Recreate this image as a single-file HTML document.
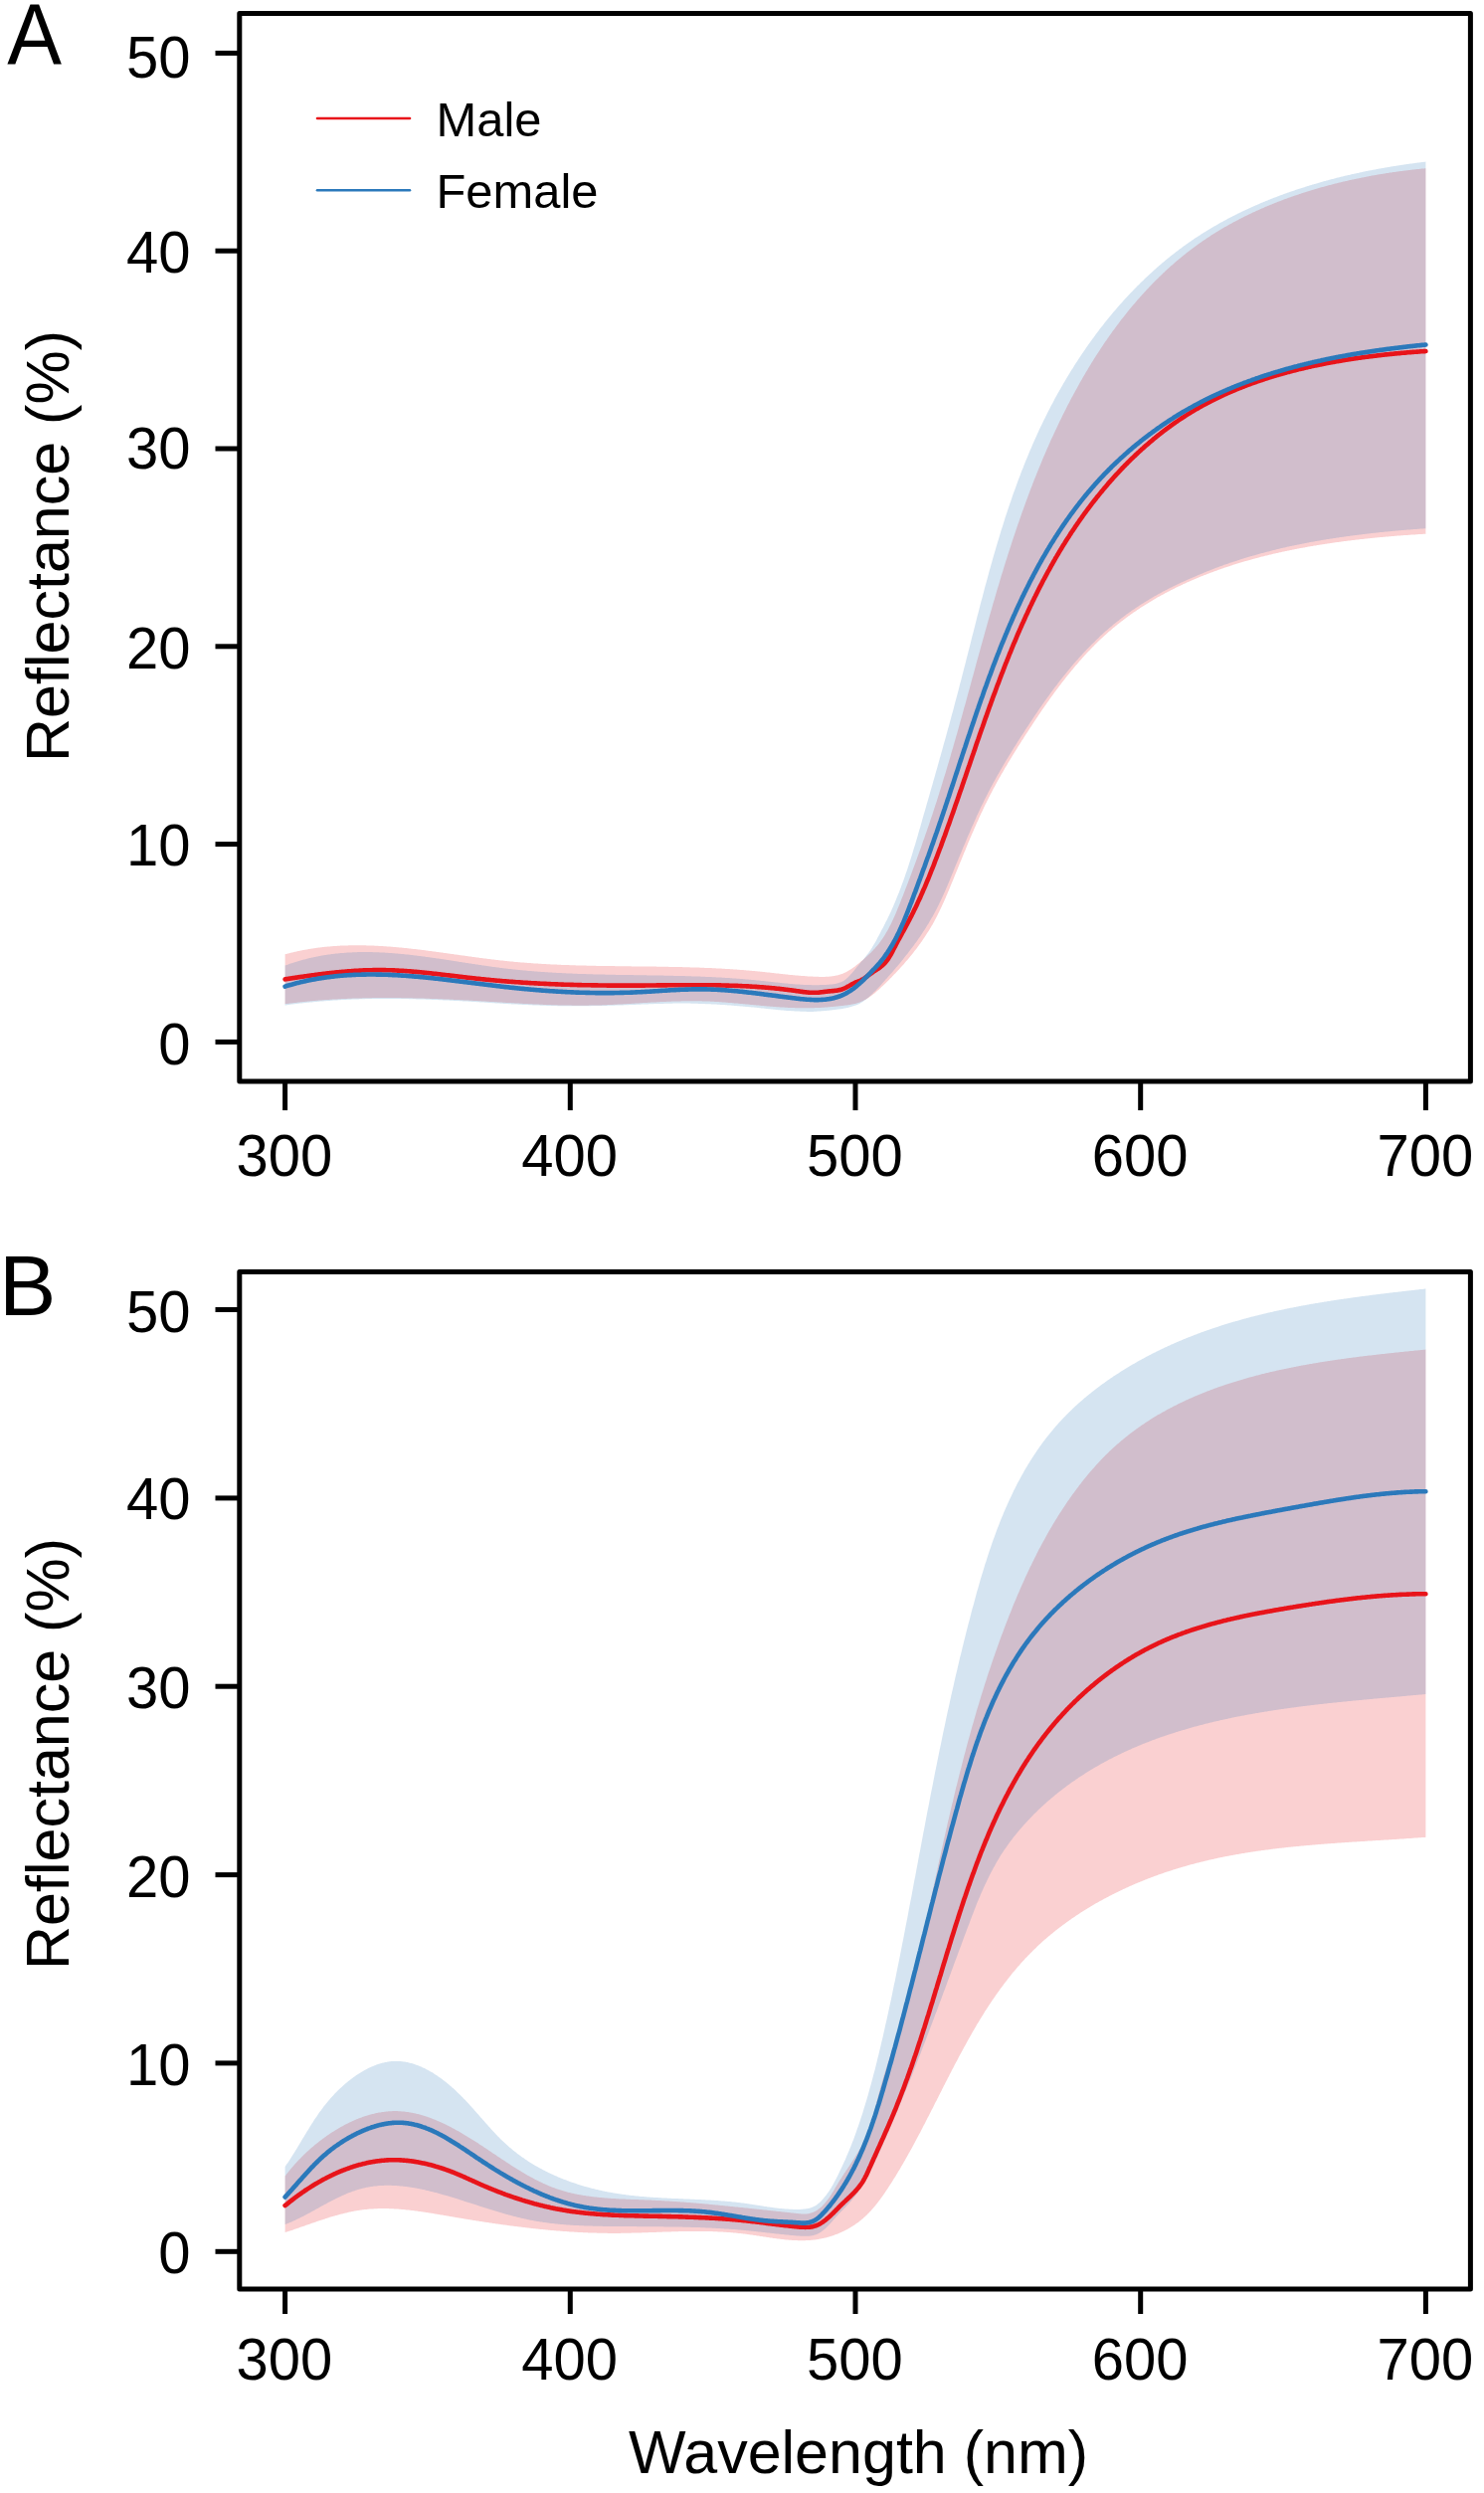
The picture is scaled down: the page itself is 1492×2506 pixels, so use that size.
<!DOCTYPE html>
<html><head><meta charset="utf-8"><title>Reflectance spectra</title>
<style>
html,body{margin:0;padding:0;background:#fff;}
body{width:1492px;height:2506px;overflow:hidden;font-family:"Liberation Sans",sans-serif;}
svg{display:block;}
text{font-family:"Liberation Sans",sans-serif;fill:#000;}
.tk{font-size:58px;}
.pl{font-size:86px;}
.lg{font-size:48.9px;}
.al{font-size:61px;}
</style></head><body>
<svg width="1492" height="2506" viewBox="0 0 1492 2506">
<rect width="1492" height="2506" fill="#fff"/>
<path d="M286.6 959.3L287.4 959.1L288.2 958.9L289.1 958.6L289.9 958.4L290.7 958.2L291.5 958.0L292.3 957.8L293.2 957.6L294.0 957.4L294.8 957.2L295.6 957.0L296.4 956.8L297.3 956.7L298.1 956.5L298.9 956.3L299.7 956.1L300.5 955.9L301.4 955.8L302.2 955.6L303.0 955.4L303.8 955.3L304.6 955.1L305.5 955.0L306.3 954.8L307.1 954.7L307.9 954.5L308.7 954.4L309.6 954.2L310.4 954.1L311.2 953.9L312.0 953.8L312.8 953.7L313.7 953.5L314.5 953.4L315.3 953.3L316.1 953.2L316.9 953.1L317.7 952.9L318.6 952.8L319.4 952.7L320.2 952.6L321.0 952.5L321.8 952.4L322.7 952.3L323.5 952.2L324.3 952.1L325.1 952.0L325.9 951.9L326.8 951.8L327.6 951.8L328.4 951.7L329.2 951.6L330.0 951.5L330.9 951.4L331.7 951.4L332.5 951.3L333.3 951.2L334.1 951.2L335.0 951.1L335.8 951.0L336.6 951.0L337.4 950.9L338.2 950.9L339.1 950.8L339.9 950.8L340.7 950.7L341.5 950.7L342.3 950.6L343.2 950.6L344.0 950.6L344.8 950.5L345.6 950.5L346.4 950.5L347.3 950.4L348.1 950.4L348.9 950.4L349.7 950.4L350.5 950.3L351.4 950.3L352.2 950.3L353.0 950.3L353.8 950.3L354.6 950.3L355.5 950.3L356.3 950.2L357.1 950.2L357.9 950.2L358.7 950.2L359.6 950.2L360.4 950.2L361.2 950.2L362.0 950.2L362.8 950.3L363.7 950.3L364.5 950.3L365.3 950.3L366.1 950.3L366.9 950.3L367.8 950.3L368.6 950.4L369.4 950.4L370.2 950.4L371.0 950.4L371.9 950.5L372.7 950.5L373.5 950.5L374.3 950.5L375.1 950.6L376.0 950.6L376.8 950.7L377.6 950.7L378.4 950.7L379.2 950.8L380.0 950.8L380.9 950.9L381.7 950.9L382.5 951.0L383.3 951.0L384.1 951.0L385.0 951.1L385.8 951.2L386.6 951.2L387.4 951.3L388.2 951.3L389.1 951.4L389.9 951.4L390.7 951.5L391.5 951.6L392.3 951.6L393.2 951.7L394.0 951.8L394.8 951.8L395.6 951.9L396.4 952.0L397.3 952.0L398.1 952.1L398.9 952.2L399.7 952.3L400.5 952.3L401.4 952.4L402.2 952.5L403.0 952.6L403.8 952.6L404.6 952.7L405.5 952.8L406.3 952.9L407.1 953.0L407.9 953.1L408.7 953.1L409.6 953.2L410.4 953.3L411.2 953.4L412.0 953.5L412.8 953.6L413.7 953.7L414.5 953.8L415.3 953.9L416.1 954.0L416.9 954.1L417.8 954.1L418.6 954.2L419.4 954.3L420.2 954.4L421.0 954.5L421.9 954.6L422.7 954.7L423.5 954.8L424.3 954.9L425.1 955.0L426.0 955.1L426.8 955.2L427.6 955.3L428.4 955.5L429.2 955.6L430.1 955.7L430.9 955.8L431.7 955.9L432.5 956.0L433.3 956.1L434.2 956.2L435.0 956.3L435.8 956.4L436.6 956.5L437.4 956.6L438.2 956.7L439.1 956.9L439.9 957.0L440.7 957.1L441.5 957.2L442.3 957.3L443.2 957.4L444.0 957.5L444.8 957.6L445.6 957.8L446.4 957.9L447.3 958.0L448.1 958.1L448.9 958.2L449.7 958.3L450.5 958.4L451.4 958.5L452.2 958.7L453.0 958.8L453.8 958.9L454.6 959.0L455.5 959.1L456.3 959.2L457.1 959.4L457.9 959.5L458.7 959.6L459.6 959.7L460.4 959.8L461.2 959.9L462.0 960.0L462.8 960.2L463.7 960.3L464.5 960.4L465.3 960.5L466.1 960.6L466.9 960.7L467.8 960.8L468.6 961.0L469.4 961.1L470.2 961.2L471.0 961.3L471.9 961.4L472.7 961.5L473.5 961.6L474.3 961.8L475.1 961.9L476.0 962.0L476.8 962.1L477.6 962.2L478.4 962.3L479.2 962.4L480.1 962.5L480.9 962.6L481.7 962.7L482.5 962.9L483.3 963.0L484.2 963.1L485.0 963.2L485.8 963.3L486.6 963.4L487.4 963.5L488.3 963.6L489.1 963.7L489.9 963.8L490.7 963.9L491.5 964.0L492.4 964.1L493.2 964.2L494.0 964.3L494.8 964.4L495.6 964.5L496.5 964.6L497.3 964.7L498.1 964.8L498.9 964.9L499.7 965.0L500.5 965.1L501.4 965.2L502.2 965.3L503.0 965.4L503.8 965.5L504.6 965.6L505.5 965.6L506.3 965.7L507.1 965.8L507.9 965.9L508.7 966.0L509.6 966.1L510.4 966.2L511.2 966.2L512.0 966.3L512.8 966.4L513.7 966.5L514.5 966.6L515.3 966.6L516.1 966.7L516.9 966.8L517.8 966.9L518.6 966.9L519.4 967.0L520.2 967.1L521.0 967.2L521.9 967.2L522.7 967.3L523.5 967.4L524.3 967.4L525.1 967.5L526.0 967.6L526.8 967.6L527.6 967.7L528.4 967.8L529.2 967.8L530.1 967.9L530.9 968.0L531.7 968.0L532.5 968.1L533.3 968.1L534.2 968.2L535.0 968.3L535.8 968.3L536.6 968.4L537.4 968.4L538.3 968.5L539.1 968.5L539.9 968.6L540.7 968.6L541.5 968.7L542.4 968.7L543.2 968.8L544.0 968.8L544.8 968.9L545.6 968.9L546.5 969.0L547.3 969.0L548.1 969.1L548.9 969.1L549.7 969.2L550.6 969.2L551.4 969.2L552.2 969.3L553.0 969.3L553.8 969.4L554.7 969.4L555.5 969.5L556.3 969.5L557.1 969.5L557.9 969.6L558.7 969.6L559.6 969.6L560.4 969.7L561.2 969.7L562.0 969.8L562.8 969.8L563.7 969.8L564.5 969.9L565.3 969.9L566.1 969.9L566.9 970.0L567.8 970.0L568.6 970.0L569.4 970.0L570.2 970.1L571.0 970.1L571.9 970.1L572.7 970.2L573.5 970.2L574.3 970.2L575.1 970.2L576.0 970.3L576.8 970.3L577.6 970.3L578.4 970.3L579.2 970.4L580.1 970.4L580.9 970.4L581.7 970.4L582.5 970.5L583.3 970.5L584.2 970.5L585.0 970.5L585.8 970.6L586.6 970.6L587.4 970.6L588.3 970.6L589.1 970.6L589.9 970.7L590.7 970.7L591.5 970.7L592.4 970.7L593.2 970.7L594.0 970.7L594.8 970.8L595.6 970.8L596.5 970.8L597.3 970.8L598.1 970.8L598.9 970.8L599.7 970.9L600.6 970.9L601.4 970.9L602.2 970.9L603.0 970.9L603.8 970.9L604.7 971.0L605.5 971.0L606.3 971.0L607.1 971.0L607.9 971.0L608.8 971.0L609.6 971.0L610.4 971.0L611.2 971.1L612.0 971.1L612.9 971.1L613.7 971.1L614.5 971.1L615.3 971.1L616.1 971.1L617.0 971.1L617.8 971.1L618.6 971.2L619.4 971.2L620.2 971.2L621.0 971.2L621.9 971.2L622.7 971.2L623.5 971.2L624.3 971.2L625.1 971.2L626.0 971.3L626.8 971.3L627.6 971.3L628.4 971.3L629.2 971.3L630.1 971.3L630.9 971.3L631.7 971.3L632.5 971.3L633.3 971.3L634.2 971.3L635.0 971.4L635.8 971.4L636.6 971.4L637.4 971.4L638.3 971.4L639.1 971.4L639.9 971.4L640.7 971.4L641.5 971.4L642.4 971.4L643.2 971.4L644.0 971.5L644.8 971.5L645.6 971.5L646.5 971.5L647.3 971.5L648.1 971.5L648.9 971.5L649.7 971.5L650.6 971.5L651.4 971.5L652.2 971.6L653.0 971.6L653.8 971.6L654.7 971.6L655.5 971.6L656.3 971.6L657.1 971.6L657.9 971.6L658.8 971.6L659.6 971.6L660.4 971.7L661.2 971.7L662.0 971.7L662.9 971.7L663.7 971.7L664.5 971.7L665.3 971.7L666.1 971.7L667.0 971.8L667.8 971.8L668.6 971.8L669.4 971.8L670.2 971.8L671.1 971.8L671.9 971.8L672.7 971.9L673.5 971.9L674.3 971.9L675.2 971.9L676.0 971.9L676.8 971.9L677.6 972.0L678.4 972.0L679.2 972.0L680.1 972.0L680.9 972.0L681.7 972.0L682.5 972.1L683.3 972.1L684.2 972.1L685.0 972.1L685.8 972.1L686.6 972.2L687.4 972.2L688.3 972.2L689.1 972.2L689.9 972.2L690.7 972.3L691.5 972.3L692.4 972.3L693.2 972.3L694.0 972.4L694.8 972.4L695.6 972.4L696.5 972.4L697.3 972.5L698.1 972.5L698.9 972.5L699.7 972.5L700.6 972.6L701.4 972.6L702.2 972.6L703.0 972.6L703.8 972.7L704.7 972.7L705.5 972.7L706.3 972.8L707.1 972.8L707.9 972.8L708.8 972.9L709.6 972.9L710.4 972.9L711.2 973.0L712.0 973.0L712.9 973.0L713.7 973.1L714.5 973.1L715.3 973.1L716.1 973.2L717.0 973.2L717.8 973.3L718.6 973.3L719.4 973.3L720.2 973.4L721.1 973.4L721.9 973.5L722.7 973.5L723.5 973.5L724.3 973.6L725.2 973.6L726.0 973.7L726.8 973.7L727.6 973.8L728.4 973.8L729.3 973.9L730.1 973.9L730.9 974.0L731.7 974.0L732.5 974.1L733.4 974.1L734.2 974.2L735.0 974.2L735.8 974.3L736.6 974.3L737.5 974.4L738.3 974.4L739.1 974.5L739.9 974.6L740.7 974.6L741.5 974.7L742.4 974.7L743.2 974.8L744.0 974.9L744.8 974.9L745.6 975.0L746.5 975.0L747.3 975.1L748.1 975.2L748.9 975.2L749.7 975.3L750.6 975.4L751.4 975.4L752.2 975.5L753.0 975.6L753.8 975.7L754.7 975.7L755.5 975.8L756.3 975.9L757.1 976.0L757.9 976.0L758.8 976.1L759.6 976.2L760.4 976.3L761.2 976.3L762.0 976.4L762.9 976.5L763.7 976.6L764.5 976.7L765.3 976.8L766.1 976.8L767.0 976.9L767.8 977.0L768.6 977.1L769.4 977.2L770.2 977.3L771.1 977.4L771.9 977.5L772.7 977.5L773.5 977.6L774.3 977.7L775.2 977.8L776.0 977.9L776.8 978.0L777.6 978.1L778.4 978.2L779.3 978.3L780.1 978.4L780.9 978.5L781.7 978.5L782.5 978.6L783.4 978.7L784.2 978.8L785.0 978.9L785.8 979.0L786.6 979.1L787.5 979.2L788.3 979.3L789.1 979.3L789.9 979.4L790.7 979.5L791.6 979.6L792.4 979.7L793.2 979.8L794.0 979.9L794.8 979.9L795.7 980.0L796.5 980.1L797.3 980.2L798.1 980.2L798.9 980.3L799.7 980.4L800.6 980.5L801.4 980.5L802.2 980.6L803.0 980.7L803.8 980.8L804.7 980.8L805.5 980.9L806.3 981.0L807.1 981.0L807.9 981.1L808.8 981.1L809.6 981.2L810.4 981.2L811.2 981.3L812.0 981.4L812.9 981.4L813.7 981.5L814.5 981.5L815.3 981.5L816.1 981.6L817.0 981.6L817.8 981.7L818.6 981.7L819.4 981.7L820.2 981.8L821.1 981.8L821.9 981.8L822.7 981.8L823.5 981.9L824.3 981.9L825.2 981.9L826.0 981.9L826.8 981.9L827.6 981.9L828.4 981.9L829.3 981.9L830.1 981.8L830.9 981.8L831.7 981.8L832.5 981.7L833.4 981.7L834.2 981.6L835.0 981.5L835.8 981.4L836.6 981.3L837.5 981.2L838.3 981.1L839.1 981.0L839.9 980.8L840.7 980.6L841.6 980.4L842.4 980.2L843.2 980.0L844.0 979.8L844.8 979.5L845.7 979.3L846.5 979.0L847.3 978.7L848.1 978.3L848.9 977.9L849.8 977.6L850.6 977.2L851.4 976.7L852.2 976.3L853.0 975.8L853.9 975.3L854.7 974.8L855.5 974.3L856.3 973.7L857.1 973.2L858.0 972.6L858.8 972.0L859.6 971.4L860.4 970.8L861.2 970.1L862.0 969.5L862.9 968.8L863.7 968.2L864.5 967.5L865.3 966.8L866.1 966.1L867.0 965.4L867.8 964.7L868.6 964.0L869.4 963.3L870.2 962.6L871.1 961.8L871.9 961.1L872.7 960.3L873.5 959.6L874.3 958.8L875.2 958.0L876.0 957.2L876.8 956.3L877.6 955.5L878.4 954.6L879.3 953.7L880.1 952.8L880.9 951.8L881.7 950.9L882.5 949.9L883.4 948.9L884.2 947.8L885.0 946.7L885.8 945.6L886.6 944.4L887.5 943.2L888.3 942.0L889.1 940.7L889.9 939.4L890.7 938.0L891.6 936.6L892.4 935.2L893.2 933.7L894.0 932.1L894.8 930.6L895.7 928.9L896.5 927.3L897.3 925.5L898.1 923.8L898.9 922.0L899.8 920.1L900.6 918.2L901.4 916.3L902.2 914.3L903.0 912.3L903.9 910.3L904.7 908.2L905.5 906.2L906.3 904.1L907.1 902.0L908.0 899.9L908.8 897.8L909.6 895.7L910.4 893.6L911.2 891.4L912.1 889.3L912.9 887.2L913.7 885.0L914.5 882.9L915.3 880.7L916.2 878.5L917.0 876.3L917.8 874.1L918.6 871.9L919.4 869.7L920.3 867.5L921.1 865.3L921.9 863.0L922.7 860.8L923.5 858.5L924.3 856.3L925.2 854.0L926.0 851.7L926.8 849.4L927.6 847.1L928.4 844.8L929.3 842.4L930.1 840.1L930.9 837.7L931.7 835.4L932.5 833.0L933.4 830.6L934.2 828.2L935.0 825.7L935.8 823.3L936.6 820.9L937.5 818.4L938.3 815.9L939.1 813.4L939.9 810.9L940.7 808.4L941.6 805.9L942.4 803.3L943.2 800.7L944.0 798.2L944.8 795.6L945.7 792.9L946.5 790.3L947.3 787.7L948.1 785.0L948.9 782.3L949.8 779.6L950.6 776.9L951.4 774.2L952.2 771.5L953.0 768.7L953.9 766.0L954.7 763.2L955.5 760.4L956.3 757.6L957.1 754.8L958.0 752.0L958.8 749.1L959.6 746.3L960.4 743.4L961.2 740.5L962.1 737.7L962.9 734.8L963.7 731.9L964.5 729.0L965.3 726.0L966.2 723.1L967.0 720.2L967.8 717.2L968.6 714.3L969.4 711.3L970.3 708.4L971.1 705.4L971.9 702.4L972.7 699.4L973.5 696.5L974.4 693.5L975.2 690.5L976.0 687.5L976.8 684.5L977.6 681.5L978.5 678.5L979.3 675.5L980.1 672.6L980.9 669.6L981.7 666.6L982.5 663.6L983.4 660.6L984.2 657.6L985.0 654.7L985.8 651.7L986.6 648.7L987.5 645.8L988.3 642.8L989.1 639.9L989.9 636.9L990.7 634.0L991.6 631.1L992.4 628.1L993.2 625.2L994.0 622.3L994.8 619.5L995.7 616.6L996.5 613.7L997.3 610.9L998.1 608.0L998.9 605.2L999.8 602.4L1000.6 599.6L1001.4 596.8L1002.2 594.0L1003.0 591.2L1003.9 588.5L1004.7 585.7L1005.5 583.0L1006.3 580.3L1007.1 577.6L1008.0 574.9L1008.8 572.2L1009.6 569.6L1010.4 566.9L1011.2 564.3L1012.1 561.7L1012.9 559.1L1013.7 556.5L1014.5 553.9L1015.3 551.4L1016.2 548.9L1017.0 546.3L1017.8 543.8L1018.6 541.4L1019.4 538.9L1020.3 536.4L1021.1 534.0L1021.9 531.6L1022.7 529.2L1023.5 526.8L1024.4 524.4L1025.2 522.0L1026.0 519.7L1026.8 517.4L1027.6 515.0L1028.5 512.7L1029.3 510.5L1030.1 508.2L1030.9 505.9L1031.7 503.7L1032.6 501.5L1033.4 499.3L1034.2 497.1L1035.0 494.9L1035.8 492.7L1036.7 490.6L1037.5 488.5L1038.3 486.3L1039.1 484.2L1039.9 482.1L1040.8 480.1L1041.6 478.0L1042.4 475.9L1043.2 473.9L1044.0 471.9L1044.8 469.9L1045.7 467.9L1046.5 465.9L1047.3 463.9L1048.1 462.0L1048.9 460.0L1049.8 458.1L1050.6 456.2L1051.4 454.3L1052.2 452.4L1053.0 450.5L1053.9 448.7L1054.7 446.8L1055.5 445.0L1056.3 443.1L1057.1 441.3L1058.0 439.5L1058.8 437.7L1059.6 435.9L1060.4 434.2L1061.2 432.4L1062.1 430.7L1062.9 428.9L1063.7 427.2L1064.5 425.5L1065.3 423.8L1066.2 422.1L1067.0 420.4L1067.8 418.7L1068.6 417.1L1069.4 415.4L1070.3 413.8L1071.1 412.2L1071.9 410.6L1072.7 408.9L1073.5 407.3L1074.4 405.8L1075.2 404.2L1076.0 402.6L1076.8 401.1L1077.6 399.5L1078.5 398.0L1079.3 396.4L1080.1 394.9L1080.9 393.4L1081.7 391.9L1082.6 390.4L1083.4 388.9L1084.2 387.5L1085.0 386.0L1085.8 384.5L1086.7 383.1L1087.5 381.7L1088.3 380.2L1089.1 378.8L1089.9 377.4L1090.8 376.0L1091.6 374.6L1092.4 373.2L1093.2 371.9L1094.0 370.5L1094.9 369.1L1095.7 367.8L1096.5 366.4L1097.3 365.1L1098.1 363.8L1099.0 362.5L1099.8 361.1L1100.6 359.8L1101.4 358.6L1102.2 357.3L1103.0 356.0L1103.9 354.7L1104.7 353.5L1105.5 352.2L1106.3 351.0L1107.1 349.7L1108.0 348.5L1108.8 347.3L1109.6 346.0L1110.4 344.8L1111.2 343.6L1112.1 342.4L1112.9 341.3L1113.7 340.1L1114.5 338.9L1115.3 337.7L1116.2 336.6L1117.0 335.4L1117.8 334.3L1118.6 333.1L1119.4 332.0L1120.3 330.9L1121.1 329.8L1121.9 328.7L1122.7 327.6L1123.5 326.5L1124.4 325.4L1125.2 324.3L1126.0 323.2L1126.8 322.1L1127.6 321.1L1128.5 320.0L1129.3 319.0L1130.1 317.9L1130.9 316.9L1131.7 315.9L1132.6 314.8L1133.4 313.8L1134.2 312.8L1135.0 311.8L1135.8 310.8L1136.7 309.8L1137.5 308.8L1138.3 307.8L1139.1 306.8L1139.9 305.9L1140.8 304.9L1141.6 304.0L1142.4 303.0L1143.2 302.1L1144.0 301.1L1144.9 300.2L1145.7 299.2L1146.5 298.3L1147.3 297.4L1148.1 296.5L1149.0 295.6L1149.8 294.7L1150.6 293.8L1151.4 292.9L1152.2 292.0L1153.1 291.1L1153.9 290.3L1154.7 289.4L1155.5 288.5L1156.3 287.7L1157.2 286.8L1158.0 286.0L1158.8 285.1L1159.6 284.3L1160.4 283.4L1161.3 282.6L1162.1 281.8L1162.9 281.0L1163.7 280.2L1164.5 279.4L1165.3 278.6L1166.2 277.8L1167.0 277.0L1167.8 276.2L1168.6 275.4L1169.4 274.6L1170.3 273.9L1171.1 273.1L1171.9 272.3L1172.7 271.6L1173.5 270.8L1174.4 270.1L1175.2 269.3L1176.0 268.6L1176.8 267.8L1177.6 267.1L1178.5 266.4L1179.3 265.7L1180.1 265.0L1180.9 264.2L1181.7 263.5L1182.6 262.8L1183.4 262.1L1184.2 261.4L1185.0 260.8L1185.8 260.1L1186.7 259.4L1187.5 258.7L1188.3 258.0L1189.1 257.4L1189.9 256.7L1190.8 256.1L1191.6 255.4L1192.4 254.7L1193.2 254.1L1194.0 253.5L1194.9 252.8L1195.7 252.2L1196.5 251.6L1197.3 250.9L1198.1 250.3L1199.0 249.7L1199.8 249.1L1200.6 248.5L1201.4 247.9L1202.2 247.3L1203.1 246.7L1203.9 246.1L1204.7 245.5L1205.5 244.9L1206.3 244.3L1207.2 243.8L1208.0 243.2L1208.8 242.6L1209.6 242.1L1210.4 241.5L1211.3 240.9L1212.1 240.4L1212.9 239.8L1213.7 239.3L1214.5 238.7L1215.4 238.2L1216.2 237.7L1217.0 237.1L1217.8 236.6L1218.6 236.1L1219.5 235.6L1220.3 235.0L1221.1 234.5L1221.9 234.0L1222.7 233.5L1223.5 233.0L1224.4 232.5L1225.2 232.0L1226.0 231.5L1226.8 231.0L1227.6 230.5L1228.5 230.0L1229.3 229.6L1230.1 229.1L1230.9 228.6L1231.7 228.1L1232.6 227.7L1233.4 227.2L1234.2 226.7L1235.0 226.3L1235.8 225.8L1236.7 225.3L1237.5 224.9L1238.3 224.4L1239.1 224.0L1239.9 223.6L1240.8 223.1L1241.6 222.7L1242.4 222.2L1243.2 221.8L1244.0 221.4L1244.9 220.9L1245.7 220.5L1246.5 220.1L1247.3 219.7L1248.1 219.3L1249.0 218.8L1249.8 218.4L1250.6 218.0L1251.4 217.6L1252.2 217.2L1253.1 216.8L1253.9 216.4L1254.7 216.0L1255.5 215.6L1256.3 215.2L1257.2 214.8L1258.0 214.4L1258.8 214.0L1259.6 213.6L1260.4 213.3L1261.3 212.9L1262.1 212.5L1262.9 212.1L1263.7 211.8L1264.5 211.4L1265.4 211.0L1266.2 210.7L1267.0 210.3L1267.8 209.9L1268.6 209.6L1269.5 209.2L1270.3 208.9L1271.1 208.5L1271.9 208.1L1272.7 207.8L1273.6 207.5L1274.4 207.1L1275.2 206.8L1276.0 206.4L1276.8 206.1L1277.7 205.7L1278.5 205.4L1279.3 205.1L1280.1 204.7L1280.9 204.4L1281.8 204.1L1282.6 203.8L1283.4 203.4L1284.2 203.1L1285.0 202.8L1285.8 202.5L1286.7 202.2L1287.5 201.9L1288.3 201.5L1289.1 201.2L1289.9 200.9L1290.8 200.6L1291.6 200.3L1292.4 200.0L1293.2 199.7L1294.0 199.4L1294.9 199.1L1295.7 198.8L1296.5 198.5L1297.3 198.2L1298.1 197.9L1299.0 197.6L1299.8 197.4L1300.6 197.1L1301.4 196.8L1302.2 196.5L1303.1 196.2L1303.9 196.0L1304.7 195.7L1305.5 195.4L1306.3 195.1L1307.2 194.9L1308.0 194.6L1308.8 194.3L1309.6 194.0L1310.4 193.8L1311.3 193.5L1312.1 193.3L1312.9 193.0L1313.7 192.7L1314.5 192.5L1315.4 192.2L1316.2 192.0L1317.0 191.7L1317.8 191.5L1318.6 191.2L1319.5 191.0L1320.3 190.7L1321.1 190.5L1321.9 190.2L1322.7 190.0L1323.6 189.8L1324.4 189.5L1325.2 189.3L1326.0 189.0L1326.8 188.8L1327.7 188.6L1328.5 188.3L1329.3 188.1L1330.1 187.9L1330.9 187.7L1331.8 187.4L1332.6 187.2L1333.4 187.0L1334.2 186.8L1335.0 186.5L1335.9 186.3L1336.7 186.1L1337.5 185.9L1338.3 185.7L1339.1 185.5L1340.0 185.3L1340.8 185.0L1341.6 184.8L1342.4 184.6L1343.2 184.4L1344.0 184.2L1344.9 184.0L1345.7 183.8L1346.5 183.6L1347.3 183.4L1348.1 183.2L1349.0 183.0L1349.8 182.8L1350.6 182.6L1351.4 182.4L1352.2 182.2L1353.1 182.1L1353.9 181.9L1354.7 181.7L1355.5 181.5L1356.3 181.3L1357.2 181.1L1358.0 180.9L1358.8 180.8L1359.6 180.6L1360.4 180.4L1361.3 180.2L1362.1 180.1L1362.9 179.9L1363.7 179.7L1364.5 179.5L1365.4 179.4L1366.2 179.2L1367.0 179.0L1367.8 178.9L1368.6 178.7L1369.5 178.5L1370.3 178.4L1371.1 178.2L1371.9 178.0L1372.7 177.9L1373.6 177.7L1374.4 177.6L1375.2 177.4L1376.0 177.3L1376.8 177.1L1377.7 176.9L1378.5 176.8L1379.3 176.6L1380.1 176.5L1380.9 176.3L1381.8 176.2L1382.6 176.1L1383.4 175.9L1384.2 175.8L1385.0 175.6L1385.9 175.5L1386.7 175.3L1387.5 175.2L1388.3 175.1L1389.1 174.9L1390.0 174.8L1390.8 174.7L1391.6 174.5L1392.4 174.4L1393.2 174.3L1394.1 174.1L1394.9 174.0L1395.7 173.9L1396.5 173.8L1397.3 173.6L1398.2 173.5L1399.0 173.4L1399.8 173.3L1400.6 173.1L1401.4 173.0L1402.3 172.9L1403.1 172.8L1403.9 172.7L1404.7 172.6L1405.5 172.4L1406.3 172.3L1407.2 172.2L1408.0 172.1L1408.8 172.0L1409.6 171.9L1410.4 171.8L1411.3 171.7L1412.1 171.6L1412.9 171.5L1413.7 171.4L1414.5 171.3L1415.4 171.2L1416.2 171.1L1417.0 171.0L1417.8 170.9L1418.6 170.8L1419.5 170.7L1420.3 170.6L1421.1 170.5L1421.9 170.4L1422.7 170.3L1423.6 170.2L1424.4 170.1L1425.2 170.0L1426.0 169.9L1426.8 169.9L1427.7 169.8L1428.5 169.7L1429.3 169.6L1430.1 169.5L1430.9 169.4L1431.8 169.4L1432.6 169.3L1433.4 169.2L1433.4 536.7L1432.6 536.7L1431.8 536.8L1430.9 536.8L1430.1 536.9L1429.3 536.9L1428.5 537.0L1427.7 537.0L1426.8 537.1L1426.0 537.1L1425.2 537.2L1424.4 537.3L1423.6 537.3L1422.7 537.4L1421.9 537.4L1421.1 537.5L1420.3 537.5L1419.5 537.6L1418.6 537.6L1417.8 537.7L1417.0 537.7L1416.2 537.8L1415.4 537.9L1414.5 537.9L1413.7 538.0L1412.9 538.0L1412.1 538.1L1411.3 538.1L1410.4 538.2L1409.6 538.3L1408.8 538.3L1408.0 538.4L1407.2 538.5L1406.3 538.5L1405.5 538.6L1404.7 538.6L1403.9 538.7L1403.1 538.8L1402.3 538.8L1401.4 538.9L1400.6 539.0L1399.8 539.0L1399.0 539.1L1398.2 539.2L1397.3 539.2L1396.5 539.3L1395.7 539.4L1394.9 539.5L1394.1 539.5L1393.2 539.6L1392.4 539.7L1391.6 539.7L1390.8 539.8L1390.0 539.9L1389.1 540.0L1388.3 540.0L1387.5 540.1L1386.7 540.2L1385.9 540.3L1385.0 540.3L1384.2 540.4L1383.4 540.5L1382.6 540.6L1381.8 540.7L1380.9 540.7L1380.1 540.8L1379.3 540.9L1378.5 541.0L1377.7 541.1L1376.8 541.2L1376.0 541.2L1375.2 541.3L1374.4 541.4L1373.6 541.5L1372.7 541.6L1371.9 541.7L1371.1 541.8L1370.3 541.9L1369.5 541.9L1368.6 542.0L1367.8 542.1L1367.0 542.2L1366.2 542.3L1365.4 542.4L1364.5 542.5L1363.7 542.6L1362.9 542.7L1362.1 542.8L1361.3 542.9L1360.4 543.0L1359.6 543.1L1358.8 543.2L1358.0 543.3L1357.2 543.4L1356.3 543.5L1355.5 543.6L1354.7 543.7L1353.9 543.8L1353.1 543.9L1352.2 544.0L1351.4 544.1L1350.6 544.2L1349.8 544.3L1349.0 544.4L1348.1 544.5L1347.3 544.7L1346.5 544.8L1345.7 544.9L1344.9 545.0L1344.0 545.1L1343.2 545.2L1342.4 545.3L1341.6 545.5L1340.8 545.6L1340.0 545.7L1339.1 545.8L1338.3 545.9L1337.5 546.0L1336.7 546.2L1335.9 546.3L1335.0 546.4L1334.2 546.5L1333.4 546.7L1332.6 546.8L1331.8 546.9L1330.9 547.0L1330.1 547.2L1329.3 547.3L1328.5 547.4L1327.7 547.6L1326.8 547.7L1326.0 547.8L1325.2 547.9L1324.4 548.1L1323.6 548.2L1322.7 548.4L1321.9 548.5L1321.1 548.6L1320.3 548.8L1319.5 548.9L1318.6 549.0L1317.8 549.2L1317.0 549.3L1316.2 549.5L1315.4 549.6L1314.5 549.8L1313.7 549.9L1312.9 550.1L1312.1 550.2L1311.3 550.4L1310.4 550.5L1309.6 550.7L1308.8 550.8L1308.0 551.0L1307.2 551.1L1306.3 551.3L1305.5 551.4L1304.7 551.6L1303.9 551.8L1303.1 551.9L1302.2 552.1L1301.4 552.2L1300.6 552.4L1299.8 552.6L1299.0 552.7L1298.1 552.9L1297.3 553.1L1296.5 553.2L1295.7 553.4L1294.9 553.6L1294.0 553.7L1293.2 553.9L1292.4 554.1L1291.6 554.3L1290.8 554.4L1289.9 554.6L1289.1 554.8L1288.3 555.0L1287.5 555.2L1286.7 555.3L1285.8 555.5L1285.0 555.7L1284.2 555.9L1283.4 556.1L1282.6 556.3L1281.8 556.4L1280.9 556.6L1280.1 556.8L1279.3 557.0L1278.5 557.2L1277.7 557.4L1276.8 557.6L1276.0 557.8L1275.2 558.0L1274.4 558.2L1273.6 558.4L1272.7 558.6L1271.9 558.8L1271.1 559.0L1270.3 559.2L1269.5 559.4L1268.6 559.6L1267.8 559.8L1267.0 560.1L1266.2 560.3L1265.4 560.5L1264.5 560.7L1263.7 560.9L1262.9 561.1L1262.1 561.4L1261.3 561.6L1260.4 561.8L1259.6 562.0L1258.8 562.3L1258.0 562.5L1257.2 562.7L1256.3 562.9L1255.5 563.2L1254.7 563.4L1253.9 563.6L1253.1 563.9L1252.2 564.1L1251.4 564.3L1250.6 564.6L1249.8 564.8L1249.0 565.1L1248.1 565.3L1247.3 565.6L1246.5 565.8L1245.7 566.1L1244.9 566.3L1244.0 566.6L1243.2 566.8L1242.4 567.1L1241.6 567.3L1240.8 567.6L1239.9 567.8L1239.1 568.1L1238.3 568.4L1237.5 568.6L1236.7 568.9L1235.8 569.2L1235.0 569.4L1234.2 569.7L1233.4 570.0L1232.6 570.2L1231.7 570.5L1230.9 570.8L1230.1 571.1L1229.3 571.4L1228.5 571.6L1227.6 571.9L1226.8 572.2L1226.0 572.5L1225.2 572.8L1224.4 573.1L1223.5 573.4L1222.7 573.7L1221.9 574.0L1221.1 574.3L1220.3 574.6L1219.5 574.9L1218.6 575.2L1217.8 575.5L1217.0 575.8L1216.2 576.1L1215.4 576.4L1214.5 576.7L1213.7 577.0L1212.9 577.4L1212.1 577.7L1211.3 578.0L1210.4 578.3L1209.6 578.7L1208.8 579.0L1208.0 579.3L1207.2 579.6L1206.3 580.0L1205.5 580.3L1204.7 580.7L1203.9 581.0L1203.1 581.3L1202.2 581.7L1201.4 582.0L1200.6 582.4L1199.8 582.7L1199.0 583.1L1198.1 583.4L1197.3 583.8L1196.5 584.2L1195.7 584.5L1194.9 584.9L1194.0 585.3L1193.2 585.6L1192.4 586.0L1191.6 586.4L1190.8 586.7L1189.9 587.1L1189.1 587.5L1188.3 587.9L1187.5 588.3L1186.7 588.7L1185.8 589.1L1185.0 589.4L1184.2 589.8L1183.4 590.2L1182.6 590.6L1181.7 591.0L1180.9 591.4L1180.1 591.9L1179.3 592.3L1178.5 592.7L1177.6 593.1L1176.8 593.5L1176.0 593.9L1175.2 594.4L1174.4 594.8L1173.5 595.2L1172.7 595.7L1171.9 596.1L1171.1 596.5L1170.3 597.0L1169.4 597.4L1168.6 597.9L1167.8 598.3L1167.0 598.8L1166.2 599.2L1165.3 599.7L1164.5 600.1L1163.7 600.6L1162.9 601.1L1162.1 601.5L1161.3 602.0L1160.4 602.5L1159.6 603.0L1158.8 603.5L1158.0 603.9L1157.2 604.4L1156.3 604.9L1155.5 605.4L1154.7 605.9L1153.9 606.4L1153.1 606.9L1152.2 607.4L1151.4 608.0L1150.6 608.5L1149.8 609.0L1149.0 609.5L1148.1 610.1L1147.3 610.6L1146.5 611.1L1145.7 611.7L1144.9 612.2L1144.0 612.7L1143.2 613.3L1142.4 613.9L1141.6 614.4L1140.8 615.0L1139.9 615.5L1139.1 616.1L1138.3 616.7L1137.5 617.3L1136.7 617.8L1135.8 618.4L1135.0 619.0L1134.2 619.6L1133.4 620.2L1132.6 620.8L1131.7 621.4L1130.9 622.0L1130.1 622.7L1129.3 623.3L1128.5 623.9L1127.6 624.5L1126.8 625.2L1126.0 625.8L1125.2 626.5L1124.4 627.1L1123.5 627.8L1122.7 628.4L1121.9 629.1L1121.1 629.8L1120.3 630.4L1119.4 631.1L1118.6 631.8L1117.8 632.5L1117.0 633.2L1116.2 633.9L1115.3 634.6L1114.5 635.3L1113.7 636.0L1112.9 636.8L1112.1 637.5L1111.2 638.2L1110.4 639.0L1109.6 639.7L1108.8 640.5L1108.0 641.2L1107.1 642.0L1106.3 642.8L1105.5 643.5L1104.7 644.3L1103.9 645.1L1103.0 645.9L1102.2 646.7L1101.4 647.5L1100.6 648.3L1099.8 649.2L1099.0 650.0L1098.1 650.8L1097.3 651.7L1096.5 652.5L1095.7 653.4L1094.9 654.2L1094.0 655.1L1093.2 656.0L1092.4 656.8L1091.6 657.7L1090.8 658.6L1089.9 659.5L1089.1 660.4L1088.3 661.3L1087.5 662.2L1086.7 663.2L1085.8 664.1L1085.0 665.0L1084.2 666.0L1083.4 666.9L1082.6 667.9L1081.7 668.8L1080.9 669.8L1080.1 670.7L1079.3 671.7L1078.5 672.7L1077.6 673.7L1076.8 674.7L1076.0 675.7L1075.2 676.7L1074.4 677.7L1073.5 678.7L1072.7 679.8L1071.9 680.8L1071.1 681.8L1070.3 682.9L1069.4 683.9L1068.6 685.0L1067.8 686.0L1067.0 687.1L1066.2 688.2L1065.3 689.2L1064.5 690.3L1063.7 691.4L1062.9 692.5L1062.1 693.6L1061.2 694.7L1060.4 695.8L1059.6 696.9L1058.8 698.1L1058.0 699.2L1057.1 700.3L1056.3 701.5L1055.5 702.6L1054.7 703.8L1053.9 704.9L1053.0 706.1L1052.2 707.2L1051.4 708.4L1050.6 709.6L1049.8 710.8L1048.9 711.9L1048.1 713.1L1047.3 714.3L1046.5 715.5L1045.7 716.7L1044.8 717.9L1044.0 719.1L1043.2 720.4L1042.4 721.6L1041.6 722.8L1040.8 724.0L1039.9 725.3L1039.1 726.5L1038.3 727.7L1037.5 729.0L1036.7 730.2L1035.8 731.5L1035.0 732.7L1034.2 734.0L1033.4 735.2L1032.6 736.5L1031.7 737.8L1030.9 739.0L1030.1 740.3L1029.3 741.6L1028.5 742.9L1027.6 744.1L1026.8 745.4L1026.0 746.7L1025.2 748.0L1024.4 749.3L1023.5 750.6L1022.7 751.9L1021.9 753.2L1021.1 754.5L1020.3 755.8L1019.4 757.2L1018.6 758.5L1017.8 759.8L1017.0 761.2L1016.2 762.5L1015.3 763.9L1014.5 765.2L1013.7 766.6L1012.9 768.0L1012.1 769.4L1011.2 770.7L1010.4 772.1L1009.6 773.5L1008.8 775.0L1008.0 776.4L1007.1 777.8L1006.3 779.2L1005.5 780.7L1004.7 782.1L1003.9 783.6L1003.0 785.1L1002.2 786.6L1001.4 788.1L1000.6 789.6L999.8 791.1L998.9 792.6L998.1 794.1L997.3 795.7L996.5 797.3L995.7 798.8L994.8 800.4L994.0 802.0L993.2 803.7L992.4 805.3L991.6 807.0L990.7 808.6L989.9 810.3L989.1 812.0L988.3 813.7L987.5 815.5L986.6 817.2L985.8 819.0L985.0 820.8L984.2 822.6L983.4 824.4L982.5 826.2L981.7 828.0L980.9 829.9L980.1 831.7L979.3 833.6L978.5 835.5L977.6 837.4L976.8 839.3L976.0 841.2L975.2 843.1L974.4 845.1L973.5 847.0L972.7 849.0L971.9 851.0L971.1 852.9L970.3 854.9L969.4 856.9L968.6 858.9L967.8 860.9L967.0 862.9L966.2 864.9L965.3 866.9L964.5 868.9L963.7 871.0L962.9 873.0L962.1 875.0L961.2 877.0L960.4 879.0L959.6 881.0L958.8 883.1L958.0 885.1L957.1 887.1L956.3 889.1L955.5 891.0L954.7 893.0L953.9 895.0L953.0 896.9L952.2 898.9L951.4 900.8L950.6 902.7L949.8 904.5L948.9 906.4L948.1 908.2L947.3 910.0L946.5 911.8L945.7 913.5L944.8 915.2L944.0 916.9L943.2 918.6L942.4 920.2L941.6 921.8L940.7 923.4L939.9 924.9L939.1 926.4L938.3 927.9L937.5 929.4L936.6 930.8L935.8 932.2L935.0 933.6L934.2 934.9L933.4 936.2L932.5 937.5L931.7 938.8L930.9 940.1L930.1 941.3L929.3 942.6L928.4 943.8L927.6 945.0L926.8 946.2L926.0 947.3L925.2 948.5L924.3 949.6L923.5 950.7L922.7 951.8L921.9 952.9L921.1 954.0L920.3 955.1L919.4 956.1L918.6 957.2L917.8 958.2L917.0 959.2L916.2 960.3L915.3 961.3L914.5 962.3L913.7 963.2L912.9 964.2L912.1 965.2L911.2 966.1L910.4 967.1L909.6 968.0L908.8 969.0L908.0 969.9L907.1 970.8L906.3 971.7L905.5 972.6L904.7 973.5L903.9 974.4L903.0 975.3L902.2 976.2L901.4 977.1L900.6 977.9L899.8 978.8L898.9 979.6L898.1 980.5L897.3 981.3L896.5 982.2L895.7 983.0L894.8 983.8L894.0 984.7L893.2 985.5L892.4 986.3L891.6 987.1L890.7 987.9L889.9 988.7L889.1 989.5L888.3 990.3L887.5 991.1L886.6 991.8L885.8 992.6L885.0 993.4L884.2 994.1L883.4 994.9L882.5 995.6L881.7 996.3L880.9 997.0L880.1 997.7L879.3 998.4L878.4 999.1L877.6 999.7L876.8 1000.3L876.0 1001.0L875.2 1001.5L874.3 1002.1L873.5 1002.7L872.7 1003.2L871.9 1003.7L871.1 1004.2L870.2 1004.7L869.4 1005.1L868.6 1005.6L867.8 1006.0L867.0 1006.3L866.1 1006.7L865.3 1007.1L864.5 1007.4L863.7 1007.7L862.9 1008.0L862.0 1008.2L861.2 1008.5L860.4 1008.7L859.6 1008.9L858.8 1009.1L858.0 1009.3L857.1 1009.4L856.3 1009.6L855.5 1009.8L854.7 1009.9L853.9 1010.0L853.0 1010.2L852.2 1010.3L851.4 1010.4L850.6 1010.5L849.8 1010.6L848.9 1010.7L848.1 1010.8L847.3 1010.9L846.5 1011.0L845.7 1011.1L844.8 1011.2L844.0 1011.3L843.2 1011.3L842.4 1011.4L841.6 1011.5L840.7 1011.6L839.9 1011.7L839.1 1011.8L838.3 1011.8L837.5 1011.9L836.6 1012.0L835.8 1012.1L835.0 1012.1L834.2 1012.2L833.4 1012.3L832.5 1012.3L831.7 1012.4L830.9 1012.5L830.1 1012.5L829.3 1012.6L828.4 1012.7L827.6 1012.7L826.8 1012.8L826.0 1012.8L825.2 1012.9L824.3 1012.9L823.5 1012.9L822.7 1013.0L821.9 1013.0L821.1 1013.1L820.2 1013.1L819.4 1013.1L818.6 1013.2L817.8 1013.2L817.0 1013.2L816.1 1013.2L815.3 1013.2L814.5 1013.3L813.7 1013.3L812.9 1013.3L812.0 1013.3L811.2 1013.3L810.4 1013.3L809.6 1013.3L808.8 1013.3L807.9 1013.3L807.1 1013.3L806.3 1013.3L805.5 1013.3L804.7 1013.3L803.8 1013.3L803.0 1013.2L802.2 1013.2L801.4 1013.2L800.6 1013.2L799.7 1013.2L798.9 1013.1L798.1 1013.1L797.3 1013.1L796.5 1013.0L795.7 1013.0L794.8 1013.0L794.0 1012.9L793.2 1012.9L792.4 1012.9L791.6 1012.8L790.7 1012.8L789.9 1012.7L789.1 1012.7L788.3 1012.6L787.5 1012.6L786.6 1012.5L785.8 1012.5L785.0 1012.4L784.2 1012.4L783.4 1012.3L782.5 1012.3L781.7 1012.2L780.9 1012.2L780.1 1012.1L779.3 1012.0L778.4 1012.0L777.6 1011.9L776.8 1011.8L776.0 1011.8L775.2 1011.7L774.3 1011.7L773.5 1011.6L772.7 1011.5L771.9 1011.4L771.1 1011.4L770.2 1011.3L769.4 1011.2L768.6 1011.2L767.8 1011.1L767.0 1011.0L766.1 1010.9L765.3 1010.9L764.5 1010.8L763.7 1010.7L762.9 1010.6L762.0 1010.6L761.2 1010.5L760.4 1010.4L759.6 1010.3L758.8 1010.3L757.9 1010.2L757.1 1010.1L756.3 1010.0L755.5 1010.0L754.7 1009.9L753.8 1009.8L753.0 1009.7L752.2 1009.6L751.4 1009.6L750.6 1009.5L749.7 1009.4L748.9 1009.3L748.1 1009.3L747.3 1009.2L746.5 1009.1L745.6 1009.0L744.8 1008.9L744.0 1008.9L743.2 1008.8L742.4 1008.7L741.5 1008.6L740.7 1008.6L739.9 1008.5L739.1 1008.4L738.3 1008.4L737.5 1008.3L736.6 1008.2L735.8 1008.1L735.0 1008.1L734.2 1008.0L733.4 1007.9L732.5 1007.9L731.7 1007.8L730.9 1007.7L730.1 1007.7L729.3 1007.6L728.4 1007.5L727.6 1007.5L726.8 1007.4L726.0 1007.4L725.2 1007.3L724.3 1007.3L723.5 1007.2L722.7 1007.1L721.9 1007.1L721.1 1007.0L720.2 1007.0L719.4 1006.9L718.6 1006.9L717.8 1006.8L717.0 1006.8L716.1 1006.8L715.3 1006.7L714.5 1006.7L713.7 1006.6L712.9 1006.6L712.0 1006.6L711.2 1006.5L710.4 1006.5L709.6 1006.5L708.8 1006.4L707.9 1006.4L707.1 1006.4L706.3 1006.4L705.5 1006.3L704.7 1006.3L703.8 1006.3L703.0 1006.3L702.2 1006.3L701.4 1006.3L700.6 1006.3L699.7 1006.2L698.9 1006.2L698.1 1006.2L697.3 1006.2L696.5 1006.2L695.6 1006.2L694.8 1006.2L694.0 1006.2L693.2 1006.2L692.4 1006.2L691.5 1006.2L690.7 1006.2L689.9 1006.3L689.1 1006.3L688.3 1006.3L687.4 1006.3L686.6 1006.3L685.8 1006.3L685.0 1006.3L684.2 1006.4L683.3 1006.4L682.5 1006.4L681.7 1006.4L680.9 1006.4L680.1 1006.5L679.2 1006.5L678.4 1006.5L677.6 1006.5L676.8 1006.6L676.0 1006.6L675.2 1006.6L674.3 1006.7L673.5 1006.7L672.7 1006.7L671.9 1006.8L671.1 1006.8L670.2 1006.8L669.4 1006.9L668.6 1006.9L667.8 1006.9L667.0 1007.0L666.1 1007.0L665.3 1007.1L664.5 1007.1L663.7 1007.1L662.9 1007.2L662.0 1007.2L661.2 1007.3L660.4 1007.3L659.6 1007.4L658.8 1007.4L657.9 1007.5L657.1 1007.5L656.3 1007.5L655.5 1007.6L654.7 1007.6L653.8 1007.7L653.0 1007.7L652.2 1007.8L651.4 1007.8L650.6 1007.9L649.7 1007.9L648.9 1008.0L648.1 1008.0L647.3 1008.1L646.5 1008.1L645.6 1008.2L644.8 1008.2L644.0 1008.3L643.2 1008.3L642.4 1008.4L641.5 1008.4L640.7 1008.5L639.9 1008.5L639.1 1008.6L638.3 1008.6L637.4 1008.7L636.6 1008.7L635.8 1008.8L635.0 1008.8L634.2 1008.9L633.3 1008.9L632.5 1009.0L631.7 1009.0L630.9 1009.1L630.1 1009.1L629.2 1009.2L628.4 1009.2L627.6 1009.3L626.8 1009.3L626.0 1009.4L625.1 1009.4L624.3 1009.5L623.5 1009.5L622.7 1009.5L621.9 1009.6L621.0 1009.6L620.2 1009.7L619.4 1009.7L618.6 1009.8L617.8 1009.8L617.0 1009.8L616.1 1009.9L615.3 1009.9L614.5 1010.0L613.7 1010.0L612.9 1010.0L612.0 1010.1L611.2 1010.1L610.4 1010.1L609.6 1010.2L608.8 1010.2L607.9 1010.2L607.1 1010.3L606.3 1010.3L605.5 1010.3L604.7 1010.4L603.8 1010.4L603.0 1010.4L602.2 1010.4L601.4 1010.5L600.6 1010.5L599.7 1010.5L598.9 1010.5L598.1 1010.5L597.3 1010.6L596.5 1010.6L595.6 1010.6L594.8 1010.6L594.0 1010.6L593.2 1010.6L592.4 1010.6L591.5 1010.7L590.7 1010.7L589.9 1010.7L589.1 1010.7L588.3 1010.7L587.4 1010.7L586.6 1010.7L585.8 1010.7L585.0 1010.7L584.2 1010.7L583.3 1010.7L582.5 1010.7L581.7 1010.7L580.9 1010.7L580.1 1010.7L579.2 1010.7L578.4 1010.7L577.6 1010.7L576.8 1010.7L576.0 1010.7L575.1 1010.7L574.3 1010.6L573.5 1010.6L572.7 1010.6L571.9 1010.6L571.0 1010.6L570.2 1010.6L569.4 1010.6L568.6 1010.5L567.8 1010.5L566.9 1010.5L566.1 1010.5L565.3 1010.5L564.5 1010.5L563.7 1010.4L562.8 1010.4L562.0 1010.4L561.2 1010.4L560.4 1010.3L559.6 1010.3L558.7 1010.3L557.9 1010.3L557.1 1010.2L556.3 1010.2L555.5 1010.2L554.7 1010.2L553.8 1010.1L553.0 1010.1L552.2 1010.1L551.4 1010.0L550.6 1010.0L549.7 1010.0L548.9 1010.0L548.1 1009.9L547.3 1009.9L546.5 1009.9L545.6 1009.8L544.8 1009.8L544.0 1009.7L543.2 1009.7L542.4 1009.7L541.5 1009.6L540.7 1009.6L539.9 1009.6L539.1 1009.5L538.3 1009.5L537.4 1009.4L536.6 1009.4L535.8 1009.4L535.0 1009.3L534.2 1009.3L533.3 1009.2L532.5 1009.2L531.7 1009.2L530.9 1009.1L530.1 1009.1L529.2 1009.0L528.4 1009.0L527.6 1008.9L526.8 1008.9L526.0 1008.9L525.1 1008.8L524.3 1008.8L523.5 1008.7L522.7 1008.7L521.9 1008.6L521.0 1008.6L520.2 1008.5L519.4 1008.5L518.6 1008.4L517.8 1008.4L516.9 1008.3L516.1 1008.3L515.3 1008.2L514.5 1008.2L513.7 1008.1L512.8 1008.1L512.0 1008.0L511.2 1008.0L510.4 1008.0L509.6 1007.9L508.7 1007.9L507.9 1007.8L507.1 1007.8L506.3 1007.7L505.5 1007.7L504.6 1007.6L503.8 1007.6L503.0 1007.5L502.2 1007.5L501.4 1007.4L500.5 1007.4L499.7 1007.3L498.9 1007.3L498.1 1007.2L497.3 1007.2L496.5 1007.1L495.6 1007.1L494.8 1007.0L494.0 1007.0L493.2 1006.9L492.4 1006.9L491.5 1006.8L490.7 1006.8L489.9 1006.7L489.1 1006.7L488.3 1006.6L487.4 1006.6L486.6 1006.5L485.8 1006.5L485.0 1006.4L484.2 1006.4L483.3 1006.3L482.5 1006.3L481.7 1006.2L480.9 1006.2L480.1 1006.1L479.2 1006.1L478.4 1006.0L477.6 1006.0L476.8 1005.9L476.0 1005.9L475.1 1005.8L474.3 1005.8L473.5 1005.8L472.7 1005.7L471.9 1005.7L471.0 1005.6L470.2 1005.6L469.4 1005.5L468.6 1005.5L467.8 1005.4L466.9 1005.4L466.1 1005.4L465.3 1005.3L464.5 1005.3L463.7 1005.2L462.8 1005.2L462.0 1005.1L461.2 1005.1L460.4 1005.1L459.6 1005.0L458.7 1005.0L457.9 1004.9L457.1 1004.9L456.3 1004.9L455.5 1004.8L454.6 1004.8L453.8 1004.7L453.0 1004.7L452.2 1004.7L451.4 1004.6L450.5 1004.6L449.7 1004.5L448.9 1004.5L448.1 1004.5L447.3 1004.4L446.4 1004.4L445.6 1004.4L444.8 1004.3L444.0 1004.3L443.2 1004.3L442.3 1004.2L441.5 1004.2L440.7 1004.2L439.9 1004.1L439.1 1004.1L438.2 1004.1L437.4 1004.0L436.6 1004.0L435.8 1004.0L435.0 1003.9L434.2 1003.9L433.3 1003.9L432.5 1003.9L431.7 1003.8L430.9 1003.8L430.1 1003.8L429.2 1003.7L428.4 1003.7L427.6 1003.7L426.8 1003.7L426.0 1003.6L425.1 1003.6L424.3 1003.6L423.5 1003.6L422.7 1003.5L421.9 1003.5L421.0 1003.5L420.2 1003.5L419.4 1003.5L418.6 1003.4L417.8 1003.4L416.9 1003.4L416.1 1003.4L415.3 1003.4L414.5 1003.3L413.7 1003.3L412.8 1003.3L412.0 1003.3L411.2 1003.3L410.4 1003.3L409.6 1003.2L408.7 1003.2L407.9 1003.2L407.1 1003.2L406.3 1003.2L405.5 1003.2L404.6 1003.2L403.8 1003.2L403.0 1003.1L402.2 1003.1L401.4 1003.1L400.5 1003.1L399.7 1003.1L398.9 1003.1L398.1 1003.1L397.3 1003.1L396.4 1003.1L395.6 1003.1L394.8 1003.1L394.0 1003.1L393.2 1003.1L392.3 1003.1L391.5 1003.1L390.7 1003.0L389.9 1003.0L389.1 1003.0L388.2 1003.0L387.4 1003.0L386.6 1003.1L385.8 1003.1L385.0 1003.1L384.1 1003.1L383.3 1003.1L382.5 1003.1L381.7 1003.1L380.9 1003.1L380.0 1003.1L379.2 1003.1L378.4 1003.1L377.6 1003.1L376.8 1003.1L376.0 1003.1L375.1 1003.1L374.3 1003.1L373.5 1003.2L372.7 1003.2L371.9 1003.2L371.0 1003.2L370.2 1003.2L369.4 1003.2L368.6 1003.2L367.8 1003.3L366.9 1003.3L366.1 1003.3L365.3 1003.3L364.5 1003.3L363.7 1003.4L362.8 1003.4L362.0 1003.4L361.2 1003.4L360.4 1003.5L359.6 1003.5L358.7 1003.5L357.9 1003.5L357.1 1003.6L356.3 1003.6L355.5 1003.6L354.6 1003.6L353.8 1003.7L353.0 1003.7L352.2 1003.7L351.4 1003.8L350.5 1003.8L349.7 1003.8L348.9 1003.9L348.1 1003.9L347.3 1003.9L346.4 1004.0L345.6 1004.0L344.8 1004.1L344.0 1004.1L343.2 1004.1L342.3 1004.2L341.5 1004.2L340.7 1004.3L339.9 1004.3L339.1 1004.4L338.2 1004.4L337.4 1004.4L336.6 1004.5L335.8 1004.5L335.0 1004.6L334.1 1004.6L333.3 1004.7L332.5 1004.7L331.7 1004.8L330.9 1004.9L330.0 1004.9L329.2 1005.0L328.4 1005.0L327.6 1005.1L326.8 1005.1L325.9 1005.2L325.1 1005.3L324.3 1005.3L323.5 1005.4L322.7 1005.4L321.8 1005.5L321.0 1005.6L320.2 1005.6L319.4 1005.7L318.6 1005.8L317.7 1005.8L316.9 1005.9L316.1 1006.0L315.3 1006.0L314.5 1006.1L313.7 1006.2L312.8 1006.3L312.0 1006.3L311.2 1006.4L310.4 1006.5L309.6 1006.6L308.7 1006.7L307.9 1006.7L307.1 1006.8L306.3 1006.9L305.5 1007.0L304.6 1007.1L303.8 1007.2L303.0 1007.2L302.2 1007.3L301.4 1007.4L300.5 1007.5L299.7 1007.6L298.9 1007.7L298.1 1007.8L297.3 1007.9L296.4 1008.0L295.6 1008.1L294.8 1008.2L294.0 1008.3L293.2 1008.4L292.3 1008.5L291.5 1008.6L290.7 1008.7L289.9 1008.8L289.1 1008.9L288.2 1009.0L287.4 1009.1L286.6 1009.2Z" fill="#E8141A" fill-opacity="0.20"/>
<path d="M286.6 970.6L287.4 970.3L288.2 970.0L289.1 969.7L289.9 969.4L290.7 969.1L291.5 968.8L292.3 968.6L293.2 968.3L294.0 968.0L294.8 967.7L295.6 967.5L296.4 967.2L297.3 967.0L298.1 966.7L298.9 966.5L299.7 966.2L300.5 966.0L301.4 965.7L302.2 965.5L303.0 965.3L303.8 965.0L304.6 964.8L305.5 964.6L306.3 964.4L307.1 964.2L307.9 963.9L308.7 963.7L309.6 963.5L310.4 963.3L311.2 963.1L312.0 963.0L312.8 962.8L313.7 962.6L314.5 962.4L315.3 962.2L316.1 962.0L316.9 961.9L317.7 961.7L318.6 961.5L319.4 961.4L320.2 961.2L321.0 961.1L321.8 960.9L322.7 960.8L323.5 960.6L324.3 960.5L325.1 960.3L325.9 960.2L326.8 960.1L327.6 960.0L328.4 959.8L329.2 959.7L330.0 959.6L330.9 959.5L331.7 959.4L332.5 959.2L333.3 959.1L334.1 959.0L335.0 958.9L335.8 958.8L336.6 958.7L337.4 958.6L338.2 958.5L339.1 958.5L339.9 958.4L340.7 958.3L341.5 958.2L342.3 958.1L343.2 958.1L344.0 958.0L344.8 957.9L345.6 957.9L346.4 957.8L347.3 957.7L348.1 957.7L348.9 957.6L349.7 957.6L350.5 957.5L351.4 957.5L352.2 957.4L353.0 957.4L353.8 957.4L354.6 957.3L355.5 957.3L356.3 957.2L357.1 957.2L357.9 957.2L358.7 957.2L359.6 957.1L360.4 957.1L361.2 957.1L362.0 957.1L362.8 957.1L363.7 957.1L364.5 957.1L365.3 957.1L366.1 957.1L366.9 957.1L367.8 957.1L368.6 957.1L369.4 957.1L370.2 957.1L371.0 957.1L371.9 957.1L372.7 957.1L373.5 957.1L374.3 957.1L375.1 957.2L376.0 957.2L376.8 957.2L377.6 957.2L378.4 957.3L379.2 957.3L380.0 957.3L380.9 957.3L381.7 957.4L382.5 957.4L383.3 957.5L384.1 957.5L385.0 957.5L385.8 957.6L386.6 957.6L387.4 957.7L388.2 957.7L389.1 957.8L389.9 957.8L390.7 957.9L391.5 957.9L392.3 958.0L393.2 958.1L394.0 958.1L394.8 958.2L395.6 958.2L396.4 958.3L397.3 958.4L398.1 958.4L398.9 958.5L399.7 958.6L400.5 958.7L401.4 958.7L402.2 958.8L403.0 958.9L403.8 959.0L404.6 959.0L405.5 959.1L406.3 959.2L407.1 959.3L407.9 959.4L408.7 959.5L409.6 959.6L410.4 959.6L411.2 959.7L412.0 959.8L412.8 959.9L413.7 960.0L414.5 960.1L415.3 960.2L416.1 960.3L416.9 960.4L417.8 960.5L418.6 960.6L419.4 960.7L420.2 960.8L421.0 960.9L421.9 961.0L422.7 961.1L423.5 961.2L424.3 961.3L425.1 961.4L426.0 961.5L426.8 961.6L427.6 961.7L428.4 961.9L429.2 962.0L430.1 962.1L430.9 962.2L431.7 962.3L432.5 962.4L433.3 962.5L434.2 962.7L435.0 962.8L435.8 962.9L436.6 963.0L437.4 963.1L438.2 963.2L439.1 963.4L439.9 963.5L440.7 963.6L441.5 963.7L442.3 963.8L443.2 964.0L444.0 964.1L444.8 964.2L445.6 964.3L446.4 964.5L447.3 964.6L448.1 964.7L448.9 964.8L449.7 965.0L450.5 965.1L451.4 965.2L452.2 965.3L453.0 965.5L453.8 965.6L454.6 965.7L455.5 965.8L456.3 966.0L457.1 966.1L457.9 966.2L458.7 966.3L459.6 966.5L460.4 966.6L461.2 966.7L462.0 966.9L462.8 967.0L463.7 967.1L464.5 967.2L465.3 967.4L466.1 967.5L466.9 967.6L467.8 967.7L468.6 967.9L469.4 968.0L470.2 968.1L471.0 968.3L471.9 968.4L472.7 968.5L473.5 968.6L474.3 968.8L475.1 968.9L476.0 969.0L476.8 969.1L477.6 969.3L478.4 969.4L479.2 969.5L480.1 969.6L480.9 969.8L481.7 969.9L482.5 970.0L483.3 970.1L484.2 970.2L485.0 970.4L485.8 970.5L486.6 970.6L487.4 970.7L488.3 970.8L489.1 971.0L489.9 971.1L490.7 971.2L491.5 971.3L492.4 971.4L493.2 971.5L494.0 971.7L494.8 971.8L495.6 971.9L496.5 972.0L497.3 972.1L498.1 972.2L498.9 972.3L499.7 972.4L500.5 972.5L501.4 972.6L502.2 972.8L503.0 972.9L503.8 973.0L504.6 973.1L505.5 973.2L506.3 973.3L507.1 973.4L507.9 973.5L508.7 973.6L509.6 973.7L510.4 973.8L511.2 973.9L512.0 974.0L512.8 974.1L513.7 974.1L514.5 974.2L515.3 974.3L516.1 974.4L516.9 974.5L517.8 974.6L518.6 974.7L519.4 974.8L520.2 974.8L521.0 974.9L521.9 975.0L522.7 975.1L523.5 975.2L524.3 975.3L525.1 975.3L526.0 975.4L526.8 975.5L527.6 975.6L528.4 975.6L529.2 975.7L530.1 975.8L530.9 975.9L531.7 975.9L532.5 976.0L533.3 976.1L534.2 976.1L535.0 976.2L535.8 976.3L536.6 976.3L537.4 976.4L538.3 976.5L539.1 976.5L539.9 976.6L540.7 976.7L541.5 976.7L542.4 976.8L543.2 976.8L544.0 976.9L544.8 977.0L545.6 977.0L546.5 977.1L547.3 977.1L548.1 977.2L548.9 977.2L549.7 977.3L550.6 977.3L551.4 977.4L552.2 977.5L553.0 977.5L553.8 977.6L554.7 977.6L555.5 977.7L556.3 977.7L557.1 977.7L557.9 977.8L558.7 977.8L559.6 977.9L560.4 977.9L561.2 978.0L562.0 978.0L562.8 978.1L563.7 978.1L564.5 978.1L565.3 978.2L566.1 978.2L566.9 978.3L567.8 978.3L568.6 978.3L569.4 978.4L570.2 978.4L571.0 978.5L571.9 978.5L572.7 978.5L573.5 978.6L574.3 978.6L575.1 978.6L576.0 978.7L576.8 978.7L577.6 978.7L578.4 978.8L579.2 978.8L580.1 978.8L580.9 978.9L581.7 978.9L582.5 978.9L583.3 978.9L584.2 979.0L585.0 979.0L585.8 979.0L586.6 979.1L587.4 979.1L588.3 979.1L589.1 979.1L589.9 979.2L590.7 979.2L591.5 979.2L592.4 979.2L593.2 979.3L594.0 979.3L594.8 979.3L595.6 979.3L596.5 979.4L597.3 979.4L598.1 979.4L598.9 979.4L599.7 979.4L600.6 979.5L601.4 979.5L602.2 979.5L603.0 979.5L603.8 979.5L604.7 979.6L605.5 979.6L606.3 979.6L607.1 979.6L607.9 979.6L608.8 979.7L609.6 979.7L610.4 979.7L611.2 979.7L612.0 979.7L612.9 979.7L613.7 979.8L614.5 979.8L615.3 979.8L616.1 979.8L617.0 979.8L617.8 979.8L618.6 979.8L619.4 979.9L620.2 979.9L621.0 979.9L621.9 979.9L622.7 979.9L623.5 979.9L624.3 979.9L625.1 980.0L626.0 980.0L626.8 980.0L627.6 980.0L628.4 980.0L629.2 980.0L630.1 980.0L630.9 980.1L631.7 980.1L632.5 980.1L633.3 980.1L634.2 980.1L635.0 980.1L635.8 980.1L636.6 980.1L637.4 980.2L638.3 980.2L639.1 980.2L639.9 980.2L640.7 980.2L641.5 980.2L642.4 980.2L643.2 980.2L644.0 980.3L644.8 980.3L645.6 980.3L646.5 980.3L647.3 980.3L648.1 980.3L648.9 980.3L649.7 980.3L650.6 980.4L651.4 980.4L652.2 980.4L653.0 980.4L653.8 980.4L654.7 980.4L655.5 980.4L656.3 980.4L657.1 980.5L657.9 980.5L658.8 980.5L659.6 980.5L660.4 980.5L661.2 980.5L662.0 980.5L662.9 980.6L663.7 980.6L664.5 980.6L665.3 980.6L666.1 980.6L667.0 980.6L667.8 980.7L668.6 980.7L669.4 980.7L670.2 980.7L671.1 980.7L671.9 980.7L672.7 980.8L673.5 980.8L674.3 980.8L675.2 980.8L676.0 980.8L676.8 980.8L677.6 980.9L678.4 980.9L679.2 980.9L680.1 980.9L680.9 980.9L681.7 981.0L682.5 981.0L683.3 981.0L684.2 981.0L685.0 981.0L685.8 981.1L686.6 981.1L687.4 981.1L688.3 981.1L689.1 981.2L689.9 981.2L690.7 981.2L691.5 981.2L692.4 981.3L693.2 981.3L694.0 981.3L694.8 981.3L695.6 981.4L696.5 981.4L697.3 981.4L698.1 981.4L698.9 981.5L699.7 981.5L700.6 981.5L701.4 981.6L702.2 981.6L703.0 981.6L703.8 981.6L704.7 981.7L705.5 981.7L706.3 981.7L707.1 981.8L707.9 981.8L708.8 981.8L709.6 981.9L710.4 981.9L711.2 981.9L712.0 982.0L712.9 982.0L713.7 982.1L714.5 982.1L715.3 982.1L716.1 982.2L717.0 982.2L717.8 982.3L718.6 982.3L719.4 982.3L720.2 982.4L721.1 982.4L721.9 982.5L722.7 982.5L723.5 982.6L724.3 982.6L725.2 982.6L726.0 982.7L726.8 982.7L727.6 982.8L728.4 982.8L729.3 982.9L730.1 982.9L730.9 983.0L731.7 983.0L732.5 983.1L733.4 983.1L734.2 983.2L735.0 983.3L735.8 983.3L736.6 983.4L737.5 983.4L738.3 983.5L739.1 983.5L739.9 983.6L740.7 983.7L741.5 983.7L742.4 983.8L743.2 983.8L744.0 983.9L744.8 984.0L745.6 984.0L746.5 984.1L747.3 984.2L748.1 984.2L748.9 984.3L749.7 984.4L750.6 984.4L751.4 984.5L752.2 984.6L753.0 984.7L753.8 984.7L754.7 984.8L755.5 984.9L756.3 985.0L757.1 985.0L757.9 985.1L758.8 985.2L759.6 985.3L760.4 985.4L761.2 985.4L762.0 985.5L762.9 985.6L763.7 985.7L764.5 985.8L765.3 985.9L766.1 985.9L767.0 986.0L767.8 986.1L768.6 986.2L769.4 986.3L770.2 986.4L771.1 986.5L771.9 986.6L772.7 986.7L773.5 986.7L774.3 986.8L775.2 986.9L776.0 987.0L776.8 987.1L777.6 987.2L778.4 987.3L779.3 987.4L780.1 987.5L780.9 987.6L781.7 987.6L782.5 987.7L783.4 987.8L784.2 987.9L785.0 988.0L785.8 988.1L786.6 988.2L787.5 988.2L788.3 988.3L789.1 988.4L789.9 988.5L790.7 988.6L791.6 988.6L792.4 988.7L793.2 988.8L794.0 988.9L794.8 988.9L795.7 989.0L796.5 989.1L797.3 989.2L798.1 989.2L798.9 989.3L799.7 989.4L800.6 989.4L801.4 989.5L802.2 989.5L803.0 989.6L803.8 989.6L804.7 989.7L805.5 989.7L806.3 989.8L807.1 989.8L807.9 989.9L808.8 989.9L809.6 990.0L810.4 990.0L811.2 990.0L812.0 990.1L812.9 990.1L813.7 990.1L814.5 990.1L815.3 990.1L816.1 990.2L817.0 990.2L817.8 990.2L818.6 990.2L819.4 990.2L820.2 990.2L821.1 990.2L821.9 990.2L822.7 990.2L823.5 990.2L824.3 990.1L825.2 990.1L826.0 990.1L826.8 990.1L827.6 990.0L828.4 990.0L829.3 990.0L830.1 989.9L830.9 989.9L831.7 989.8L832.5 989.8L833.4 989.7L834.2 989.6L835.0 989.6L835.8 989.5L836.6 989.4L837.5 989.3L838.3 989.2L839.1 989.0L839.9 988.9L840.7 988.7L841.6 988.5L842.4 988.3L843.2 988.1L844.0 987.8L844.8 987.5L845.7 987.2L846.5 986.8L847.3 986.4L848.1 985.9L848.9 985.4L849.8 984.8L850.6 984.2L851.4 983.5L852.2 982.7L853.0 981.9L853.9 981.1L854.7 980.2L855.5 979.3L856.3 978.4L857.1 977.4L858.0 976.4L858.8 975.4L859.6 974.4L860.4 973.4L861.2 972.4L862.0 971.4L862.9 970.4L863.7 969.5L864.5 968.5L865.3 967.6L866.1 966.6L867.0 965.6L867.8 964.7L868.6 963.7L869.4 962.7L870.2 961.7L871.1 960.6L871.9 959.6L872.7 958.5L873.5 957.4L874.3 956.2L875.2 955.0L876.0 953.7L876.8 952.4L877.6 951.1L878.4 949.7L879.3 948.3L880.1 946.9L880.9 945.4L881.7 943.9L882.5 942.3L883.4 940.8L884.2 939.2L885.0 937.7L885.8 936.1L886.6 934.5L887.5 933.0L888.3 931.4L889.1 929.8L889.9 928.3L890.7 926.6L891.6 925.0L892.4 923.3L893.2 921.6L894.0 919.9L894.8 918.2L895.7 916.4L896.5 914.6L897.3 912.7L898.1 910.9L898.9 909.0L899.8 907.1L900.6 905.1L901.4 903.1L902.2 901.1L903.0 899.0L903.9 897.0L904.7 894.8L905.5 892.7L906.3 890.5L907.1 888.3L908.0 886.0L908.8 883.7L909.6 881.4L910.4 879.1L911.2 876.7L912.1 874.2L912.9 871.8L913.7 869.3L914.5 866.7L915.3 864.2L916.2 861.6L917.0 859.0L917.8 856.3L918.6 853.6L919.4 850.9L920.3 848.2L921.1 845.4L921.9 842.7L922.7 839.9L923.5 837.0L924.3 834.2L925.2 831.4L926.0 828.5L926.8 825.7L927.6 822.8L928.4 820.0L929.3 817.1L930.1 814.3L930.9 811.4L931.7 808.6L932.5 805.7L933.4 802.8L934.2 800.0L935.0 797.1L935.8 794.2L936.6 791.4L937.5 788.5L938.3 785.6L939.1 782.7L939.9 779.9L940.7 777.0L941.6 774.1L942.4 771.2L943.2 768.3L944.0 765.4L944.8 762.4L945.7 759.5L946.5 756.6L947.3 753.7L948.1 750.7L948.9 747.8L949.8 744.8L950.6 741.9L951.4 738.9L952.2 735.9L953.0 733.0L953.9 730.0L954.7 727.0L955.5 724.0L956.3 721.0L957.1 717.9L958.0 714.9L958.8 711.9L959.6 708.8L960.4 705.7L961.2 702.7L962.1 699.6L962.9 696.5L963.7 693.4L964.5 690.2L965.3 687.1L966.2 683.9L967.0 680.8L967.8 677.6L968.6 674.4L969.4 671.2L970.3 668.0L971.1 664.8L971.9 661.6L972.7 658.4L973.5 655.2L974.4 651.9L975.2 648.7L976.0 645.5L976.8 642.3L977.6 639.0L978.5 635.8L979.3 632.6L980.1 629.4L980.9 626.2L981.7 623.0L982.5 619.8L983.4 616.6L984.2 613.4L985.0 610.3L985.8 607.1L986.6 604.0L987.5 600.9L988.3 597.8L989.1 594.7L989.9 591.6L990.7 588.5L991.6 585.5L992.4 582.5L993.2 579.5L994.0 576.5L994.8 573.5L995.7 570.5L996.5 567.6L997.3 564.7L998.1 561.8L998.9 558.9L999.8 556.1L1000.6 553.3L1001.4 550.5L1002.2 547.7L1003.0 544.9L1003.9 542.2L1004.7 539.5L1005.5 536.8L1006.3 534.1L1007.1 531.5L1008.0 528.9L1008.8 526.3L1009.6 523.7L1010.4 521.1L1011.2 518.6L1012.1 516.1L1012.9 513.6L1013.7 511.1L1014.5 508.7L1015.3 506.3L1016.2 503.9L1017.0 501.5L1017.8 499.1L1018.6 496.8L1019.4 494.5L1020.3 492.2L1021.1 489.9L1021.9 487.7L1022.7 485.4L1023.5 483.2L1024.4 481.0L1025.2 478.9L1026.0 476.7L1026.8 474.6L1027.6 472.5L1028.5 470.4L1029.3 468.3L1030.1 466.2L1030.9 464.2L1031.7 462.2L1032.6 460.2L1033.4 458.2L1034.2 456.2L1035.0 454.3L1035.8 452.3L1036.7 450.4L1037.5 448.5L1038.3 446.6L1039.1 444.7L1039.9 442.9L1040.8 441.1L1041.6 439.2L1042.4 437.4L1043.2 435.6L1044.0 433.9L1044.8 432.1L1045.7 430.3L1046.5 428.6L1047.3 426.9L1048.1 425.2L1048.9 423.5L1049.8 421.8L1050.6 420.2L1051.4 418.5L1052.2 416.9L1053.0 415.2L1053.9 413.6L1054.7 412.0L1055.5 410.4L1056.3 408.8L1057.1 407.3L1058.0 405.7L1058.8 404.2L1059.6 402.7L1060.4 401.1L1061.2 399.6L1062.1 398.1L1062.9 396.6L1063.7 395.1L1064.5 393.7L1065.3 392.2L1066.2 390.8L1067.0 389.3L1067.8 387.9L1068.6 386.5L1069.4 385.1L1070.3 383.7L1071.1 382.3L1071.9 380.9L1072.7 379.5L1073.5 378.2L1074.4 376.8L1075.2 375.5L1076.0 374.1L1076.8 372.8L1077.6 371.5L1078.5 370.2L1079.3 368.9L1080.1 367.6L1080.9 366.3L1081.7 365.0L1082.6 363.7L1083.4 362.5L1084.2 361.2L1085.0 360.0L1085.8 358.7L1086.7 357.5L1087.5 356.3L1088.3 355.1L1089.1 353.9L1089.9 352.7L1090.8 351.5L1091.6 350.3L1092.4 349.1L1093.2 347.9L1094.0 346.8L1094.9 345.6L1095.7 344.4L1096.5 343.3L1097.3 342.2L1098.1 341.0L1099.0 339.9L1099.8 338.8L1100.6 337.7L1101.4 336.6L1102.2 335.5L1103.0 334.4L1103.9 333.3L1104.7 332.2L1105.5 331.1L1106.3 330.1L1107.1 329.0L1108.0 328.0L1108.8 326.9L1109.6 325.9L1110.4 324.8L1111.2 323.8L1112.1 322.8L1112.9 321.8L1113.7 320.7L1114.5 319.7L1115.3 318.7L1116.2 317.7L1117.0 316.7L1117.8 315.8L1118.6 314.8L1119.4 313.8L1120.3 312.8L1121.1 311.9L1121.9 310.9L1122.7 310.0L1123.5 309.0L1124.4 308.1L1125.2 307.1L1126.0 306.2L1126.8 305.3L1127.6 304.4L1128.5 303.5L1129.3 302.5L1130.1 301.6L1130.9 300.7L1131.7 299.8L1132.6 299.0L1133.4 298.1L1134.2 297.2L1135.0 296.3L1135.8 295.4L1136.7 294.6L1137.5 293.7L1138.3 292.9L1139.1 292.0L1139.9 291.2L1140.8 290.3L1141.6 289.5L1142.4 288.7L1143.2 287.8L1144.0 287.0L1144.9 286.2L1145.7 285.4L1146.5 284.6L1147.3 283.8L1148.1 283.0L1149.0 282.2L1149.8 281.4L1150.6 280.6L1151.4 279.8L1152.2 279.0L1153.1 278.2L1153.9 277.5L1154.7 276.7L1155.5 276.0L1156.3 275.2L1157.2 274.4L1158.0 273.7L1158.8 273.0L1159.6 272.2L1160.4 271.5L1161.3 270.7L1162.1 270.0L1162.9 269.3L1163.7 268.6L1164.5 267.9L1165.3 267.1L1166.2 266.4L1167.0 265.7L1167.8 265.0L1168.6 264.3L1169.4 263.7L1170.3 263.0L1171.1 262.3L1171.9 261.6L1172.7 260.9L1173.5 260.3L1174.4 259.6L1175.2 258.9L1176.0 258.3L1176.8 257.6L1177.6 257.0L1178.5 256.3L1179.3 255.7L1180.1 255.0L1180.9 254.4L1181.7 253.7L1182.6 253.1L1183.4 252.5L1184.2 251.9L1185.0 251.2L1185.8 250.6L1186.7 250.0L1187.5 249.4L1188.3 248.8L1189.1 248.2L1189.9 247.6L1190.8 247.0L1191.6 246.4L1192.4 245.8L1193.2 245.2L1194.0 244.7L1194.9 244.1L1195.7 243.5L1196.5 242.9L1197.3 242.4L1198.1 241.8L1199.0 241.3L1199.8 240.7L1200.6 240.1L1201.4 239.6L1202.2 239.1L1203.1 238.5L1203.9 238.0L1204.7 237.4L1205.5 236.9L1206.3 236.4L1207.2 235.8L1208.0 235.3L1208.8 234.8L1209.6 234.3L1210.4 233.8L1211.3 233.3L1212.1 232.7L1212.9 232.2L1213.7 231.7L1214.5 231.2L1215.4 230.7L1216.2 230.2L1217.0 229.8L1217.8 229.3L1218.6 228.8L1219.5 228.3L1220.3 227.8L1221.1 227.3L1221.9 226.9L1222.7 226.4L1223.5 225.9L1224.4 225.5L1225.2 225.0L1226.0 224.5L1226.8 224.1L1227.6 223.6L1228.5 223.2L1229.3 222.7L1230.1 222.3L1230.9 221.8L1231.7 221.4L1232.6 220.9L1233.4 220.5L1234.2 220.1L1235.0 219.6L1235.8 219.2L1236.7 218.8L1237.5 218.3L1238.3 217.9L1239.1 217.5L1239.9 217.1L1240.8 216.7L1241.6 216.2L1242.4 215.8L1243.2 215.4L1244.0 215.0L1244.9 214.6L1245.7 214.2L1246.5 213.8L1247.3 213.4L1248.1 213.0L1249.0 212.6L1249.8 212.2L1250.6 211.8L1251.4 211.4L1252.2 211.1L1253.1 210.7L1253.9 210.3L1254.7 209.9L1255.5 209.5L1256.3 209.2L1257.2 208.8L1258.0 208.4L1258.8 208.1L1259.6 207.7L1260.4 207.3L1261.3 207.0L1262.1 206.6L1262.9 206.2L1263.7 205.9L1264.5 205.5L1265.4 205.2L1266.2 204.8L1267.0 204.5L1267.8 204.1L1268.6 203.8L1269.5 203.4L1270.3 203.1L1271.1 202.7L1271.9 202.4L1272.7 202.1L1273.6 201.7L1274.4 201.4L1275.2 201.1L1276.0 200.7L1276.8 200.4L1277.7 200.1L1278.5 199.8L1279.3 199.4L1280.1 199.1L1280.9 198.8L1281.8 198.5L1282.6 198.2L1283.4 197.9L1284.2 197.5L1285.0 197.2L1285.8 196.9L1286.7 196.6L1287.5 196.3L1288.3 196.0L1289.1 195.7L1289.9 195.4L1290.8 195.1L1291.6 194.8L1292.4 194.5L1293.2 194.2L1294.0 193.9L1294.9 193.6L1295.7 193.4L1296.5 193.1L1297.3 192.8L1298.1 192.5L1299.0 192.2L1299.8 191.9L1300.6 191.7L1301.4 191.4L1302.2 191.1L1303.1 190.8L1303.9 190.5L1304.7 190.3L1305.5 190.0L1306.3 189.7L1307.2 189.5L1308.0 189.2L1308.8 188.9L1309.6 188.7L1310.4 188.4L1311.3 188.2L1312.1 187.9L1312.9 187.6L1313.7 187.4L1314.5 187.1L1315.4 186.9L1316.2 186.6L1317.0 186.4L1317.8 186.1L1318.6 185.9L1319.5 185.6L1320.3 185.4L1321.1 185.1L1321.9 184.9L1322.7 184.7L1323.6 184.4L1324.4 184.2L1325.2 183.9L1326.0 183.7L1326.8 183.5L1327.7 183.2L1328.5 183.0L1329.3 182.8L1330.1 182.5L1330.9 182.3L1331.8 182.1L1332.6 181.9L1333.4 181.6L1334.2 181.4L1335.0 181.2L1335.9 181.0L1336.7 180.8L1337.5 180.5L1338.3 180.3L1339.1 180.1L1340.0 179.9L1340.8 179.7L1341.6 179.5L1342.4 179.3L1343.2 179.1L1344.0 178.8L1344.9 178.6L1345.7 178.4L1346.5 178.2L1347.3 178.0L1348.1 177.8L1349.0 177.6L1349.8 177.4L1350.6 177.2L1351.4 177.0L1352.2 176.8L1353.1 176.6L1353.9 176.4L1354.7 176.3L1355.5 176.1L1356.3 175.9L1357.2 175.7L1358.0 175.5L1358.8 175.3L1359.6 175.1L1360.4 174.9L1361.3 174.8L1362.1 174.6L1362.9 174.4L1363.7 174.2L1364.5 174.0L1365.4 173.9L1366.2 173.7L1367.0 173.5L1367.8 173.3L1368.6 173.2L1369.5 173.0L1370.3 172.8L1371.1 172.6L1371.9 172.5L1372.7 172.3L1373.6 172.1L1374.4 172.0L1375.2 171.8L1376.0 171.6L1376.8 171.5L1377.7 171.3L1378.5 171.2L1379.3 171.0L1380.1 170.8L1380.9 170.7L1381.8 170.5L1382.6 170.4L1383.4 170.2L1384.2 170.1L1385.0 169.9L1385.9 169.8L1386.7 169.6L1387.5 169.5L1388.3 169.3L1389.1 169.2L1390.0 169.0L1390.8 168.9L1391.6 168.7L1392.4 168.6L1393.2 168.4L1394.1 168.3L1394.9 168.2L1395.7 168.0L1396.5 167.9L1397.3 167.7L1398.2 167.6L1399.0 167.5L1399.8 167.3L1400.6 167.2L1401.4 167.1L1402.3 166.9L1403.1 166.8L1403.9 166.7L1404.7 166.6L1405.5 166.4L1406.3 166.3L1407.2 166.2L1408.0 166.0L1408.8 165.9L1409.6 165.8L1410.4 165.7L1411.3 165.6L1412.1 165.4L1412.9 165.3L1413.7 165.2L1414.5 165.1L1415.4 165.0L1416.2 164.8L1417.0 164.7L1417.8 164.6L1418.6 164.5L1419.5 164.4L1420.3 164.3L1421.1 164.2L1421.9 164.1L1422.7 163.9L1423.6 163.8L1424.4 163.7L1425.2 163.6L1426.0 163.5L1426.8 163.4L1427.7 163.3L1428.5 163.2L1429.3 163.1L1430.1 163.0L1430.9 162.9L1431.8 162.8L1432.6 162.7L1433.4 162.6L1433.4 531.2L1432.6 531.3L1431.8 531.3L1430.9 531.4L1430.1 531.4L1429.3 531.5L1428.5 531.5L1427.7 531.6L1426.8 531.7L1426.0 531.7L1425.2 531.8L1424.4 531.9L1423.6 531.9L1422.7 532.0L1421.9 532.0L1421.1 532.1L1420.3 532.2L1419.5 532.2L1418.6 532.3L1417.8 532.4L1417.0 532.4L1416.2 532.5L1415.4 532.6L1414.5 532.6L1413.7 532.7L1412.9 532.8L1412.1 532.8L1411.3 532.9L1410.4 533.0L1409.6 533.0L1408.8 533.1L1408.0 533.2L1407.2 533.2L1406.3 533.3L1405.5 533.4L1404.7 533.5L1403.9 533.5L1403.1 533.6L1402.3 533.7L1401.4 533.8L1400.6 533.8L1399.8 533.9L1399.0 534.0L1398.2 534.1L1397.3 534.2L1396.5 534.2L1395.7 534.3L1394.9 534.4L1394.1 534.5L1393.2 534.5L1392.4 534.6L1391.6 534.7L1390.8 534.8L1390.0 534.9L1389.1 535.0L1388.3 535.0L1387.5 535.1L1386.7 535.2L1385.9 535.3L1385.0 535.4L1384.2 535.5L1383.4 535.6L1382.6 535.7L1381.8 535.7L1380.9 535.8L1380.1 535.9L1379.3 536.0L1378.5 536.1L1377.7 536.2L1376.8 536.3L1376.0 536.4L1375.2 536.5L1374.4 536.6L1373.6 536.7L1372.7 536.8L1371.9 536.9L1371.1 537.0L1370.3 537.1L1369.5 537.2L1368.6 537.3L1367.8 537.4L1367.0 537.5L1366.2 537.6L1365.4 537.7L1364.5 537.8L1363.7 537.9L1362.9 538.0L1362.1 538.1L1361.3 538.2L1360.4 538.3L1359.6 538.4L1358.8 538.5L1358.0 538.6L1357.2 538.7L1356.3 538.9L1355.5 539.0L1354.7 539.1L1353.9 539.2L1353.1 539.3L1352.2 539.4L1351.4 539.5L1350.6 539.7L1349.8 539.8L1349.0 539.9L1348.1 540.0L1347.3 540.1L1346.5 540.2L1345.7 540.4L1344.9 540.5L1344.0 540.6L1343.2 540.7L1342.4 540.9L1341.6 541.0L1340.8 541.1L1340.0 541.2L1339.1 541.4L1338.3 541.5L1337.5 541.6L1336.7 541.8L1335.9 541.9L1335.0 542.0L1334.2 542.1L1333.4 542.3L1332.6 542.4L1331.8 542.6L1330.9 542.7L1330.1 542.8L1329.3 543.0L1328.5 543.1L1327.7 543.2L1326.8 543.4L1326.0 543.5L1325.2 543.7L1324.4 543.8L1323.6 544.0L1322.7 544.1L1321.9 544.2L1321.1 544.4L1320.3 544.5L1319.5 544.7L1318.6 544.8L1317.8 545.0L1317.0 545.1L1316.2 545.3L1315.4 545.4L1314.5 545.6L1313.7 545.8L1312.9 545.9L1312.1 546.1L1311.3 546.2L1310.4 546.4L1309.6 546.6L1308.8 546.7L1308.0 546.9L1307.2 547.0L1306.3 547.2L1305.5 547.4L1304.7 547.5L1303.9 547.7L1303.1 547.9L1302.2 548.0L1301.4 548.2L1300.6 548.4L1299.8 548.6L1299.0 548.7L1298.1 548.9L1297.3 549.1L1296.5 549.3L1295.7 549.5L1294.9 549.6L1294.0 549.8L1293.2 550.0L1292.4 550.2L1291.6 550.4L1290.8 550.6L1289.9 550.8L1289.1 551.0L1288.3 551.1L1287.5 551.3L1286.7 551.5L1285.8 551.7L1285.0 551.9L1284.2 552.1L1283.4 552.3L1282.6 552.5L1281.8 552.7L1280.9 552.9L1280.1 553.1L1279.3 553.3L1278.5 553.5L1277.7 553.7L1276.8 554.0L1276.0 554.2L1275.2 554.4L1274.4 554.6L1273.6 554.8L1272.7 555.0L1271.9 555.2L1271.1 555.4L1270.3 555.7L1269.5 555.9L1268.6 556.1L1267.8 556.3L1267.0 556.6L1266.2 556.8L1265.4 557.0L1264.5 557.2L1263.7 557.5L1262.9 557.7L1262.1 557.9L1261.3 558.2L1260.4 558.4L1259.6 558.6L1258.8 558.9L1258.0 559.1L1257.2 559.3L1256.3 559.6L1255.5 559.8L1254.7 560.1L1253.9 560.3L1253.1 560.6L1252.2 560.8L1251.4 561.1L1250.6 561.3L1249.8 561.6L1249.0 561.8L1248.1 562.1L1247.3 562.3L1246.5 562.6L1245.7 562.9L1244.9 563.1L1244.0 563.4L1243.2 563.7L1242.4 563.9L1241.6 564.2L1240.8 564.5L1239.9 564.7L1239.1 565.0L1238.3 565.3L1237.5 565.6L1236.7 565.8L1235.8 566.1L1235.0 566.4L1234.2 566.7L1233.4 567.0L1232.6 567.3L1231.7 567.5L1230.9 567.8L1230.1 568.1L1229.3 568.4L1228.5 568.7L1227.6 569.0L1226.8 569.3L1226.0 569.6L1225.2 569.9L1224.4 570.2L1223.5 570.5L1222.7 570.8L1221.9 571.1L1221.1 571.5L1220.3 571.8L1219.5 572.1L1218.6 572.4L1217.8 572.7L1217.0 573.0L1216.2 573.4L1215.4 573.7L1214.5 574.0L1213.7 574.3L1212.9 574.7L1212.1 575.0L1211.3 575.3L1210.4 575.7L1209.6 576.0L1208.8 576.4L1208.0 576.7L1207.2 577.0L1206.3 577.4L1205.5 577.7L1204.7 578.1L1203.9 578.4L1203.1 578.8L1202.2 579.2L1201.4 579.5L1200.6 579.9L1199.8 580.2L1199.0 580.6L1198.1 580.9L1197.3 581.3L1196.5 581.6L1195.7 582.0L1194.9 582.3L1194.0 582.7L1193.2 583.1L1192.4 583.4L1191.6 583.8L1190.8 584.2L1189.9 584.5L1189.1 584.9L1188.3 585.3L1187.5 585.6L1186.7 586.0L1185.8 586.4L1185.0 586.8L1184.2 587.2L1183.4 587.6L1182.6 588.0L1181.7 588.4L1180.9 588.8L1180.1 589.2L1179.3 589.6L1178.5 590.0L1177.6 590.4L1176.8 590.8L1176.0 591.2L1175.2 591.6L1174.4 592.0L1173.5 592.5L1172.7 592.9L1171.9 593.3L1171.1 593.7L1170.3 594.2L1169.4 594.6L1168.6 595.0L1167.8 595.5L1167.0 595.9L1166.2 596.4L1165.3 596.8L1164.5 597.3L1163.7 597.7L1162.9 598.2L1162.1 598.7L1161.3 599.1L1160.4 599.6L1159.6 600.1L1158.8 600.5L1158.0 601.0L1157.2 601.5L1156.3 602.0L1155.5 602.5L1154.7 603.0L1153.9 603.5L1153.1 604.0L1152.2 604.5L1151.4 605.0L1150.6 605.5L1149.8 606.0L1149.0 606.5L1148.1 607.0L1147.3 607.6L1146.5 608.1L1145.7 608.6L1144.9 609.2L1144.0 609.7L1143.2 610.2L1142.4 610.8L1141.6 611.3L1140.8 611.9L1139.9 612.4L1139.1 613.0L1138.3 613.6L1137.5 614.1L1136.7 614.7L1135.8 615.3L1135.0 615.9L1134.2 616.5L1133.4 617.1L1132.6 617.6L1131.7 618.2L1130.9 618.9L1130.1 619.5L1129.3 620.1L1128.5 620.7L1127.6 621.3L1126.8 621.9L1126.0 622.6L1125.2 623.2L1124.4 623.9L1123.5 624.5L1122.7 625.2L1121.9 625.8L1121.1 626.5L1120.3 627.1L1119.4 627.8L1118.6 628.5L1117.8 629.2L1117.0 629.9L1116.2 630.6L1115.3 631.3L1114.5 632.0L1113.7 632.7L1112.9 633.4L1112.1 634.1L1111.2 634.8L1110.4 635.6L1109.6 636.3L1108.8 637.1L1108.0 637.8L1107.1 638.6L1106.3 639.3L1105.5 640.1L1104.7 640.9L1103.9 641.7L1103.0 642.5L1102.2 643.2L1101.4 644.0L1100.6 644.9L1099.8 645.7L1099.0 646.5L1098.1 647.3L1097.3 648.1L1096.5 648.9L1095.7 649.7L1094.9 650.6L1094.0 651.4L1093.2 652.3L1092.4 653.1L1091.6 654.0L1090.8 654.8L1089.9 655.7L1089.1 656.6L1088.3 657.5L1087.5 658.4L1086.7 659.3L1085.8 660.2L1085.0 661.1L1084.2 662.0L1083.4 662.9L1082.6 663.8L1081.7 664.8L1080.9 665.7L1080.1 666.6L1079.3 667.6L1078.5 668.6L1077.6 669.5L1076.8 670.5L1076.0 671.5L1075.2 672.5L1074.4 673.4L1073.5 674.4L1072.7 675.4L1071.9 676.4L1071.1 677.5L1070.3 678.5L1069.4 679.5L1068.6 680.5L1067.8 681.6L1067.0 682.6L1066.2 683.6L1065.3 684.7L1064.5 685.8L1063.7 686.8L1062.9 687.9L1062.1 689.0L1061.2 690.1L1060.4 691.1L1059.6 692.2L1058.8 693.3L1058.0 694.4L1057.1 695.5L1056.3 696.7L1055.5 697.8L1054.7 698.9L1053.9 700.0L1053.0 701.2L1052.2 702.3L1051.4 703.4L1050.6 704.6L1049.8 705.8L1048.9 706.9L1048.1 708.1L1047.3 709.3L1046.5 710.4L1045.7 711.6L1044.8 712.8L1044.0 714.0L1043.2 715.2L1042.4 716.4L1041.6 717.6L1040.8 718.8L1039.9 720.1L1039.1 721.3L1038.3 722.5L1037.5 723.7L1036.7 725.0L1035.8 726.2L1035.0 727.4L1034.2 728.7L1033.4 729.9L1032.6 731.1L1031.7 732.4L1030.9 733.6L1030.1 734.9L1029.3 736.2L1028.5 737.4L1027.6 738.7L1026.8 740.0L1026.0 741.2L1025.2 742.5L1024.4 743.8L1023.5 745.1L1022.7 746.4L1021.9 747.7L1021.1 748.9L1020.3 750.3L1019.4 751.6L1018.6 752.9L1017.8 754.2L1017.0 755.5L1016.2 756.9L1015.3 758.2L1014.5 759.5L1013.7 760.9L1012.9 762.2L1012.1 763.6L1011.2 765.0L1010.4 766.4L1009.6 767.7L1008.8 769.1L1008.0 770.5L1007.1 771.9L1006.3 773.4L1005.5 774.8L1004.7 776.2L1003.9 777.7L1003.0 779.1L1002.2 780.6L1001.4 782.1L1000.6 783.6L999.8 785.1L998.9 786.6L998.1 788.1L997.3 789.6L996.5 791.1L995.7 792.6L994.8 794.2L994.0 795.7L993.2 797.3L992.4 798.9L991.6 800.5L990.7 802.2L989.9 803.8L989.1 805.5L988.3 807.2L987.5 808.8L986.6 810.6L985.8 812.3L985.0 814.0L984.2 815.8L983.4 817.5L982.5 819.3L981.7 821.1L980.9 822.9L980.1 824.7L979.3 826.6L978.5 828.4L977.6 830.3L976.8 832.1L976.0 834.0L975.2 835.9L974.4 837.8L973.5 839.7L972.7 841.6L971.9 843.6L971.1 845.5L970.3 847.4L969.4 849.4L968.6 851.3L967.8 853.3L967.0 855.3L966.2 857.2L965.3 859.2L964.5 861.2L963.7 863.1L962.9 865.1L962.1 867.1L961.2 869.1L960.4 871.0L959.6 873.0L958.8 875.1L958.0 877.1L957.1 879.1L956.3 881.1L955.5 883.0L954.7 885.0L953.9 887.0L953.0 888.9L952.2 890.9L951.4 892.8L950.6 894.7L949.8 896.5L948.9 898.4L948.1 900.2L947.3 902.0L946.5 903.8L945.7 905.5L944.8 907.2L944.0 908.9L943.2 910.6L942.4 912.2L941.6 913.8L940.7 915.4L939.9 916.9L939.1 918.4L938.3 919.9L937.5 921.4L936.6 922.8L935.8 924.2L935.0 925.6L934.2 927.0L933.4 928.4L932.5 929.7L931.7 931.1L930.9 932.4L930.1 933.7L929.3 935.0L928.4 936.3L927.6 937.5L926.8 938.7L926.0 940.0L925.2 941.2L924.3 942.4L923.5 943.5L922.7 944.7L921.9 945.9L921.1 947.0L920.3 948.1L919.4 949.2L918.6 950.4L917.8 951.4L917.0 952.5L916.2 953.6L915.3 954.7L914.5 955.7L913.7 956.8L912.9 957.9L912.1 958.9L911.2 960.0L910.4 961.0L909.6 962.1L908.8 963.1L908.0 964.2L907.1 965.2L906.3 966.2L905.5 967.2L904.7 968.2L903.9 969.2L903.0 970.2L902.2 971.2L901.4 972.1L900.6 973.1L899.8 974.1L898.9 975.0L898.1 976.0L897.3 976.9L896.5 977.9L895.7 978.8L894.8 979.7L894.0 980.7L893.2 981.6L892.4 982.5L891.6 983.4L890.7 984.3L889.9 985.2L889.1 986.2L888.3 987.1L887.5 988.0L886.6 988.9L885.8 989.9L885.0 990.8L884.2 991.7L883.4 992.6L882.5 993.5L881.7 994.3L880.9 995.2L880.1 996.0L879.3 996.8L878.4 997.6L877.6 998.4L876.8 999.2L876.0 1000.0L875.2 1000.7L874.3 1001.5L873.5 1002.2L872.7 1002.9L871.9 1003.6L871.1 1004.2L870.2 1004.9L869.4 1005.5L868.6 1006.1L867.8 1006.7L867.0 1007.2L866.1 1007.8L865.3 1008.3L864.5 1008.8L863.7 1009.2L862.9 1009.6L862.0 1009.9L861.2 1010.2L860.4 1010.5L859.6 1010.8L858.8 1011.1L858.0 1011.3L857.1 1011.6L856.3 1011.8L855.5 1012.1L854.7 1012.3L853.9 1012.5L853.0 1012.7L852.2 1012.9L851.4 1013.1L850.6 1013.2L849.8 1013.4L848.9 1013.6L848.1 1013.8L847.3 1013.9L846.5 1014.1L845.7 1014.2L844.8 1014.3L844.0 1014.4L843.2 1014.5L842.4 1014.6L841.6 1014.7L840.7 1014.8L839.9 1014.9L839.1 1015.0L838.3 1015.1L837.5 1015.2L836.6 1015.3L835.8 1015.4L835.0 1015.5L834.2 1015.6L833.4 1015.7L832.5 1015.7L831.7 1015.8L830.9 1015.9L830.1 1016.0L829.3 1016.1L828.4 1016.1L827.6 1016.2L826.8 1016.3L826.0 1016.3L825.2 1016.4L824.3 1016.5L823.5 1016.5L822.7 1016.6L821.9 1016.6L821.1 1016.7L820.2 1016.7L819.4 1016.8L818.6 1016.8L817.8 1016.9L817.0 1016.9L816.1 1016.9L815.3 1016.9L814.5 1016.9L813.7 1016.9L812.9 1016.9L812.0 1016.9L811.2 1016.9L810.4 1016.8L809.6 1016.8L808.8 1016.8L807.9 1016.8L807.1 1016.8L806.3 1016.7L805.5 1016.7L804.7 1016.7L803.8 1016.6L803.0 1016.6L802.2 1016.6L801.4 1016.5L800.6 1016.5L799.7 1016.4L798.9 1016.4L798.1 1016.3L797.3 1016.3L796.5 1016.2L795.7 1016.2L794.8 1016.1L794.0 1016.1L793.2 1016.0L792.4 1016.0L791.6 1015.9L790.7 1015.9L789.9 1015.8L789.1 1015.7L788.3 1015.7L787.5 1015.6L786.6 1015.5L785.8 1015.5L785.0 1015.4L784.2 1015.3L783.4 1015.2L782.5 1015.2L781.7 1015.1L780.9 1015.0L780.1 1014.9L779.3 1014.8L778.4 1014.8L777.6 1014.7L776.8 1014.6L776.0 1014.5L775.2 1014.4L774.3 1014.3L773.5 1014.3L772.7 1014.2L771.9 1014.1L771.1 1014.0L770.2 1013.9L769.4 1013.8L768.6 1013.7L767.8 1013.6L767.0 1013.5L766.1 1013.4L765.3 1013.4L764.5 1013.3L763.7 1013.2L762.9 1013.1L762.0 1013.0L761.2 1012.9L760.4 1012.8L759.6 1012.8L758.8 1012.7L757.9 1012.6L757.1 1012.5L756.3 1012.5L755.5 1012.4L754.7 1012.3L753.8 1012.2L753.0 1012.2L752.2 1012.1L751.4 1012.0L750.6 1011.9L749.7 1011.9L748.9 1011.8L748.1 1011.7L747.3 1011.7L746.5 1011.6L745.6 1011.5L744.8 1011.4L744.0 1011.4L743.2 1011.3L742.4 1011.2L741.5 1011.2L740.7 1011.1L739.9 1011.0L739.1 1011.0L738.3 1010.9L737.5 1010.8L736.6 1010.8L735.8 1010.7L735.0 1010.6L734.2 1010.6L733.4 1010.5L732.5 1010.4L731.7 1010.4L730.9 1010.3L730.1 1010.2L729.3 1010.2L728.4 1010.1L727.6 1010.1L726.8 1010.0L726.0 1010.0L725.2 1009.9L724.3 1009.9L723.5 1009.8L722.7 1009.8L721.9 1009.7L721.1 1009.7L720.2 1009.6L719.4 1009.6L718.6 1009.5L717.8 1009.5L717.0 1009.4L716.1 1009.4L715.3 1009.4L714.5 1009.3L713.7 1009.3L712.9 1009.3L712.0 1009.2L711.2 1009.2L710.4 1009.2L709.6 1009.2L708.8 1009.1L707.9 1009.1L707.1 1009.1L706.3 1009.0L705.5 1009.0L704.7 1009.0L703.8 1008.9L703.0 1008.9L702.2 1008.9L701.4 1008.8L700.6 1008.8L699.7 1008.8L698.9 1008.8L698.1 1008.7L697.3 1008.7L696.5 1008.7L695.6 1008.7L694.8 1008.7L694.0 1008.6L693.2 1008.6L692.4 1008.6L691.5 1008.6L690.7 1008.6L689.9 1008.6L689.1 1008.6L688.3 1008.6L687.4 1008.6L686.6 1008.6L685.8 1008.6L685.0 1008.6L684.2 1008.6L683.3 1008.6L682.5 1008.6L681.7 1008.6L680.9 1008.6L680.1 1008.6L679.2 1008.6L678.4 1008.6L677.6 1008.6L676.8 1008.6L676.0 1008.7L675.2 1008.7L674.3 1008.7L673.5 1008.7L672.7 1008.7L671.9 1008.7L671.1 1008.7L670.2 1008.8L669.4 1008.8L668.6 1008.8L667.8 1008.8L667.0 1008.9L666.1 1008.9L665.3 1008.9L664.5 1008.9L663.7 1008.9L662.9 1009.0L662.0 1009.0L661.2 1009.0L660.4 1009.1L659.6 1009.1L658.8 1009.1L657.9 1009.1L657.1 1009.2L656.3 1009.2L655.5 1009.2L654.7 1009.3L653.8 1009.3L653.0 1009.3L652.2 1009.3L651.4 1009.4L650.6 1009.4L649.7 1009.4L648.9 1009.5L648.1 1009.5L647.3 1009.5L646.5 1009.6L645.6 1009.6L644.8 1009.6L644.0 1009.7L643.2 1009.7L642.4 1009.7L641.5 1009.8L640.7 1009.8L639.9 1009.8L639.1 1009.9L638.3 1009.9L637.4 1009.9L636.6 1010.0L635.8 1010.0L635.0 1010.0L634.2 1010.1L633.3 1010.1L632.5 1010.1L631.7 1010.2L630.9 1010.2L630.1 1010.2L629.2 1010.3L628.4 1010.3L627.6 1010.3L626.8 1010.4L626.0 1010.4L625.1 1010.4L624.3 1010.5L623.5 1010.5L622.7 1010.5L621.9 1010.5L621.0 1010.6L620.2 1010.6L619.4 1010.6L618.6 1010.6L617.8 1010.7L617.0 1010.7L616.1 1010.7L615.3 1010.7L614.5 1010.8L613.7 1010.8L612.9 1010.8L612.0 1010.8L611.2 1010.8L610.4 1010.9L609.6 1010.9L608.8 1010.9L607.9 1010.9L607.1 1010.9L606.3 1010.9L605.5 1010.9L604.7 1011.0L603.8 1011.0L603.0 1011.0L602.2 1011.0L601.4 1011.0L600.6 1011.0L599.7 1011.0L598.9 1011.0L598.1 1011.1L597.3 1011.1L596.5 1011.1L595.6 1011.1L594.8 1011.1L594.0 1011.2L593.2 1011.2L592.4 1011.2L591.5 1011.2L590.7 1011.2L589.9 1011.3L589.1 1011.3L588.3 1011.3L587.4 1011.3L586.6 1011.3L585.8 1011.3L585.0 1011.3L584.2 1011.3L583.3 1011.3L582.5 1011.3L581.7 1011.3L580.9 1011.3L580.1 1011.3L579.2 1011.3L578.4 1011.3L577.6 1011.3L576.8 1011.3L576.0 1011.3L575.1 1011.3L574.3 1011.3L573.5 1011.3L572.7 1011.3L571.9 1011.3L571.0 1011.3L570.2 1011.3L569.4 1011.3L568.6 1011.3L567.8 1011.3L566.9 1011.3L566.1 1011.3L565.3 1011.2L564.5 1011.2L563.7 1011.2L562.8 1011.2L562.0 1011.2L561.2 1011.2L560.4 1011.2L559.6 1011.1L558.7 1011.1L557.9 1011.1L557.1 1011.1L556.3 1011.1L555.5 1011.0L554.7 1011.0L553.8 1011.0L553.0 1011.0L552.2 1010.9L551.4 1010.9L550.6 1010.9L549.7 1010.9L548.9 1010.8L548.1 1010.8L547.3 1010.8L546.5 1010.8L545.6 1010.7L544.8 1010.7L544.0 1010.7L543.2 1010.7L542.4 1010.6L541.5 1010.6L540.7 1010.6L539.9 1010.5L539.1 1010.5L538.3 1010.5L537.4 1010.4L536.6 1010.4L535.8 1010.4L535.0 1010.3L534.2 1010.3L533.3 1010.3L532.5 1010.2L531.7 1010.2L530.9 1010.1L530.1 1010.1L529.2 1010.1L528.4 1010.0L527.6 1010.0L526.8 1010.0L526.0 1009.9L525.1 1009.9L524.3 1009.8L523.5 1009.8L522.7 1009.8L521.9 1009.7L521.0 1009.7L520.2 1009.6L519.4 1009.6L518.6 1009.6L517.8 1009.5L516.9 1009.5L516.1 1009.4L515.3 1009.4L514.5 1009.4L513.7 1009.3L512.8 1009.3L512.0 1009.2L511.2 1009.2L510.4 1009.1L509.6 1009.1L508.7 1009.1L507.9 1009.0L507.1 1008.9L506.3 1008.9L505.5 1008.8L504.6 1008.8L503.8 1008.7L503.0 1008.7L502.2 1008.6L501.4 1008.6L500.5 1008.5L499.7 1008.5L498.9 1008.4L498.1 1008.4L497.3 1008.3L496.5 1008.3L495.6 1008.2L494.8 1008.2L494.0 1008.1L493.2 1008.1L492.4 1008.0L491.5 1008.0L490.7 1007.9L489.9 1007.8L489.1 1007.8L488.3 1007.7L487.4 1007.7L486.6 1007.6L485.8 1007.6L485.0 1007.5L484.2 1007.5L483.3 1007.4L482.5 1007.4L481.7 1007.3L480.9 1007.3L480.1 1007.2L479.2 1007.2L478.4 1007.1L477.6 1007.1L476.8 1007.0L476.0 1007.0L475.1 1006.9L474.3 1006.9L473.5 1006.8L472.7 1006.8L471.9 1006.7L471.0 1006.7L470.2 1006.6L469.4 1006.6L468.6 1006.6L467.8 1006.5L466.9 1006.5L466.1 1006.4L465.3 1006.4L464.5 1006.3L463.7 1006.3L462.8 1006.2L462.0 1006.2L461.2 1006.1L460.4 1006.1L459.6 1006.1L458.7 1006.0L457.9 1006.0L457.1 1005.9L456.3 1005.9L455.5 1005.8L454.6 1005.8L453.8 1005.8L453.0 1005.7L452.2 1005.7L451.4 1005.6L450.5 1005.6L449.7 1005.6L448.9 1005.5L448.1 1005.5L447.3 1005.4L446.4 1005.4L445.6 1005.4L444.8 1005.3L444.0 1005.3L443.2 1005.3L442.3 1005.2L441.5 1005.2L440.7 1005.1L439.9 1005.1L439.1 1005.1L438.2 1005.0L437.4 1005.0L436.6 1005.0L435.8 1004.9L435.0 1004.9L434.2 1004.9L433.3 1004.8L432.5 1004.8L431.7 1004.8L430.9 1004.8L430.1 1004.7L429.2 1004.7L428.4 1004.7L427.6 1004.6L426.8 1004.6L426.0 1004.6L425.1 1004.6L424.3 1004.5L423.5 1004.5L422.7 1004.5L421.9 1004.4L421.0 1004.4L420.2 1004.4L419.4 1004.4L418.6 1004.4L417.8 1004.3L416.9 1004.3L416.1 1004.3L415.3 1004.3L414.5 1004.2L413.7 1004.2L412.8 1004.2L412.0 1004.2L411.2 1004.2L410.4 1004.1L409.6 1004.1L408.7 1004.1L407.9 1004.1L407.1 1004.1L406.3 1004.1L405.5 1004.0L404.6 1004.0L403.8 1004.0L403.0 1004.0L402.2 1004.0L401.4 1004.0L400.5 1004.0L399.7 1004.0L398.9 1003.9L398.1 1003.9L397.3 1003.9L396.4 1003.9L395.6 1003.9L394.8 1003.9L394.0 1003.9L393.2 1003.9L392.3 1003.9L391.5 1003.9L390.7 1003.9L389.9 1003.9L389.1 1003.9L388.2 1003.9L387.4 1003.9L386.6 1003.9L385.8 1003.9L385.0 1003.9L384.1 1003.9L383.3 1003.9L382.5 1003.9L381.7 1003.9L380.9 1003.9L380.0 1003.9L379.2 1003.9L378.4 1003.9L377.6 1003.9L376.8 1003.9L376.0 1004.0L375.1 1004.0L374.3 1004.0L373.5 1004.0L372.7 1004.0L371.9 1004.0L371.0 1004.1L370.2 1004.1L369.4 1004.1L368.6 1004.1L367.8 1004.1L366.9 1004.2L366.1 1004.2L365.3 1004.2L364.5 1004.2L363.7 1004.3L362.8 1004.3L362.0 1004.3L361.2 1004.3L360.4 1004.4L359.6 1004.4L358.7 1004.4L357.9 1004.5L357.1 1004.5L356.3 1004.5L355.5 1004.6L354.6 1004.6L353.8 1004.6L353.0 1004.7L352.2 1004.7L351.4 1004.7L350.5 1004.8L349.7 1004.8L348.9 1004.8L348.1 1004.9L347.3 1004.9L346.4 1005.0L345.6 1005.0L344.8 1005.1L344.0 1005.1L343.2 1005.1L342.3 1005.2L341.5 1005.2L340.7 1005.3L339.9 1005.3L339.1 1005.4L338.2 1005.4L337.4 1005.5L336.6 1005.5L335.8 1005.6L335.0 1005.6L334.1 1005.7L333.3 1005.7L332.5 1005.8L331.7 1005.9L330.9 1005.9L330.0 1006.0L329.2 1006.0L328.4 1006.1L327.6 1006.2L326.8 1006.2L325.9 1006.3L325.1 1006.4L324.3 1006.4L323.5 1006.5L322.7 1006.6L321.8 1006.6L321.0 1006.7L320.2 1006.8L319.4 1006.8L318.6 1006.9L317.7 1007.0L316.9 1007.0L316.1 1007.1L315.3 1007.2L314.5 1007.3L313.7 1007.4L312.8 1007.4L312.0 1007.5L311.2 1007.6L310.4 1007.7L309.6 1007.8L308.7 1007.8L307.9 1007.9L307.1 1008.0L306.3 1008.1L305.5 1008.2L304.6 1008.3L303.8 1008.4L303.0 1008.5L302.2 1008.5L301.4 1008.6L300.5 1008.7L299.7 1008.8L298.9 1008.9L298.1 1009.0L297.3 1009.1L296.4 1009.2L295.6 1009.3L294.8 1009.4L294.0 1009.5L293.2 1009.6L292.3 1009.7L291.5 1009.8L290.7 1009.9L289.9 1010.1L289.1 1010.2L288.2 1010.3L287.4 1010.4L286.6 1010.5Z" fill="#2B79BB" fill-opacity="0.20"/>
<path d="M286.6 984.4L287.4 984.3L288.2 984.1L289.1 984.0L289.9 983.9L290.7 983.8L291.5 983.6L292.3 983.5L293.2 983.4L294.0 983.3L294.8 983.1L295.6 983.0L296.4 982.9L297.3 982.8L298.1 982.6L298.9 982.5L299.7 982.4L300.5 982.3L301.4 982.1L302.2 982.0L303.0 981.9L303.8 981.8L304.6 981.7L305.5 981.5L306.3 981.4L307.1 981.3L307.9 981.2L308.7 981.1L309.6 981.0L310.4 980.8L311.2 980.7L312.0 980.6L312.8 980.5L313.7 980.4L314.5 980.3L315.3 980.2L316.1 980.1L316.9 979.9L317.7 979.8L318.6 979.7L319.4 979.6L320.2 979.5L321.0 979.4L321.8 979.3L322.7 979.2L323.5 979.1L324.3 979.0L325.1 978.9L325.9 978.8L326.8 978.7L327.6 978.6L328.4 978.5L329.2 978.4L330.0 978.3L330.9 978.2L331.7 978.1L332.5 978.0L333.3 978.0L334.1 977.9L335.0 977.8L335.8 977.7L336.6 977.6L337.4 977.5L338.2 977.4L339.1 977.4L339.9 977.3L340.7 977.2L341.5 977.1L342.3 977.0L343.2 977.0L344.0 976.9L344.8 976.8L345.6 976.7L346.4 976.7L347.3 976.6L348.1 976.5L348.9 976.5L349.7 976.4L350.5 976.3L351.4 976.3L352.2 976.2L353.0 976.2L353.8 976.1L354.6 976.0L355.5 976.0L356.3 975.9L357.1 975.9L357.9 975.8L358.7 975.8L359.6 975.7L360.4 975.7L361.2 975.6L362.0 975.6L362.8 975.6L363.7 975.5L364.5 975.5L365.3 975.4L366.1 975.4L366.9 975.4L367.8 975.3L368.6 975.3L369.4 975.3L370.2 975.3L371.0 975.2L371.9 975.2L372.7 975.2L373.5 975.2L374.3 975.2L375.1 975.1L376.0 975.1L376.8 975.1L377.6 975.1L378.4 975.1L379.2 975.1L380.0 975.1L380.9 975.1L381.7 975.1L382.5 975.1L383.3 975.1L384.1 975.1L385.0 975.1L385.8 975.1L386.6 975.1L387.4 975.1L388.2 975.2L389.1 975.2L389.9 975.2L390.7 975.2L391.5 975.2L392.3 975.3L393.2 975.3L394.0 975.3L394.8 975.4L395.6 975.4L396.4 975.4L397.3 975.5L398.1 975.5L398.9 975.5L399.7 975.6L400.5 975.6L401.4 975.7L402.2 975.7L403.0 975.8L403.8 975.8L404.6 975.9L405.5 975.9L406.3 976.0L407.1 976.0L407.9 976.1L408.7 976.1L409.6 976.2L410.4 976.3L411.2 976.3L412.0 976.4L412.8 976.4L413.7 976.5L414.5 976.6L415.3 976.6L416.1 976.7L416.9 976.8L417.8 976.9L418.6 976.9L419.4 977.0L420.2 977.1L421.0 977.1L421.9 977.2L422.7 977.3L423.5 977.4L424.3 977.5L425.1 977.5L426.0 977.6L426.8 977.7L427.6 977.8L428.4 977.9L429.2 978.0L430.1 978.0L430.9 978.1L431.7 978.2L432.5 978.3L433.3 978.4L434.2 978.5L435.0 978.6L435.8 978.7L436.6 978.7L437.4 978.8L438.2 978.9L439.1 979.0L439.9 979.1L440.7 979.2L441.5 979.3L442.3 979.4L443.2 979.5L444.0 979.6L444.8 979.7L445.6 979.8L446.4 979.9L447.3 980.0L448.1 980.1L448.9 980.2L449.7 980.3L450.5 980.4L451.4 980.4L452.2 980.5L453.0 980.6L453.8 980.7L454.6 980.8L455.5 980.9L456.3 981.0L457.1 981.1L457.9 981.2L458.7 981.3L459.6 981.4L460.4 981.5L461.2 981.6L462.0 981.7L462.8 981.8L463.7 981.9L464.5 982.0L465.3 982.1L466.1 982.2L466.9 982.3L467.8 982.4L468.6 982.5L469.4 982.6L470.2 982.7L471.0 982.8L471.9 982.9L472.7 983.0L473.5 983.0L474.3 983.1L475.1 983.2L476.0 983.3L476.8 983.4L477.6 983.5L478.4 983.6L479.2 983.7L480.1 983.8L480.9 983.9L481.7 983.9L482.5 984.0L483.3 984.1L484.2 984.2L485.0 984.3L485.8 984.4L486.6 984.4L487.4 984.5L488.3 984.6L489.1 984.7L489.9 984.8L490.7 984.8L491.5 984.9L492.4 985.0L493.2 985.1L494.0 985.2L494.8 985.2L495.6 985.3L496.5 985.4L497.3 985.5L498.1 985.5L498.9 985.6L499.7 985.7L500.5 985.7L501.4 985.8L502.2 985.9L503.0 986.0L503.8 986.0L504.6 986.1L505.5 986.2L506.3 986.2L507.1 986.3L507.9 986.4L508.7 986.4L509.6 986.5L510.4 986.6L511.2 986.6L512.0 986.7L512.8 986.7L513.7 986.8L514.5 986.9L515.3 986.9L516.1 987.0L516.9 987.0L517.8 987.1L518.6 987.2L519.4 987.2L520.2 987.3L521.0 987.3L521.9 987.4L522.7 987.4L523.5 987.5L524.3 987.6L525.1 987.6L526.0 987.7L526.8 987.7L527.6 987.8L528.4 987.8L529.2 987.9L530.1 987.9L530.9 988.0L531.7 988.0L532.5 988.1L533.3 988.1L534.2 988.2L535.0 988.2L535.8 988.3L536.6 988.3L537.4 988.4L538.3 988.4L539.1 988.4L539.9 988.5L540.7 988.5L541.5 988.6L542.4 988.6L543.2 988.7L544.0 988.7L544.8 988.7L545.6 988.8L546.5 988.8L547.3 988.9L548.1 988.9L548.9 988.9L549.7 989.0L550.6 989.0L551.4 989.0L552.2 989.1L553.0 989.1L553.8 989.2L554.7 989.2L555.5 989.2L556.3 989.3L557.1 989.3L557.9 989.3L558.7 989.4L559.6 989.4L560.4 989.4L561.2 989.5L562.0 989.5L562.8 989.5L563.7 989.5L564.5 989.6L565.3 989.6L566.1 989.6L566.9 989.7L567.8 989.7L568.6 989.7L569.4 989.7L570.2 989.8L571.0 989.8L571.9 989.8L572.7 989.8L573.5 989.9L574.3 989.9L575.1 989.9L576.0 989.9L576.8 990.0L577.6 990.0L578.4 990.0L579.2 990.0L580.1 990.0L580.9 990.1L581.7 990.1L582.5 990.1L583.3 990.1L584.2 990.1L585.0 990.2L585.8 990.2L586.6 990.2L587.4 990.2L588.3 990.2L589.1 990.3L589.9 990.3L590.7 990.3L591.5 990.3L592.4 990.3L593.2 990.3L594.0 990.3L594.8 990.4L595.6 990.4L596.5 990.4L597.3 990.4L598.1 990.4L598.9 990.4L599.7 990.4L600.6 990.4L601.4 990.5L602.2 990.5L603.0 990.5L603.8 990.5L604.7 990.5L605.5 990.5L606.3 990.5L607.1 990.5L607.9 990.5L608.8 990.5L609.6 990.5L610.4 990.6L611.2 990.6L612.0 990.6L612.9 990.6L613.7 990.6L614.5 990.6L615.3 990.6L616.1 990.6L617.0 990.6L617.8 990.6L618.6 990.6L619.4 990.6L620.2 990.6L621.0 990.6L621.9 990.6L622.7 990.6L623.5 990.6L624.3 990.6L625.1 990.6L626.0 990.6L626.8 990.6L627.6 990.6L628.4 990.6L629.2 990.6L630.1 990.6L630.9 990.6L631.7 990.6L632.5 990.6L633.3 990.6L634.2 990.6L635.0 990.6L635.8 990.6L636.6 990.6L637.4 990.6L638.3 990.6L639.1 990.6L639.9 990.6L640.7 990.6L641.5 990.6L642.4 990.6L643.2 990.6L644.0 990.6L644.8 990.6L645.6 990.6L646.5 990.6L647.3 990.6L648.1 990.6L648.9 990.5L649.7 990.5L650.6 990.5L651.4 990.5L652.2 990.5L653.0 990.5L653.8 990.5L654.7 990.5L655.5 990.5L656.3 990.5L657.1 990.5L657.9 990.5L658.8 990.5L659.6 990.5L660.4 990.4L661.2 990.4L662.0 990.4L662.9 990.4L663.7 990.4L664.5 990.4L665.3 990.4L666.1 990.4L667.0 990.4L667.8 990.4L668.6 990.4L669.4 990.4L670.2 990.4L671.1 990.3L671.9 990.3L672.7 990.3L673.5 990.3L674.3 990.3L675.2 990.3L676.0 990.3L676.8 990.3L677.6 990.3L678.4 990.3L679.2 990.3L680.1 990.3L680.9 990.3L681.7 990.3L682.5 990.3L683.3 990.2L684.2 990.2L685.0 990.2L685.8 990.2L686.6 990.2L687.4 990.2L688.3 990.2L689.1 990.2L689.9 990.2L690.7 990.2L691.5 990.2L692.4 990.2L693.2 990.2L694.0 990.2L694.8 990.2L695.6 990.2L696.5 990.2L697.3 990.2L698.1 990.2L698.9 990.2L699.7 990.2L700.6 990.2L701.4 990.2L702.2 990.2L703.0 990.2L703.8 990.2L704.7 990.2L705.5 990.2L706.3 990.2L707.1 990.2L707.9 990.2L708.8 990.2L709.6 990.2L710.4 990.2L711.2 990.3L712.0 990.3L712.9 990.3L713.7 990.3L714.5 990.3L715.3 990.3L716.1 990.3L717.0 990.3L717.8 990.3L718.6 990.3L719.4 990.3L720.2 990.4L721.1 990.4L721.9 990.4L722.7 990.4L723.5 990.4L724.3 990.4L725.2 990.5L726.0 990.5L726.8 990.5L727.6 990.5L728.4 990.5L729.3 990.5L730.1 990.6L730.9 990.6L731.7 990.6L732.5 990.6L733.4 990.7L734.2 990.7L735.0 990.7L735.8 990.7L736.6 990.8L737.5 990.8L738.3 990.8L739.1 990.9L739.9 990.9L740.7 990.9L741.5 990.9L742.4 991.0L743.2 991.0L744.0 991.0L744.8 991.1L745.6 991.1L746.5 991.2L747.3 991.2L748.1 991.2L748.9 991.3L749.7 991.3L750.6 991.4L751.4 991.4L752.2 991.4L753.0 991.5L753.8 991.5L754.7 991.6L755.5 991.6L756.3 991.7L757.1 991.7L757.9 991.8L758.8 991.8L759.6 991.9L760.4 991.9L761.2 992.0L762.0 992.1L762.9 992.1L763.7 992.2L764.5 992.2L765.3 992.3L766.1 992.4L767.0 992.4L767.8 992.5L768.6 992.5L769.4 992.6L770.2 992.7L771.1 992.7L771.9 992.8L772.7 992.9L773.5 993.0L774.3 993.0L775.2 993.1L776.0 993.2L776.8 993.3L777.6 993.3L778.4 993.4L779.3 993.5L780.1 993.6L780.9 993.7L781.7 993.7L782.5 993.8L783.4 993.9L784.2 994.0L785.0 994.1L785.8 994.2L786.6 994.3L787.5 994.4L788.3 994.5L789.1 994.6L789.9 994.7L790.7 994.8L791.6 994.9L792.4 995.0L793.2 995.1L794.0 995.2L794.8 995.3L795.7 995.4L796.5 995.5L797.3 995.6L798.1 995.7L798.9 995.8L799.7 996.0L800.6 996.1L801.4 996.2L802.2 996.3L803.0 996.4L803.8 996.5L804.7 996.7L805.5 996.8L806.3 996.9L807.1 997.0L807.9 997.1L808.8 997.2L809.6 997.3L810.4 997.4L811.2 997.5L812.0 997.5L812.9 997.6L813.7 997.7L814.5 997.7L815.3 997.8L816.1 997.8L817.0 997.8L817.8 997.8L818.6 997.8L819.4 997.8L820.2 997.8L821.1 997.8L821.9 997.7L822.7 997.7L823.5 997.6L824.3 997.5L825.2 997.4L826.0 997.3L826.8 997.2L827.6 997.1L828.4 997.0L829.3 996.9L830.1 996.8L830.9 996.7L831.7 996.6L832.5 996.5L833.4 996.4L834.2 996.4L835.0 996.3L835.8 996.2L836.6 996.1L837.5 996.1L838.3 996.0L839.1 995.9L839.9 995.8L840.7 995.7L841.6 995.6L842.4 995.5L843.2 995.3L844.0 995.1L844.8 995.0L845.7 994.7L846.5 994.5L847.3 994.2L848.1 993.9L848.9 993.5L849.8 993.1L850.6 992.7L851.4 992.3L852.2 991.8L853.0 991.4L853.9 990.9L854.7 990.4L855.5 990.0L856.3 989.5L857.1 989.0L858.0 988.6L858.8 988.2L859.6 987.8L860.4 987.4L861.2 987.1L862.0 986.8L862.9 986.5L863.7 986.2L864.5 985.9L865.3 985.5L866.1 985.1L867.0 984.6L867.8 984.1L868.6 983.6L869.4 983.1L870.2 982.5L871.1 981.9L871.9 981.3L872.7 980.7L873.5 980.1L874.3 979.5L875.2 978.9L876.0 978.3L876.8 977.7L877.6 977.2L878.4 976.6L879.3 976.1L880.1 975.5L880.9 975.0L881.7 974.5L882.5 973.9L883.4 973.4L884.2 972.8L885.0 972.2L885.8 971.5L886.6 970.9L887.5 970.2L888.3 969.4L889.1 968.6L889.9 967.7L890.7 966.7L891.6 965.7L892.4 964.6L893.2 963.4L894.0 962.2L894.8 960.8L895.7 959.4L896.5 957.9L897.3 956.4L898.1 954.8L898.9 953.2L899.8 951.6L900.6 950.0L901.4 948.4L902.2 946.9L903.0 945.3L903.9 943.8L904.7 942.3L905.5 940.8L906.3 939.3L907.1 937.8L908.0 936.3L908.8 934.8L909.6 933.3L910.4 931.8L911.2 930.3L912.1 928.8L912.9 927.2L913.7 925.7L914.5 924.1L915.3 922.5L916.2 920.9L917.0 919.3L917.8 917.7L918.6 916.0L919.4 914.3L920.3 912.6L921.1 910.9L921.9 909.2L922.7 907.4L923.5 905.6L924.3 903.9L925.2 902.1L926.0 900.2L926.8 898.4L927.6 896.5L928.4 894.6L929.3 892.7L930.1 890.8L930.9 888.9L931.7 886.9L932.5 885.0L933.4 883.0L934.2 881.0L935.0 878.9L935.8 876.9L936.6 874.8L937.5 872.8L938.3 870.7L939.1 868.6L939.9 866.4L940.7 864.3L941.6 862.2L942.4 860.0L943.2 857.8L944.0 855.7L944.8 853.5L945.7 851.3L946.5 849.1L947.3 846.8L948.1 844.6L948.9 842.4L949.8 840.1L950.6 837.9L951.4 835.6L952.2 833.3L953.0 831.0L953.9 828.7L954.7 826.4L955.5 824.1L956.3 821.8L957.1 819.5L958.0 817.2L958.8 814.8L959.6 812.5L960.4 810.1L961.2 807.8L962.1 805.4L962.9 803.1L963.7 800.7L964.5 798.3L965.3 795.9L966.2 793.6L967.0 791.2L967.8 788.8L968.6 786.4L969.4 784.0L970.3 781.6L971.1 779.2L971.9 776.8L972.7 774.4L973.5 772.0L974.4 769.6L975.2 767.2L976.0 764.8L976.8 762.4L977.6 760.0L978.5 757.6L979.3 755.2L980.1 752.9L980.9 750.5L981.7 748.1L982.5 745.7L983.4 743.3L984.2 741.0L985.0 738.6L985.8 736.2L986.6 733.9L987.5 731.5L988.3 729.2L989.1 726.9L989.9 724.5L990.7 722.2L991.6 719.9L992.4 717.6L993.2 715.3L994.0 713.0L994.8 710.7L995.7 708.4L996.5 706.1L997.3 703.9L998.1 701.6L998.9 699.4L999.8 697.2L1000.6 694.9L1001.4 692.7L1002.2 690.5L1003.0 688.3L1003.9 686.1L1004.7 684.0L1005.5 681.8L1006.3 679.6L1007.1 677.5L1008.0 675.4L1008.8 673.2L1009.6 671.1L1010.4 669.0L1011.2 666.9L1012.1 664.9L1012.9 662.8L1013.7 660.8L1014.5 658.7L1015.3 656.7L1016.2 654.7L1017.0 652.7L1017.8 650.7L1018.6 648.7L1019.4 646.7L1020.3 644.8L1021.1 642.8L1021.9 640.9L1022.7 638.9L1023.5 637.0L1024.4 635.1L1025.2 633.2L1026.0 631.4L1026.8 629.5L1027.6 627.6L1028.5 625.8L1029.3 624.0L1030.1 622.2L1030.9 620.3L1031.7 618.5L1032.6 616.8L1033.4 615.0L1034.2 613.2L1035.0 611.5L1035.8 609.7L1036.7 608.0L1037.5 606.3L1038.3 604.6L1039.1 602.9L1039.9 601.2L1040.8 599.5L1041.6 597.9L1042.4 596.2L1043.2 594.6L1044.0 593.0L1044.8 591.4L1045.7 589.7L1046.5 588.1L1047.3 586.6L1048.1 585.0L1048.9 583.4L1049.8 581.9L1050.6 580.3L1051.4 578.8L1052.2 577.3L1053.0 575.8L1053.9 574.2L1054.7 572.8L1055.5 571.3L1056.3 569.8L1057.1 568.3L1058.0 566.9L1058.8 565.4L1059.6 564.0L1060.4 562.6L1061.2 561.1L1062.1 559.7L1062.9 558.3L1063.7 557.0L1064.5 555.6L1065.3 554.2L1066.2 552.8L1067.0 551.5L1067.8 550.1L1068.6 548.8L1069.4 547.5L1070.3 546.2L1071.1 544.8L1071.9 543.5L1072.7 542.2L1073.5 541.0L1074.4 539.7L1075.2 538.4L1076.0 537.1L1076.8 535.9L1077.6 534.6L1078.5 533.4L1079.3 532.2L1080.1 531.0L1080.9 529.7L1081.7 528.5L1082.6 527.3L1083.4 526.1L1084.2 525.0L1085.0 523.8L1085.8 522.6L1086.7 521.4L1087.5 520.3L1088.3 519.1L1089.1 518.0L1089.9 516.9L1090.8 515.7L1091.6 514.6L1092.4 513.5L1093.2 512.4L1094.0 511.3L1094.9 510.2L1095.7 509.1L1096.5 508.0L1097.3 507.0L1098.1 505.9L1099.0 504.8L1099.8 503.8L1100.6 502.7L1101.4 501.7L1102.2 500.7L1103.0 499.6L1103.9 498.6L1104.7 497.6L1105.5 496.6L1106.3 495.6L1107.1 494.6L1108.0 493.6L1108.8 492.6L1109.6 491.6L1110.4 490.6L1111.2 489.7L1112.1 488.7L1112.9 487.7L1113.7 486.8L1114.5 485.8L1115.3 484.9L1116.2 483.9L1117.0 483.0L1117.8 482.1L1118.6 481.2L1119.4 480.3L1120.3 479.3L1121.1 478.4L1121.9 477.5L1122.7 476.7L1123.5 475.8L1124.4 474.9L1125.2 474.0L1126.0 473.1L1126.8 472.3L1127.6 471.4L1128.5 470.5L1129.3 469.7L1130.1 468.8L1130.9 468.0L1131.7 467.2L1132.6 466.3L1133.4 465.5L1134.2 464.7L1135.0 463.9L1135.8 463.1L1136.7 462.2L1137.5 461.4L1138.3 460.6L1139.1 459.9L1139.9 459.1L1140.8 458.3L1141.6 457.5L1142.4 456.7L1143.2 456.0L1144.0 455.2L1144.9 454.4L1145.7 453.7L1146.5 452.9L1147.3 452.2L1148.1 451.4L1149.0 450.7L1149.8 450.0L1150.6 449.2L1151.4 448.5L1152.2 447.8L1153.1 447.1L1153.9 446.4L1154.7 445.7L1155.5 445.0L1156.3 444.3L1157.2 443.6L1158.0 442.9L1158.8 442.2L1159.6 441.5L1160.4 440.8L1161.3 440.2L1162.1 439.5L1162.9 438.8L1163.7 438.2L1164.5 437.5L1165.3 436.9L1166.2 436.2L1167.0 435.6L1167.8 434.9L1168.6 434.3L1169.4 433.7L1170.3 433.0L1171.1 432.4L1171.9 431.8L1172.7 431.2L1173.5 430.6L1174.4 430.0L1175.2 429.4L1176.0 428.8L1176.8 428.2L1177.6 427.6L1178.5 427.0L1179.3 426.4L1180.1 425.8L1180.9 425.3L1181.7 424.7L1182.6 424.1L1183.4 423.6L1184.2 423.0L1185.0 422.4L1185.8 421.9L1186.7 421.3L1187.5 420.8L1188.3 420.3L1189.1 419.7L1189.9 419.2L1190.8 418.7L1191.6 418.1L1192.4 417.6L1193.2 417.1L1194.0 416.6L1194.9 416.1L1195.7 415.6L1196.5 415.0L1197.3 414.5L1198.1 414.0L1199.0 413.6L1199.8 413.1L1200.6 412.6L1201.4 412.1L1202.2 411.6L1203.1 411.1L1203.9 410.7L1204.7 410.2L1205.5 409.7L1206.3 409.3L1207.2 408.8L1208.0 408.4L1208.8 407.9L1209.6 407.4L1210.4 407.0L1211.3 406.6L1212.1 406.1L1212.9 405.7L1213.7 405.2L1214.5 404.8L1215.4 404.4L1216.2 404.0L1217.0 403.5L1217.8 403.1L1218.6 402.7L1219.5 402.3L1220.3 401.9L1221.1 401.5L1221.9 401.1L1222.7 400.7L1223.5 400.3L1224.4 399.9L1225.2 399.5L1226.0 399.1L1226.8 398.7L1227.6 398.3L1228.5 397.9L1229.3 397.5L1230.1 397.2L1230.9 396.8L1231.7 396.4L1232.6 396.0L1233.4 395.7L1234.2 395.3L1235.0 394.9L1235.8 394.6L1236.7 394.2L1237.5 393.9L1238.3 393.5L1239.1 393.2L1239.9 392.8L1240.8 392.5L1241.6 392.1L1242.4 391.8L1243.2 391.4L1244.0 391.1L1244.9 390.8L1245.7 390.4L1246.5 390.1L1247.3 389.8L1248.1 389.5L1249.0 389.1L1249.8 388.8L1250.6 388.5L1251.4 388.2L1252.2 387.9L1253.1 387.5L1253.9 387.2L1254.7 386.9L1255.5 386.6L1256.3 386.3L1257.2 386.0L1258.0 385.7L1258.8 385.4L1259.6 385.1L1260.4 384.8L1261.3 384.5L1262.1 384.2L1262.9 384.0L1263.7 383.7L1264.5 383.4L1265.4 383.1L1266.2 382.8L1267.0 382.5L1267.8 382.3L1268.6 382.0L1269.5 381.7L1270.3 381.4L1271.1 381.2L1271.9 380.9L1272.7 380.6L1273.6 380.4L1274.4 380.1L1275.2 379.8L1276.0 379.6L1276.8 379.3L1277.7 379.1L1278.5 378.8L1279.3 378.6L1280.1 378.3L1280.9 378.1L1281.8 377.8L1282.6 377.6L1283.4 377.3L1284.2 377.1L1285.0 376.9L1285.8 376.6L1286.7 376.4L1287.5 376.1L1288.3 375.9L1289.1 375.7L1289.9 375.4L1290.8 375.2L1291.6 375.0L1292.4 374.8L1293.2 374.5L1294.0 374.3L1294.9 374.1L1295.7 373.9L1296.5 373.7L1297.3 373.4L1298.1 373.2L1299.0 373.0L1299.8 372.8L1300.6 372.6L1301.4 372.4L1302.2 372.2L1303.1 372.0L1303.9 371.8L1304.7 371.5L1305.5 371.3L1306.3 371.1L1307.2 370.9L1308.0 370.7L1308.8 370.6L1309.6 370.4L1310.4 370.2L1311.3 370.0L1312.1 369.8L1312.9 369.6L1313.7 369.4L1314.5 369.2L1315.4 369.0L1316.2 368.8L1317.0 368.7L1317.8 368.5L1318.6 368.3L1319.5 368.1L1320.3 367.9L1321.1 367.8L1321.9 367.6L1322.7 367.4L1323.6 367.2L1324.4 367.1L1325.2 366.9L1326.0 366.7L1326.8 366.6L1327.7 366.4L1328.5 366.2L1329.3 366.1L1330.1 365.9L1330.9 365.7L1331.8 365.6L1332.6 365.4L1333.4 365.3L1334.2 365.1L1335.0 364.9L1335.9 364.8L1336.7 364.6L1337.5 364.5L1338.3 364.3L1339.1 364.2L1340.0 364.0L1340.8 363.9L1341.6 363.7L1342.4 363.6L1343.2 363.4L1344.0 363.3L1344.9 363.2L1345.7 363.0L1346.5 362.9L1347.3 362.7L1348.1 362.6L1349.0 362.5L1349.8 362.3L1350.6 362.2L1351.4 362.0L1352.2 361.9L1353.1 361.8L1353.9 361.6L1354.7 361.5L1355.5 361.4L1356.3 361.3L1357.2 361.1L1358.0 361.0L1358.8 360.9L1359.6 360.8L1360.4 360.6L1361.3 360.5L1362.1 360.4L1362.9 360.3L1363.7 360.2L1364.5 360.0L1365.4 359.9L1366.2 359.8L1367.0 359.7L1367.8 359.6L1368.6 359.5L1369.5 359.3L1370.3 359.2L1371.1 359.1L1371.9 359.0L1372.7 358.9L1373.6 358.8L1374.4 358.7L1375.2 358.6L1376.0 358.5L1376.8 358.4L1377.7 358.3L1378.5 358.2L1379.3 358.1L1380.1 358.0L1380.9 357.9L1381.8 357.8L1382.6 357.7L1383.4 357.6L1384.2 357.5L1385.0 357.4L1385.9 357.3L1386.7 357.2L1387.5 357.1L1388.3 357.0L1389.1 356.9L1390.0 356.8L1390.8 356.7L1391.6 356.6L1392.4 356.5L1393.2 356.4L1394.1 356.4L1394.9 356.3L1395.7 356.2L1396.5 356.1L1397.3 356.0L1398.2 355.9L1399.0 355.9L1399.8 355.8L1400.6 355.7L1401.4 355.6L1402.3 355.5L1403.1 355.4L1403.9 355.4L1404.7 355.3L1405.5 355.2L1406.3 355.1L1407.2 355.1L1408.0 355.0L1408.8 354.9L1409.6 354.8L1410.4 354.8L1411.3 354.7L1412.1 354.6L1412.9 354.6L1413.7 354.5L1414.5 354.4L1415.4 354.3L1416.2 354.3L1417.0 354.2L1417.8 354.1L1418.6 354.1L1419.5 354.0L1420.3 353.9L1421.1 353.9L1421.9 353.8L1422.7 353.8L1423.6 353.7L1424.4 353.6L1425.2 353.6L1426.0 353.5L1426.8 353.5L1427.7 353.4L1428.5 353.3L1429.3 353.3L1430.1 353.2L1430.9 353.2L1431.8 353.1L1432.6 353.1L1433.4 353.0" fill="none" stroke="#E8141A" stroke-width="4.6" stroke-linecap="round" stroke-linejoin="round"/>
<path d="M286.6 991.6L287.4 991.3L288.2 991.1L289.1 990.8L289.9 990.6L290.7 990.4L291.5 990.1L292.3 989.9L293.2 989.7L294.0 989.4L294.8 989.2L295.6 989.0L296.4 988.8L297.3 988.5L298.1 988.3L298.9 988.1L299.7 987.9L300.5 987.7L301.4 987.5L302.2 987.3L303.0 987.1L303.8 986.9L304.6 986.7L305.5 986.5L306.3 986.4L307.1 986.2L307.9 986.0L308.7 985.8L309.6 985.6L310.4 985.5L311.2 985.3L312.0 985.1L312.8 985.0L313.7 984.8L314.5 984.7L315.3 984.5L316.1 984.4L316.9 984.2L317.7 984.1L318.6 983.9L319.4 983.8L320.2 983.6L321.0 983.5L321.8 983.4L322.7 983.2L323.5 983.1L324.3 983.0L325.1 982.9L325.9 982.7L326.8 982.6L327.6 982.5L328.4 982.4L329.2 982.3L330.0 982.2L330.9 982.1L331.7 982.0L332.5 981.9L333.3 981.8L334.1 981.7L335.0 981.6L335.8 981.5L336.6 981.4L337.4 981.3L338.2 981.2L339.1 981.1L339.9 981.0L340.7 981.0L341.5 980.9L342.3 980.8L343.2 980.7L344.0 980.7L344.8 980.6L345.6 980.5L346.4 980.5L347.3 980.4L348.1 980.4L348.9 980.3L349.7 980.3L350.5 980.2L351.4 980.1L352.2 980.1L353.0 980.1L353.8 980.0L354.6 980.0L355.5 979.9L356.3 979.9L357.1 979.9L357.9 979.8L358.7 979.8L359.6 979.8L360.4 979.7L361.2 979.7L362.0 979.7L362.8 979.7L363.7 979.6L364.5 979.6L365.3 979.6L366.1 979.6L366.9 979.6L367.8 979.6L368.6 979.5L369.4 979.5L370.2 979.5L371.0 979.5L371.9 979.5L372.7 979.5L373.5 979.5L374.3 979.5L375.1 979.5L376.0 979.5L376.8 979.5L377.6 979.5L378.4 979.6L379.2 979.6L380.0 979.6L380.9 979.6L381.7 979.6L382.5 979.6L383.3 979.6L384.1 979.7L385.0 979.7L385.8 979.7L386.6 979.7L387.4 979.8L388.2 979.8L389.1 979.8L389.9 979.8L390.7 979.9L391.5 979.9L392.3 979.9L393.2 980.0L394.0 980.0L394.8 980.1L395.6 980.1L396.4 980.1L397.3 980.2L398.1 980.2L398.9 980.3L399.7 980.3L400.5 980.4L401.4 980.4L402.2 980.5L403.0 980.5L403.8 980.6L404.6 980.6L405.5 980.7L406.3 980.7L407.1 980.8L407.9 980.8L408.7 980.9L409.6 981.0L410.4 981.0L411.2 981.1L412.0 981.2L412.8 981.2L413.7 981.3L414.5 981.4L415.3 981.4L416.1 981.5L416.9 981.6L417.8 981.6L418.6 981.7L419.4 981.8L420.2 981.8L421.0 981.9L421.9 982.0L422.7 982.1L423.5 982.1L424.3 982.2L425.1 982.3L426.0 982.4L426.8 982.5L427.6 982.5L428.4 982.6L429.2 982.7L430.1 982.8L430.9 982.9L431.7 983.0L432.5 983.0L433.3 983.1L434.2 983.2L435.0 983.3L435.8 983.4L436.6 983.5L437.4 983.6L438.2 983.7L439.1 983.7L439.9 983.8L440.7 983.9L441.5 984.0L442.3 984.1L443.2 984.2L444.0 984.3L444.8 984.4L445.6 984.5L446.4 984.6L447.3 984.7L448.1 984.8L448.9 984.9L449.7 985.0L450.5 985.1L451.4 985.2L452.2 985.3L453.0 985.4L453.8 985.5L454.6 985.6L455.5 985.7L456.3 985.8L457.1 985.9L457.9 986.0L458.7 986.1L459.6 986.2L460.4 986.3L461.2 986.4L462.0 986.5L462.8 986.6L463.7 986.7L464.5 986.8L465.3 986.9L466.1 987.0L466.9 987.1L467.8 987.2L468.6 987.3L469.4 987.4L470.2 987.5L471.0 987.6L471.9 987.7L472.7 987.8L473.5 987.9L474.3 988.0L475.1 988.1L476.0 988.2L476.8 988.3L477.6 988.4L478.4 988.5L479.2 988.6L480.1 988.7L480.9 988.8L481.7 988.9L482.5 989.0L483.3 989.1L484.2 989.2L485.0 989.3L485.8 989.4L486.6 989.5L487.4 989.6L488.3 989.7L489.1 989.8L489.9 989.9L490.7 990.0L491.5 990.1L492.4 990.2L493.2 990.3L494.0 990.4L494.8 990.5L495.6 990.6L496.5 990.7L497.3 990.8L498.1 990.9L498.9 991.0L499.7 991.1L500.5 991.2L501.4 991.3L502.2 991.4L503.0 991.5L503.8 991.6L504.6 991.7L505.5 991.8L506.3 991.9L507.1 992.0L507.9 992.1L508.7 992.1L509.6 992.2L510.4 992.3L511.2 992.4L512.0 992.5L512.8 992.6L513.7 992.7L514.5 992.8L515.3 992.9L516.1 992.9L516.9 993.0L517.8 993.1L518.6 993.2L519.4 993.3L520.2 993.4L521.0 993.5L521.9 993.5L522.7 993.6L523.5 993.7L524.3 993.8L525.1 993.9L526.0 993.9L526.8 994.0L527.6 994.1L528.4 994.2L529.2 994.2L530.1 994.3L530.9 994.4L531.7 994.5L532.5 994.5L533.3 994.6L534.2 994.7L535.0 994.8L535.8 994.8L536.6 994.9L537.4 995.0L538.3 995.0L539.1 995.1L539.9 995.2L540.7 995.2L541.5 995.3L542.4 995.4L543.2 995.4L544.0 995.5L544.8 995.6L545.6 995.6L546.5 995.7L547.3 995.7L548.1 995.8L548.9 995.9L549.7 995.9L550.6 996.0L551.4 996.0L552.2 996.1L553.0 996.2L553.8 996.2L554.7 996.3L555.5 996.3L556.3 996.4L557.1 996.4L557.9 996.5L558.7 996.5L559.6 996.6L560.4 996.6L561.2 996.7L562.0 996.7L562.8 996.8L563.7 996.8L564.5 996.9L565.3 996.9L566.1 997.0L566.9 997.0L567.8 997.0L568.6 997.1L569.4 997.1L570.2 997.2L571.0 997.2L571.9 997.2L572.7 997.3L573.5 997.3L574.3 997.4L575.1 997.4L576.0 997.4L576.8 997.5L577.6 997.5L578.4 997.5L579.2 997.6L580.1 997.6L580.9 997.6L581.7 997.6L582.5 997.7L583.3 997.7L584.2 997.7L585.0 997.7L585.8 997.8L586.6 997.8L587.4 997.8L588.3 997.8L589.1 997.9L589.9 997.9L590.7 997.9L591.5 997.9L592.4 997.9L593.2 998.0L594.0 998.0L594.8 998.0L595.6 998.0L596.5 998.0L597.3 998.0L598.1 998.0L598.9 998.1L599.7 998.1L600.6 998.1L601.4 998.1L602.2 998.1L603.0 998.1L603.8 998.1L604.7 998.1L605.5 998.1L606.3 998.1L607.1 998.1L607.9 998.1L608.8 998.1L609.6 998.1L610.4 998.1L611.2 998.1L612.0 998.1L612.9 998.1L613.7 998.1L614.5 998.1L615.3 998.1L616.1 998.1L617.0 998.1L617.8 998.0L618.6 998.0L619.4 998.0L620.2 998.0L621.0 998.0L621.9 998.0L622.7 998.0L623.5 997.9L624.3 997.9L625.1 997.9L626.0 997.9L626.8 997.9L627.6 997.8L628.4 997.8L629.2 997.8L630.1 997.8L630.9 997.7L631.7 997.7L632.5 997.7L633.3 997.7L634.2 997.6L635.0 997.6L635.8 997.6L636.6 997.5L637.4 997.5L638.3 997.5L639.1 997.4L639.9 997.4L640.7 997.3L641.5 997.3L642.4 997.3L643.2 997.2L644.0 997.2L644.8 997.1L645.6 997.1L646.5 997.0L647.3 997.0L648.1 997.0L648.9 996.9L649.7 996.9L650.6 996.8L651.4 996.8L652.2 996.7L653.0 996.7L653.8 996.6L654.7 996.6L655.5 996.5L656.3 996.5L657.1 996.4L657.9 996.4L658.8 996.3L659.6 996.3L660.4 996.2L661.2 996.2L662.0 996.1L662.9 996.0L663.7 996.0L664.5 995.9L665.3 995.9L666.1 995.8L667.0 995.8L667.8 995.7L668.6 995.7L669.4 995.6L670.2 995.6L671.1 995.5L671.9 995.5L672.7 995.4L673.5 995.4L674.3 995.3L675.2 995.3L676.0 995.3L676.8 995.2L677.6 995.2L678.4 995.1L679.2 995.1L680.1 995.0L680.9 995.0L681.7 995.0L682.5 994.9L683.3 994.9L684.2 994.8L685.0 994.8L685.8 994.8L686.6 994.7L687.4 994.7L688.3 994.7L689.1 994.6L689.9 994.6L690.7 994.6L691.5 994.6L692.4 994.5L693.2 994.5L694.0 994.5L694.8 994.5L695.6 994.4L696.5 994.4L697.3 994.4L698.1 994.4L698.9 994.4L699.7 994.4L700.6 994.4L701.4 994.4L702.2 994.4L703.0 994.4L703.8 994.4L704.7 994.4L705.5 994.4L706.3 994.4L707.1 994.4L707.9 994.4L708.8 994.4L709.6 994.4L710.4 994.4L711.2 994.5L712.0 994.5L712.9 994.5L713.7 994.5L714.5 994.5L715.3 994.6L716.1 994.6L717.0 994.6L717.8 994.7L718.6 994.7L719.4 994.8L720.2 994.8L721.1 994.8L721.9 994.9L722.7 994.9L723.5 995.0L724.3 995.0L725.2 995.1L726.0 995.1L726.8 995.2L727.6 995.2L728.4 995.3L729.3 995.4L730.1 995.4L730.9 995.5L731.7 995.5L732.5 995.6L733.4 995.7L734.2 995.7L735.0 995.8L735.8 995.9L736.6 996.0L737.5 996.0L738.3 996.1L739.1 996.2L739.9 996.3L740.7 996.3L741.5 996.4L742.4 996.5L743.2 996.6L744.0 996.7L744.8 996.8L745.6 996.8L746.5 996.9L747.3 997.0L748.1 997.1L748.9 997.2L749.7 997.3L750.6 997.4L751.4 997.5L752.2 997.6L753.0 997.7L753.8 997.7L754.7 997.8L755.5 997.9L756.3 998.0L757.1 998.1L757.9 998.2L758.8 998.3L759.6 998.4L760.4 998.5L761.2 998.6L762.0 998.7L762.9 998.8L763.7 998.9L764.5 999.0L765.3 999.1L766.1 999.2L767.0 999.3L767.8 999.5L768.6 999.6L769.4 999.7L770.2 999.8L771.1 999.9L771.9 1000.0L772.7 1000.1L773.5 1000.2L774.3 1000.3L775.2 1000.4L776.0 1000.5L776.8 1000.6L777.6 1000.7L778.4 1000.8L779.3 1000.9L780.1 1001.0L780.9 1001.1L781.7 1001.3L782.5 1001.4L783.4 1001.5L784.2 1001.6L785.0 1001.7L785.8 1001.8L786.6 1001.9L787.5 1002.0L788.3 1002.1L789.1 1002.2L789.9 1002.3L790.7 1002.4L791.6 1002.5L792.4 1002.6L793.2 1002.7L794.0 1002.8L794.8 1002.9L795.7 1003.0L796.5 1003.1L797.3 1003.2L798.1 1003.3L798.9 1003.4L799.7 1003.5L800.6 1003.6L801.4 1003.7L802.2 1003.8L803.0 1003.9L803.8 1004.0L804.7 1004.1L805.5 1004.2L806.3 1004.2L807.1 1004.3L807.9 1004.4L808.8 1004.5L809.6 1004.5L810.4 1004.6L811.2 1004.7L812.0 1004.7L812.9 1004.8L813.7 1004.8L814.5 1004.9L815.3 1004.9L816.1 1005.0L817.0 1005.0L817.8 1005.0L818.6 1005.1L819.4 1005.1L820.2 1005.1L821.1 1005.1L821.9 1005.1L822.7 1005.1L823.5 1005.0L824.3 1005.0L825.2 1005.0L826.0 1004.9L826.8 1004.9L827.6 1004.8L828.4 1004.7L829.3 1004.7L830.1 1004.6L830.9 1004.5L831.7 1004.4L832.5 1004.3L833.4 1004.2L834.2 1004.0L835.0 1003.9L835.8 1003.7L836.6 1003.6L837.5 1003.4L838.3 1003.2L839.1 1003.0L839.9 1002.8L840.7 1002.5L841.6 1002.3L842.4 1002.0L843.2 1001.8L844.0 1001.5L844.8 1001.2L845.7 1000.9L846.5 1000.5L847.3 1000.2L848.1 999.8L848.9 999.4L849.8 999.0L850.6 998.5L851.4 998.1L852.2 997.6L853.0 997.1L853.9 996.6L854.7 996.1L855.5 995.5L856.3 995.0L857.1 994.4L858.0 993.8L858.8 993.2L859.6 992.5L860.4 991.9L861.2 991.2L862.0 990.5L862.9 989.8L863.7 989.1L864.5 988.4L865.3 987.6L866.1 986.9L867.0 986.1L867.8 985.3L868.6 984.5L869.4 983.7L870.2 982.9L871.1 982.1L871.9 981.2L872.7 980.4L873.5 979.6L874.3 978.7L875.2 977.9L876.0 977.0L876.8 976.2L877.6 975.3L878.4 974.4L879.3 973.6L880.1 972.7L880.9 971.8L881.7 971.0L882.5 970.1L883.4 969.1L884.2 968.2L885.0 967.2L885.8 966.2L886.6 965.2L887.5 964.1L888.3 963.1L889.1 962.0L889.9 960.8L890.7 959.7L891.6 958.5L892.4 957.3L893.2 956.0L894.0 954.8L894.8 953.5L895.7 952.1L896.5 950.8L897.3 949.3L898.1 947.9L898.9 946.4L899.8 944.9L900.6 943.4L901.4 941.8L902.2 940.1L903.0 938.5L903.9 936.8L904.7 935.0L905.5 933.3L906.3 931.4L907.1 929.6L908.0 927.7L908.8 925.8L909.6 923.8L910.4 921.8L911.2 919.8L912.1 917.7L912.9 915.6L913.7 913.5L914.5 911.4L915.3 909.2L916.2 907.1L917.0 904.9L917.8 902.7L918.6 900.5L919.4 898.3L920.3 896.1L921.1 893.9L921.9 891.7L922.7 889.5L923.5 887.3L924.3 885.1L925.2 882.8L926.0 880.6L926.8 878.4L927.6 876.1L928.4 873.9L929.3 871.6L930.1 869.4L930.9 867.1L931.7 864.8L932.5 862.5L933.4 860.3L934.2 858.0L935.0 855.7L935.8 853.4L936.6 851.0L937.5 848.7L938.3 846.4L939.1 844.1L939.9 841.7L940.7 839.4L941.6 837.0L942.4 834.7L943.2 832.3L944.0 829.9L944.8 827.5L945.7 825.1L946.5 822.7L947.3 820.3L948.1 817.9L948.9 815.5L949.8 813.0L950.6 810.6L951.4 808.1L952.2 805.7L953.0 803.2L953.9 800.8L954.7 798.3L955.5 795.8L956.3 793.3L957.1 790.9L958.0 788.4L958.8 785.9L959.6 783.4L960.4 780.9L961.2 778.4L962.1 775.9L962.9 773.4L963.7 770.9L964.5 768.4L965.3 765.9L966.2 763.4L967.0 760.9L967.8 758.4L968.6 756.0L969.4 753.5L970.3 751.0L971.1 748.5L971.9 746.0L972.7 743.6L973.5 741.1L974.4 738.6L975.2 736.2L976.0 733.7L976.8 731.3L977.6 728.9L978.5 726.4L979.3 724.0L980.1 721.6L980.9 719.2L981.7 716.8L982.5 714.4L983.4 712.0L984.2 709.6L985.0 707.3L985.8 704.9L986.6 702.6L987.5 700.3L988.3 698.0L989.1 695.6L989.9 693.3L990.7 691.1L991.6 688.8L992.4 686.5L993.2 684.3L994.0 682.0L994.8 679.8L995.7 677.6L996.5 675.4L997.3 673.2L998.1 671.0L998.9 668.8L999.8 666.7L1000.6 664.5L1001.4 662.4L1002.2 660.3L1003.0 658.2L1003.9 656.1L1004.7 654.0L1005.5 651.9L1006.3 649.9L1007.1 647.8L1008.0 645.8L1008.8 643.8L1009.6 641.8L1010.4 639.8L1011.2 637.8L1012.1 635.9L1012.9 633.9L1013.7 632.0L1014.5 630.0L1015.3 628.1L1016.2 626.2L1017.0 624.3L1017.8 622.5L1018.6 620.6L1019.4 618.8L1020.3 616.9L1021.1 615.1L1021.9 613.3L1022.7 611.5L1023.5 609.7L1024.4 607.9L1025.2 606.2L1026.0 604.4L1026.8 602.7L1027.6 600.9L1028.5 599.2L1029.3 597.5L1030.1 595.8L1030.9 594.2L1031.7 592.5L1032.6 590.8L1033.4 589.2L1034.2 587.6L1035.0 585.9L1035.8 584.3L1036.7 582.7L1037.5 581.2L1038.3 579.6L1039.1 578.0L1039.9 576.5L1040.8 574.9L1041.6 573.4L1042.4 571.9L1043.2 570.4L1044.0 568.9L1044.8 567.4L1045.7 565.9L1046.5 564.4L1047.3 563.0L1048.1 561.5L1048.9 560.1L1049.8 558.7L1050.6 557.3L1051.4 555.9L1052.2 554.5L1053.0 553.1L1053.9 551.7L1054.7 550.3L1055.5 549.0L1056.3 547.6L1057.1 546.3L1058.0 545.0L1058.8 543.7L1059.6 542.4L1060.4 541.1L1061.2 539.8L1062.1 538.5L1062.9 537.2L1063.7 536.0L1064.5 534.7L1065.3 533.5L1066.2 532.2L1067.0 531.0L1067.8 529.8L1068.6 528.6L1069.4 527.4L1070.3 526.2L1071.1 525.0L1071.9 523.8L1072.7 522.6L1073.5 521.5L1074.4 520.3L1075.2 519.2L1076.0 518.0L1076.8 516.9L1077.6 515.8L1078.5 514.7L1079.3 513.6L1080.1 512.5L1080.9 511.4L1081.7 510.3L1082.6 509.2L1083.4 508.1L1084.2 507.1L1085.0 506.0L1085.8 505.0L1086.7 503.9L1087.5 502.9L1088.3 501.9L1089.1 500.9L1089.9 499.9L1090.8 498.8L1091.6 497.8L1092.4 496.9L1093.2 495.9L1094.0 494.9L1094.9 493.9L1095.7 493.0L1096.5 492.0L1097.3 491.1L1098.1 490.1L1099.0 489.2L1099.8 488.2L1100.6 487.3L1101.4 486.4L1102.2 485.5L1103.0 484.6L1103.9 483.7L1104.7 482.8L1105.5 481.9L1106.3 481.0L1107.1 480.1L1108.0 479.3L1108.8 478.4L1109.6 477.5L1110.4 476.7L1111.2 475.8L1112.1 475.0L1112.9 474.1L1113.7 473.3L1114.5 472.5L1115.3 471.7L1116.2 470.8L1117.0 470.0L1117.8 469.2L1118.6 468.4L1119.4 467.6L1120.3 466.8L1121.1 466.0L1121.9 465.2L1122.7 464.5L1123.5 463.7L1124.4 462.9L1125.2 462.2L1126.0 461.4L1126.8 460.6L1127.6 459.9L1128.5 459.1L1129.3 458.4L1130.1 457.7L1130.9 456.9L1131.7 456.2L1132.6 455.5L1133.4 454.8L1134.2 454.0L1135.0 453.3L1135.8 452.6L1136.7 451.9L1137.5 451.2L1138.3 450.5L1139.1 449.8L1139.9 449.1L1140.8 448.5L1141.6 447.8L1142.4 447.1L1143.2 446.4L1144.0 445.8L1144.9 445.1L1145.7 444.4L1146.5 443.8L1147.3 443.1L1148.1 442.5L1149.0 441.8L1149.8 441.2L1150.6 440.5L1151.4 439.9L1152.2 439.3L1153.1 438.7L1153.9 438.0L1154.7 437.4L1155.5 436.8L1156.3 436.2L1157.2 435.6L1158.0 435.0L1158.8 434.4L1159.6 433.8L1160.4 433.2L1161.3 432.6L1162.1 432.0L1162.9 431.4L1163.7 430.8L1164.5 430.2L1165.3 429.7L1166.2 429.1L1167.0 428.5L1167.8 428.0L1168.6 427.4L1169.4 426.8L1170.3 426.3L1171.1 425.7L1171.9 425.2L1172.7 424.6L1173.5 424.1L1174.4 423.5L1175.2 423.0L1176.0 422.5L1176.8 421.9L1177.6 421.4L1178.5 420.9L1179.3 420.4L1180.1 419.8L1180.9 419.3L1181.7 418.8L1182.6 418.3L1183.4 417.8L1184.2 417.3L1185.0 416.8L1185.8 416.3L1186.7 415.8L1187.5 415.3L1188.3 414.8L1189.1 414.3L1189.9 413.8L1190.8 413.4L1191.6 412.9L1192.4 412.4L1193.2 411.9L1194.0 411.5L1194.9 411.0L1195.7 410.5L1196.5 410.1L1197.3 409.6L1198.1 409.2L1199.0 408.7L1199.8 408.3L1200.6 407.8L1201.4 407.4L1202.2 406.9L1203.1 406.5L1203.9 406.1L1204.7 405.6L1205.5 405.2L1206.3 404.8L1207.2 404.3L1208.0 403.9L1208.8 403.5L1209.6 403.1L1210.4 402.6L1211.3 402.2L1212.1 401.8L1212.9 401.4L1213.7 401.0L1214.5 400.6L1215.4 400.2L1216.2 399.8L1217.0 399.4L1217.8 399.0L1218.6 398.6L1219.5 398.2L1220.3 397.8L1221.1 397.5L1221.9 397.1L1222.7 396.7L1223.5 396.3L1224.4 395.9L1225.2 395.6L1226.0 395.2L1226.8 394.8L1227.6 394.5L1228.5 394.1L1229.3 393.7L1230.1 393.4L1230.9 393.0L1231.7 392.7L1232.6 392.3L1233.4 391.9L1234.2 391.6L1235.0 391.2L1235.8 390.9L1236.7 390.6L1237.5 390.2L1238.3 389.9L1239.1 389.5L1239.9 389.2L1240.8 388.9L1241.6 388.5L1242.4 388.2L1243.2 387.9L1244.0 387.5L1244.9 387.2L1245.7 386.9L1246.5 386.6L1247.3 386.3L1248.1 385.9L1249.0 385.6L1249.8 385.3L1250.6 385.0L1251.4 384.7L1252.2 384.4L1253.1 384.1L1253.9 383.8L1254.7 383.5L1255.5 383.2L1256.3 382.9L1257.2 382.6L1258.0 382.3L1258.8 382.0L1259.6 381.7L1260.4 381.4L1261.3 381.1L1262.1 380.8L1262.9 380.5L1263.7 380.2L1264.5 380.0L1265.4 379.7L1266.2 379.4L1267.0 379.1L1267.8 378.8L1268.6 378.6L1269.5 378.3L1270.3 378.0L1271.1 377.8L1271.9 377.5L1272.7 377.2L1273.6 377.0L1274.4 376.7L1275.2 376.4L1276.0 376.2L1276.8 375.9L1277.7 375.7L1278.5 375.4L1279.3 375.1L1280.1 374.9L1280.9 374.6L1281.8 374.4L1282.6 374.1L1283.4 373.9L1284.2 373.7L1285.0 373.4L1285.8 373.2L1286.7 372.9L1287.5 372.7L1288.3 372.4L1289.1 372.2L1289.9 372.0L1290.8 371.7L1291.6 371.5L1292.4 371.3L1293.2 371.0L1294.0 370.8L1294.9 370.6L1295.7 370.4L1296.5 370.1L1297.3 369.9L1298.1 369.7L1299.0 369.5L1299.8 369.2L1300.6 369.0L1301.4 368.8L1302.2 368.6L1303.1 368.4L1303.9 368.2L1304.7 368.0L1305.5 367.7L1306.3 367.5L1307.2 367.3L1308.0 367.1L1308.8 366.9L1309.6 366.7L1310.4 366.5L1311.3 366.3L1312.1 366.1L1312.9 365.9L1313.7 365.7L1314.5 365.5L1315.4 365.3L1316.2 365.1L1317.0 364.9L1317.8 364.7L1318.6 364.5L1319.5 364.3L1320.3 364.1L1321.1 364.0L1321.9 363.8L1322.7 363.6L1323.6 363.4L1324.4 363.2L1325.2 363.0L1326.0 362.9L1326.8 362.7L1327.7 362.5L1328.5 362.3L1329.3 362.1L1330.1 362.0L1330.9 361.8L1331.8 361.6L1332.6 361.4L1333.4 361.3L1334.2 361.1L1335.0 360.9L1335.9 360.8L1336.7 360.6L1337.5 360.4L1338.3 360.3L1339.1 360.1L1340.0 359.9L1340.8 359.8L1341.6 359.6L1342.4 359.4L1343.2 359.3L1344.0 359.1L1344.9 359.0L1345.7 358.8L1346.5 358.6L1347.3 358.5L1348.1 358.3L1349.0 358.2L1349.8 358.0L1350.6 357.9L1351.4 357.7L1352.2 357.6L1353.1 357.4L1353.9 357.3L1354.7 357.1L1355.5 357.0L1356.3 356.8L1357.2 356.7L1358.0 356.5L1358.8 356.4L1359.6 356.3L1360.4 356.1L1361.3 356.0L1362.1 355.8L1362.9 355.7L1363.7 355.6L1364.5 355.4L1365.4 355.3L1366.2 355.2L1367.0 355.0L1367.8 354.9L1368.6 354.8L1369.5 354.6L1370.3 354.5L1371.1 354.4L1371.9 354.2L1372.7 354.1L1373.6 354.0L1374.4 353.9L1375.2 353.7L1376.0 353.6L1376.8 353.5L1377.7 353.4L1378.5 353.2L1379.3 353.1L1380.1 353.0L1380.9 352.9L1381.8 352.7L1382.6 352.6L1383.4 352.5L1384.2 352.4L1385.0 352.3L1385.9 352.2L1386.7 352.0L1387.5 351.9L1388.3 351.8L1389.1 351.7L1390.0 351.6L1390.8 351.5L1391.6 351.4L1392.4 351.2L1393.2 351.1L1394.1 351.0L1394.9 350.9L1395.7 350.8L1396.5 350.7L1397.3 350.6L1398.2 350.5L1399.0 350.4L1399.8 350.3L1400.6 350.2L1401.4 350.1L1402.3 350.0L1403.1 349.9L1403.9 349.8L1404.7 349.7L1405.5 349.6L1406.3 349.5L1407.2 349.4L1408.0 349.3L1408.8 349.2L1409.6 349.1L1410.4 349.0L1411.3 348.9L1412.1 348.8L1412.9 348.7L1413.7 348.6L1414.5 348.5L1415.4 348.4L1416.2 348.3L1417.0 348.2L1417.8 348.1L1418.6 348.0L1419.5 348.0L1420.3 347.9L1421.1 347.8L1421.9 347.7L1422.7 347.6L1423.6 347.5L1424.4 347.4L1425.2 347.3L1426.0 347.2L1426.8 347.2L1427.7 347.1L1428.5 347.0L1429.3 346.9L1430.1 346.8L1430.9 346.7L1431.8 346.7L1432.6 346.6L1433.4 346.5" fill="none" stroke="#2B79BB" stroke-width="4.6" stroke-linecap="round" stroke-linejoin="round"/>
<path d="M286.6 2187.5L287.4 2186.4L288.2 2185.3L289.1 2184.3L289.9 2183.2L290.7 2182.2L291.5 2181.2L292.3 2180.2L293.2 2179.3L294.0 2178.3L294.8 2177.4L295.6 2176.4L296.4 2175.5L297.3 2174.6L298.1 2173.7L298.9 2172.8L299.7 2171.9L300.5 2171.1L301.4 2170.2L302.2 2169.4L303.0 2168.6L303.8 2167.7L304.6 2166.9L305.5 2166.1L306.3 2165.3L307.1 2164.6L307.9 2163.8L308.7 2163.0L309.6 2162.3L310.4 2161.5L311.2 2160.8L312.0 2160.1L312.8 2159.3L313.7 2158.6L314.5 2157.9L315.3 2157.2L316.1 2156.5L316.9 2155.8L317.7 2155.2L318.6 2154.5L319.4 2153.9L320.2 2153.2L321.0 2152.6L321.8 2151.9L322.7 2151.3L323.5 2150.7L324.3 2150.1L325.1 2149.5L325.9 2148.9L326.8 2148.3L327.6 2147.7L328.4 2147.1L329.2 2146.5L330.0 2146.0L330.9 2145.4L331.7 2144.8L332.5 2144.3L333.3 2143.8L334.1 2143.2L335.0 2142.7L335.8 2142.2L336.6 2141.7L337.4 2141.2L338.2 2140.7L339.1 2140.2L339.9 2139.7L340.7 2139.2L341.5 2138.7L342.3 2138.3L343.2 2137.8L344.0 2137.4L344.8 2136.9L345.6 2136.5L346.4 2136.0L347.3 2135.6L348.1 2135.2L348.9 2134.8L349.7 2134.4L350.5 2134.0L351.4 2133.6L352.2 2133.2L353.0 2132.8L353.8 2132.4L354.6 2132.0L355.5 2131.7L356.3 2131.3L357.1 2131.0L357.9 2130.6L358.7 2130.3L359.6 2129.9L360.4 2129.6L361.2 2129.3L362.0 2129.0L362.8 2128.7L363.7 2128.4L364.5 2128.1L365.3 2127.8L366.1 2127.5L366.9 2127.3L367.8 2127.0L368.6 2126.7L369.4 2126.5L370.2 2126.2L371.0 2126.0L371.9 2125.8L372.7 2125.5L373.5 2125.3L374.3 2125.1L375.1 2124.9L376.0 2124.7L376.8 2124.5L377.6 2124.3L378.4 2124.1L379.2 2124.0L380.0 2123.8L380.9 2123.6L381.7 2123.5L382.5 2123.4L383.3 2123.2L384.1 2123.1L385.0 2123.0L385.8 2122.9L386.6 2122.8L387.4 2122.7L388.2 2122.6L389.1 2122.5L389.9 2122.4L390.7 2122.3L391.5 2122.3L392.3 2122.2L393.2 2122.2L394.0 2122.2L394.8 2122.1L395.6 2122.1L396.4 2122.1L397.3 2122.1L398.1 2122.1L398.9 2122.1L399.7 2122.1L400.5 2122.2L401.4 2122.2L402.2 2122.2L403.0 2122.3L403.8 2122.4L404.6 2122.4L405.5 2122.5L406.3 2122.6L407.1 2122.7L407.9 2122.8L408.7 2122.9L409.6 2123.0L410.4 2123.1L411.2 2123.2L412.0 2123.4L412.8 2123.5L413.7 2123.7L414.5 2123.8L415.3 2124.0L416.1 2124.2L416.9 2124.3L417.8 2124.5L418.6 2124.7L419.4 2124.9L420.2 2125.1L421.0 2125.3L421.9 2125.5L422.7 2125.8L423.5 2126.0L424.3 2126.2L425.1 2126.5L426.0 2126.7L426.8 2127.0L427.6 2127.2L428.4 2127.5L429.2 2127.8L430.1 2128.1L430.9 2128.4L431.7 2128.6L432.5 2128.9L433.3 2129.2L434.2 2129.6L435.0 2129.9L435.8 2130.2L436.6 2130.5L437.4 2130.8L438.2 2131.2L439.1 2131.5L439.9 2131.9L440.7 2132.2L441.5 2132.6L442.3 2132.9L443.2 2133.3L444.0 2133.7L444.8 2134.1L445.6 2134.5L446.4 2134.8L447.3 2135.2L448.1 2135.6L448.9 2136.0L449.7 2136.4L450.5 2136.8L451.4 2137.3L452.2 2137.7L453.0 2138.1L453.8 2138.5L454.6 2139.0L455.5 2139.4L456.3 2139.8L457.1 2140.3L457.9 2140.7L458.7 2141.2L459.6 2141.7L460.4 2142.1L461.2 2142.6L462.0 2143.0L462.8 2143.5L463.7 2144.0L464.5 2144.5L465.3 2144.9L466.1 2145.4L466.9 2145.9L467.8 2146.4L468.6 2146.9L469.4 2147.4L470.2 2147.9L471.0 2148.4L471.9 2148.9L472.7 2149.4L473.5 2149.9L474.3 2150.4L475.1 2151.0L476.0 2151.5L476.8 2152.0L477.6 2152.5L478.4 2153.0L479.2 2153.6L480.1 2154.1L480.9 2154.6L481.7 2155.2L482.5 2155.7L483.3 2156.2L484.2 2156.8L485.0 2157.3L485.8 2157.8L486.6 2158.4L487.4 2158.9L488.3 2159.5L489.1 2160.0L489.9 2160.6L490.7 2161.1L491.5 2161.7L492.4 2162.2L493.2 2162.8L494.0 2163.3L494.8 2163.9L495.6 2164.4L496.5 2165.0L497.3 2165.5L498.1 2166.1L498.9 2166.6L499.7 2167.2L500.5 2167.7L501.4 2168.3L502.2 2168.8L503.0 2169.3L503.8 2169.9L504.6 2170.4L505.5 2171.0L506.3 2171.5L507.1 2172.1L507.9 2172.6L508.7 2173.2L509.6 2173.7L510.4 2174.2L511.2 2174.8L512.0 2175.3L512.8 2175.8L513.7 2176.4L514.5 2176.9L515.3 2177.4L516.1 2177.9L516.9 2178.5L517.8 2179.0L518.6 2179.5L519.4 2180.0L520.2 2180.5L521.0 2181.0L521.9 2181.5L522.7 2182.0L523.5 2182.5L524.3 2183.0L525.1 2183.5L526.0 2184.0L526.8 2184.5L527.6 2185.0L528.4 2185.5L529.2 2185.9L530.1 2186.4L530.9 2186.9L531.7 2187.3L532.5 2187.8L533.3 2188.2L534.2 2188.7L535.0 2189.1L535.8 2189.6L536.6 2190.0L537.4 2190.4L538.3 2190.9L539.1 2191.3L539.9 2191.7L540.7 2192.1L541.5 2192.5L542.4 2192.9L543.2 2193.3L544.0 2193.7L544.8 2194.1L545.6 2194.5L546.5 2194.9L547.3 2195.2L548.1 2195.6L548.9 2196.0L549.7 2196.3L550.6 2196.7L551.4 2197.0L552.2 2197.4L553.0 2197.7L553.8 2198.0L554.7 2198.4L555.5 2198.7L556.3 2199.0L557.1 2199.3L557.9 2199.6L558.7 2199.9L559.6 2200.2L560.4 2200.5L561.2 2200.8L562.0 2201.0L562.8 2201.3L563.7 2201.6L564.5 2201.8L565.3 2202.1L566.1 2202.3L566.9 2202.5L567.8 2202.8L568.6 2203.0L569.4 2203.2L570.2 2203.4L571.0 2203.7L571.9 2203.9L572.7 2204.1L573.5 2204.3L574.3 2204.5L575.1 2204.7L576.0 2204.8L576.8 2205.0L577.6 2205.2L578.4 2205.4L579.2 2205.5L580.1 2205.7L580.9 2205.9L581.7 2206.0L582.5 2206.2L583.3 2206.3L584.2 2206.5L585.0 2206.6L585.8 2206.7L586.6 2206.9L587.4 2207.0L588.3 2207.1L589.1 2207.3L589.9 2207.4L590.7 2207.5L591.5 2207.6L592.4 2207.7L593.2 2207.8L594.0 2208.0L594.8 2208.1L595.6 2208.2L596.5 2208.3L597.3 2208.4L598.1 2208.5L598.9 2208.5L599.7 2208.6L600.6 2208.7L601.4 2208.8L602.2 2208.9L603.0 2209.0L603.8 2209.0L604.7 2209.1L605.5 2209.2L606.3 2209.3L607.1 2209.3L607.9 2209.4L608.8 2209.5L609.6 2209.5L610.4 2209.6L611.2 2209.7L612.0 2209.7L612.9 2209.8L613.7 2209.8L614.5 2209.9L615.3 2209.9L616.1 2210.0L617.0 2210.0L617.8 2210.1L618.6 2210.1L619.4 2210.2L620.2 2210.2L621.0 2210.3L621.9 2210.3L622.7 2210.4L623.5 2210.4L624.3 2210.4L625.1 2210.5L626.0 2210.5L626.8 2210.5L627.6 2210.6L628.4 2210.6L629.2 2210.7L630.1 2210.7L630.9 2210.7L631.7 2210.8L632.5 2210.8L633.3 2210.8L634.2 2210.9L635.0 2210.9L635.8 2210.9L636.6 2210.9L637.4 2211.0L638.3 2211.0L639.1 2211.0L639.9 2211.1L640.7 2211.1L641.5 2211.1L642.4 2211.2L643.2 2211.2L644.0 2211.2L644.8 2211.2L645.6 2211.3L646.5 2211.3L647.3 2211.3L648.1 2211.4L648.9 2211.4L649.7 2211.4L650.6 2211.5L651.4 2211.5L652.2 2211.5L653.0 2211.6L653.8 2211.6L654.7 2211.6L655.5 2211.7L656.3 2211.7L657.1 2211.8L657.9 2211.8L658.8 2211.8L659.6 2211.9L660.4 2211.9L661.2 2212.0L662.0 2212.0L662.9 2212.0L663.7 2212.1L664.5 2212.1L665.3 2212.2L666.1 2212.2L667.0 2212.3L667.8 2212.3L668.6 2212.4L669.4 2212.4L670.2 2212.5L671.1 2212.5L671.9 2212.6L672.7 2212.6L673.5 2212.7L674.3 2212.7L675.2 2212.8L676.0 2212.8L676.8 2212.9L677.6 2212.9L678.4 2213.0L679.2 2213.0L680.1 2213.1L680.9 2213.2L681.7 2213.2L682.5 2213.3L683.3 2213.3L684.2 2213.4L685.0 2213.4L685.8 2213.5L686.6 2213.6L687.4 2213.6L688.3 2213.7L689.1 2213.8L689.9 2213.8L690.7 2213.9L691.5 2213.9L692.4 2214.0L693.2 2214.1L694.0 2214.1L694.8 2214.2L695.6 2214.3L696.5 2214.3L697.3 2214.4L698.1 2214.5L698.9 2214.5L699.7 2214.6L700.6 2214.7L701.4 2214.8L702.2 2214.8L703.0 2214.9L703.8 2215.0L704.7 2215.0L705.5 2215.1L706.3 2215.2L707.1 2215.3L707.9 2215.3L708.8 2215.4L709.6 2215.5L710.4 2215.6L711.2 2215.6L712.0 2215.7L712.9 2215.8L713.7 2215.9L714.5 2215.9L715.3 2216.0L716.1 2216.1L717.0 2216.2L717.8 2216.2L718.6 2216.3L719.4 2216.4L720.2 2216.5L721.1 2216.6L721.9 2216.6L722.7 2216.7L723.5 2216.8L724.3 2216.9L725.2 2217.0L726.0 2217.0L726.8 2217.1L727.6 2217.2L728.4 2217.3L729.3 2217.4L730.1 2217.5L730.9 2217.5L731.7 2217.6L732.5 2217.7L733.4 2217.8L734.2 2217.9L735.0 2218.0L735.8 2218.0L736.6 2218.1L737.5 2218.2L738.3 2218.3L739.1 2218.4L739.9 2218.5L740.7 2218.5L741.5 2218.6L742.4 2218.7L743.2 2218.8L744.0 2218.9L744.8 2219.0L745.6 2219.0L746.5 2219.1L747.3 2219.2L748.1 2219.3L748.9 2219.4L749.7 2219.5L750.6 2219.6L751.4 2219.6L752.2 2219.7L753.0 2219.8L753.8 2219.9L754.7 2220.0L755.5 2220.1L756.3 2220.2L757.1 2220.2L757.9 2220.3L758.8 2220.4L759.6 2220.5L760.4 2220.6L761.2 2220.7L762.0 2220.8L762.9 2220.8L763.7 2220.9L764.5 2221.0L765.3 2221.1L766.1 2221.2L767.0 2221.3L767.8 2221.4L768.6 2221.5L769.4 2221.5L770.2 2221.6L771.1 2221.7L771.9 2221.8L772.7 2221.9L773.5 2222.0L774.3 2222.1L775.2 2222.2L776.0 2222.2L776.8 2222.3L777.6 2222.4L778.4 2222.5L779.3 2222.6L780.1 2222.7L780.9 2222.8L781.7 2222.9L782.5 2223.0L783.4 2223.0L784.2 2223.1L785.0 2223.2L785.8 2223.3L786.6 2223.4L787.5 2223.5L788.3 2223.6L789.1 2223.7L789.9 2223.8L790.7 2223.8L791.6 2223.9L792.4 2224.0L793.2 2224.1L794.0 2224.2L794.8 2224.3L795.7 2224.4L796.5 2224.5L797.3 2224.6L798.1 2224.7L798.9 2224.7L799.7 2224.8L800.6 2224.9L801.4 2225.0L802.2 2225.1L803.0 2225.2L803.8 2225.3L804.7 2225.3L805.5 2225.4L806.3 2225.4L807.1 2225.5L807.9 2225.5L808.8 2225.5L809.6 2225.5L810.4 2225.4L811.2 2225.4L812.0 2225.3L812.9 2225.2L813.7 2225.0L814.5 2224.8L815.3 2224.6L816.1 2224.3L817.0 2224.0L817.8 2223.7L818.6 2223.3L819.4 2222.9L820.2 2222.4L821.1 2222.0L821.9 2221.4L822.7 2220.8L823.5 2220.2L824.3 2219.6L825.2 2218.9L826.0 2218.2L826.8 2217.4L827.6 2216.6L828.4 2215.7L829.3 2214.8L830.1 2213.8L830.9 2212.8L831.7 2211.8L832.5 2210.7L833.4 2209.6L834.2 2208.4L835.0 2207.1L835.8 2205.9L836.6 2204.6L837.5 2203.2L838.3 2201.9L839.1 2200.5L839.9 2199.1L840.7 2197.7L841.6 2196.3L842.4 2195.0L843.2 2193.6L844.0 2192.3L844.8 2191.0L845.7 2189.7L846.5 2188.4L847.3 2187.1L848.1 2185.9L848.9 2184.6L849.8 2183.4L850.6 2182.1L851.4 2180.9L852.2 2179.7L853.0 2178.4L853.9 2177.2L854.7 2176.0L855.5 2174.7L856.3 2173.5L857.1 2172.2L858.0 2170.9L858.8 2169.7L859.6 2168.4L860.4 2167.1L861.2 2165.7L862.0 2164.4L862.9 2163.0L863.7 2161.6L864.5 2160.2L865.3 2158.7L866.1 2157.2L867.0 2155.7L867.8 2154.1L868.6 2152.4L869.4 2150.7L870.2 2148.9L871.1 2147.0L871.9 2145.0L872.7 2142.9L873.5 2140.7L874.3 2138.3L875.2 2135.8L876.0 2133.2L876.8 2130.5L877.6 2127.6L878.4 2124.6L879.3 2121.5L880.1 2118.4L880.9 2115.1L881.7 2111.8L882.5 2108.6L883.4 2105.4L884.2 2102.3L885.0 2099.2L885.8 2096.3L886.6 2093.4L887.5 2090.6L888.3 2087.8L889.1 2085.1L889.9 2082.4L890.7 2079.8L891.6 2077.2L892.4 2074.6L893.2 2072.1L894.0 2069.5L894.8 2067.0L895.7 2064.5L896.5 2062.1L897.3 2059.6L898.1 2057.1L898.9 2054.7L899.8 2052.2L900.6 2049.7L901.4 2047.3L902.2 2044.8L903.0 2042.3L903.9 2039.8L904.7 2037.3L905.5 2034.8L906.3 2032.3L907.1 2029.7L908.0 2027.1L908.8 2024.4L909.6 2021.8L910.4 2019.1L911.2 2016.3L912.1 2013.5L912.9 2010.6L913.7 2007.6L914.5 2004.6L915.3 2001.5L916.2 1998.3L917.0 1995.1L917.8 1991.7L918.6 1988.3L919.4 1984.9L920.3 1981.4L921.1 1977.8L921.9 1974.2L922.7 1970.5L923.5 1966.7L924.3 1963.0L925.2 1959.2L926.0 1955.4L926.8 1951.6L927.6 1947.8L928.4 1943.9L929.3 1940.1L930.1 1936.3L930.9 1932.5L931.7 1928.6L932.5 1924.8L933.4 1921.0L934.2 1917.2L935.0 1913.3L935.8 1909.5L936.6 1905.7L937.5 1901.9L938.3 1898.1L939.1 1894.3L939.9 1890.5L940.7 1886.7L941.6 1882.9L942.4 1879.2L943.2 1875.4L944.0 1871.7L944.8 1868.0L945.7 1864.3L946.5 1860.6L947.3 1856.9L948.1 1853.2L948.9 1849.6L949.8 1845.9L950.6 1842.3L951.4 1838.7L952.2 1835.2L953.0 1831.6L953.9 1828.1L954.7 1824.5L955.5 1821.0L956.3 1817.6L957.1 1814.1L958.0 1810.7L958.8 1807.2L959.6 1803.8L960.4 1800.5L961.2 1797.1L962.1 1793.8L962.9 1790.5L963.7 1787.2L964.5 1783.9L965.3 1780.7L966.2 1777.5L967.0 1774.3L967.8 1771.1L968.6 1768.0L969.4 1764.8L970.3 1761.7L971.1 1758.6L971.9 1755.6L972.7 1752.5L973.5 1749.5L974.4 1746.5L975.2 1743.6L976.0 1740.6L976.8 1737.7L977.6 1734.8L978.5 1731.9L979.3 1729.1L980.1 1726.2L980.9 1723.4L981.7 1720.6L982.5 1717.8L983.4 1715.1L984.2 1712.4L985.0 1709.6L985.8 1707.0L986.6 1704.3L987.5 1701.6L988.3 1699.0L989.1 1696.4L989.9 1693.8L990.7 1691.2L991.6 1688.7L992.4 1686.1L993.2 1683.6L994.0 1681.1L994.8 1678.7L995.7 1676.2L996.5 1673.8L997.3 1671.3L998.1 1668.9L998.9 1666.6L999.8 1664.2L1000.6 1661.8L1001.4 1659.5L1002.2 1657.2L1003.0 1654.9L1003.9 1652.6L1004.7 1650.3L1005.5 1648.1L1006.3 1645.8L1007.1 1643.6L1008.0 1641.4L1008.8 1639.2L1009.6 1637.1L1010.4 1634.9L1011.2 1632.8L1012.1 1630.6L1012.9 1628.5L1013.7 1626.4L1014.5 1624.3L1015.3 1622.3L1016.2 1620.2L1017.0 1618.2L1017.8 1616.1L1018.6 1614.1L1019.4 1612.1L1020.3 1610.1L1021.1 1608.2L1021.9 1606.2L1022.7 1604.3L1023.5 1602.3L1024.4 1600.4L1025.2 1598.5L1026.0 1596.6L1026.8 1594.8L1027.6 1592.9L1028.5 1591.1L1029.3 1589.2L1030.1 1587.4L1030.9 1585.6L1031.7 1583.8L1032.6 1582.1L1033.4 1580.3L1034.2 1578.6L1035.0 1576.8L1035.8 1575.1L1036.7 1573.4L1037.5 1571.7L1038.3 1570.0L1039.1 1568.4L1039.9 1566.7L1040.8 1565.1L1041.6 1563.4L1042.4 1561.8L1043.2 1560.2L1044.0 1558.6L1044.8 1557.1L1045.7 1555.5L1046.5 1554.0L1047.3 1552.4L1048.1 1550.9L1048.9 1549.4L1049.8 1547.9L1050.6 1546.4L1051.4 1544.9L1052.2 1543.4L1053.0 1542.0L1053.9 1540.6L1054.7 1539.1L1055.5 1537.7L1056.3 1536.3L1057.1 1534.9L1058.0 1533.5L1058.8 1532.1L1059.6 1530.8L1060.4 1529.4L1061.2 1528.1L1062.1 1526.7L1062.9 1525.4L1063.7 1524.1L1064.5 1522.8L1065.3 1521.5L1066.2 1520.2L1067.0 1519.0L1067.8 1517.7L1068.6 1516.4L1069.4 1515.2L1070.3 1514.0L1071.1 1512.7L1071.9 1511.5L1072.7 1510.3L1073.5 1509.1L1074.4 1507.9L1075.2 1506.8L1076.0 1505.6L1076.8 1504.4L1077.6 1503.3L1078.5 1502.1L1079.3 1501.0L1080.1 1499.9L1080.9 1498.8L1081.7 1497.7L1082.6 1496.6L1083.4 1495.5L1084.2 1494.4L1085.0 1493.3L1085.8 1492.3L1086.7 1491.2L1087.5 1490.1L1088.3 1489.1L1089.1 1488.1L1089.9 1487.0L1090.8 1486.0L1091.6 1485.0L1092.4 1484.0L1093.2 1483.0L1094.0 1482.0L1094.9 1481.1L1095.7 1480.1L1096.5 1479.1L1097.3 1478.2L1098.1 1477.2L1099.0 1476.3L1099.8 1475.4L1100.6 1474.4L1101.4 1473.5L1102.2 1472.6L1103.0 1471.7L1103.9 1470.8L1104.7 1469.9L1105.5 1469.1L1106.3 1468.2L1107.1 1467.3L1108.0 1466.5L1108.8 1465.6L1109.6 1464.8L1110.4 1464.0L1111.2 1463.1L1112.1 1462.3L1112.9 1461.5L1113.7 1460.7L1114.5 1459.9L1115.3 1459.1L1116.2 1458.3L1117.0 1457.5L1117.8 1456.8L1118.6 1456.0L1119.4 1455.3L1120.3 1454.5L1121.1 1453.8L1121.9 1453.0L1122.7 1452.3L1123.5 1451.6L1124.4 1450.9L1125.2 1450.2L1126.0 1449.5L1126.8 1448.8L1127.6 1448.1L1128.5 1447.4L1129.3 1446.7L1130.1 1446.0L1130.9 1445.4L1131.7 1444.7L1132.6 1444.0L1133.4 1443.4L1134.2 1442.7L1135.0 1442.1L1135.8 1441.5L1136.7 1440.8L1137.5 1440.2L1138.3 1439.6L1139.1 1439.0L1139.9 1438.4L1140.8 1437.8L1141.6 1437.2L1142.4 1436.6L1143.2 1436.0L1144.0 1435.4L1144.9 1434.8L1145.7 1434.2L1146.5 1433.7L1147.3 1433.1L1148.1 1432.5L1149.0 1432.0L1149.8 1431.4L1150.6 1430.9L1151.4 1430.3L1152.2 1429.8L1153.1 1429.3L1153.9 1428.7L1154.7 1428.2L1155.5 1427.7L1156.3 1427.1L1157.2 1426.6L1158.0 1426.1L1158.8 1425.6L1159.6 1425.1L1160.4 1424.6L1161.3 1424.1L1162.1 1423.6L1162.9 1423.1L1163.7 1422.6L1164.5 1422.1L1165.3 1421.7L1166.2 1421.2L1167.0 1420.7L1167.8 1420.2L1168.6 1419.8L1169.4 1419.3L1170.3 1418.9L1171.1 1418.4L1171.9 1418.0L1172.7 1417.5L1173.5 1417.1L1174.4 1416.6L1175.2 1416.2L1176.0 1415.7L1176.8 1415.3L1177.6 1414.9L1178.5 1414.4L1179.3 1414.0L1180.1 1413.6L1180.9 1413.2L1181.7 1412.8L1182.6 1412.4L1183.4 1411.9L1184.2 1411.5L1185.0 1411.1L1185.8 1410.7L1186.7 1410.3L1187.5 1409.9L1188.3 1409.5L1189.1 1409.2L1189.9 1408.8L1190.8 1408.4L1191.6 1408.0L1192.4 1407.6L1193.2 1407.2L1194.0 1406.9L1194.9 1406.5L1195.7 1406.1L1196.5 1405.8L1197.3 1405.4L1198.1 1405.0L1199.0 1404.7L1199.8 1404.3L1200.6 1404.0L1201.4 1403.6L1202.2 1403.3L1203.1 1402.9L1203.9 1402.6L1204.7 1402.2L1205.5 1401.9L1206.3 1401.5L1207.2 1401.2L1208.0 1400.9L1208.8 1400.5L1209.6 1400.2L1210.4 1399.9L1211.3 1399.6L1212.1 1399.2L1212.9 1398.9L1213.7 1398.6L1214.5 1398.3L1215.4 1398.0L1216.2 1397.7L1217.0 1397.3L1217.8 1397.0L1218.6 1396.7L1219.5 1396.4L1220.3 1396.1L1221.1 1395.8L1221.9 1395.5L1222.7 1395.2L1223.5 1394.9L1224.4 1394.6L1225.2 1394.3L1226.0 1394.1L1226.8 1393.8L1227.6 1393.5L1228.5 1393.2L1229.3 1392.9L1230.1 1392.6L1230.9 1392.4L1231.7 1392.1L1232.6 1391.8L1233.4 1391.5L1234.2 1391.3L1235.0 1391.0L1235.8 1390.7L1236.7 1390.5L1237.5 1390.2L1238.3 1389.9L1239.1 1389.7L1239.9 1389.4L1240.8 1389.2L1241.6 1388.9L1242.4 1388.7L1243.2 1388.4L1244.0 1388.2L1244.9 1387.9L1245.7 1387.7L1246.5 1387.4L1247.3 1387.2L1248.1 1386.9L1249.0 1386.7L1249.8 1386.4L1250.6 1386.2L1251.4 1386.0L1252.2 1385.7L1253.1 1385.5L1253.9 1385.3L1254.7 1385.0L1255.5 1384.8L1256.3 1384.6L1257.2 1384.4L1258.0 1384.1L1258.8 1383.9L1259.6 1383.7L1260.4 1383.5L1261.3 1383.3L1262.1 1383.0L1262.9 1382.8L1263.7 1382.6L1264.5 1382.4L1265.4 1382.2L1266.2 1382.0L1267.0 1381.8L1267.8 1381.5L1268.6 1381.3L1269.5 1381.1L1270.3 1380.9L1271.1 1380.7L1271.9 1380.5L1272.7 1380.3L1273.6 1380.1L1274.4 1379.9L1275.2 1379.7L1276.0 1379.5L1276.8 1379.3L1277.7 1379.1L1278.5 1379.0L1279.3 1378.8L1280.1 1378.6L1280.9 1378.4L1281.8 1378.2L1282.6 1378.0L1283.4 1377.8L1284.2 1377.6L1285.0 1377.5L1285.8 1377.3L1286.7 1377.1L1287.5 1376.9L1288.3 1376.7L1289.1 1376.6L1289.9 1376.4L1290.8 1376.2L1291.6 1376.0L1292.4 1375.9L1293.2 1375.7L1294.0 1375.5L1294.9 1375.4L1295.7 1375.2L1296.5 1375.0L1297.3 1374.9L1298.1 1374.7L1299.0 1374.5L1299.8 1374.4L1300.6 1374.2L1301.4 1374.0L1302.2 1373.9L1303.1 1373.7L1303.9 1373.6L1304.7 1373.4L1305.5 1373.2L1306.3 1373.1L1307.2 1372.9L1308.0 1372.8L1308.8 1372.6L1309.6 1372.5L1310.4 1372.3L1311.3 1372.2L1312.1 1372.0L1312.9 1371.9L1313.7 1371.7L1314.5 1371.6L1315.4 1371.4L1316.2 1371.3L1317.0 1371.1L1317.8 1371.0L1318.6 1370.9L1319.5 1370.7L1320.3 1370.6L1321.1 1370.4L1321.9 1370.3L1322.7 1370.2L1323.6 1370.0L1324.4 1369.9L1325.2 1369.7L1326.0 1369.6L1326.8 1369.5L1327.7 1369.3L1328.5 1369.2L1329.3 1369.1L1330.1 1368.9L1330.9 1368.8L1331.8 1368.7L1332.6 1368.6L1333.4 1368.4L1334.2 1368.3L1335.0 1368.2L1335.9 1368.1L1336.7 1367.9L1337.5 1367.8L1338.3 1367.7L1339.1 1367.6L1340.0 1367.4L1340.8 1367.3L1341.6 1367.2L1342.4 1367.1L1343.2 1367.0L1344.0 1366.8L1344.9 1366.7L1345.7 1366.6L1346.5 1366.5L1347.3 1366.4L1348.1 1366.2L1349.0 1366.1L1349.8 1366.0L1350.6 1365.9L1351.4 1365.8L1352.2 1365.7L1353.1 1365.6L1353.9 1365.5L1354.7 1365.3L1355.5 1365.2L1356.3 1365.1L1357.2 1365.0L1358.0 1364.9L1358.8 1364.8L1359.6 1364.7L1360.4 1364.6L1361.3 1364.5L1362.1 1364.4L1362.9 1364.3L1363.7 1364.2L1364.5 1364.1L1365.4 1363.9L1366.2 1363.8L1367.0 1363.7L1367.8 1363.6L1368.6 1363.5L1369.5 1363.4L1370.3 1363.3L1371.1 1363.2L1371.9 1363.1L1372.7 1363.0L1373.6 1362.9L1374.4 1362.8L1375.2 1362.7L1376.0 1362.6L1376.8 1362.5L1377.7 1362.5L1378.5 1362.4L1379.3 1362.3L1380.1 1362.2L1380.9 1362.1L1381.8 1362.0L1382.6 1361.9L1383.4 1361.8L1384.2 1361.7L1385.0 1361.6L1385.9 1361.5L1386.7 1361.4L1387.5 1361.3L1388.3 1361.2L1389.1 1361.1L1390.0 1361.0L1390.8 1361.0L1391.6 1360.9L1392.4 1360.8L1393.2 1360.7L1394.1 1360.6L1394.9 1360.5L1395.7 1360.4L1396.5 1360.3L1397.3 1360.2L1398.2 1360.2L1399.0 1360.1L1399.8 1360.0L1400.6 1359.9L1401.4 1359.8L1402.3 1359.7L1403.1 1359.6L1403.9 1359.6L1404.7 1359.5L1405.5 1359.4L1406.3 1359.3L1407.2 1359.2L1408.0 1359.1L1408.8 1359.0L1409.6 1359.0L1410.4 1358.9L1411.3 1358.8L1412.1 1358.7L1412.9 1358.6L1413.7 1358.5L1414.5 1358.5L1415.4 1358.4L1416.2 1358.3L1417.0 1358.2L1417.8 1358.1L1418.6 1358.1L1419.5 1358.0L1420.3 1357.9L1421.1 1357.8L1421.9 1357.7L1422.7 1357.6L1423.6 1357.6L1424.4 1357.5L1425.2 1357.4L1426.0 1357.3L1426.8 1357.2L1427.7 1357.2L1428.5 1357.1L1429.3 1357.0L1430.1 1356.9L1430.9 1356.8L1431.8 1356.8L1432.6 1356.7L1433.4 1356.6L1433.4 1846.8L1432.6 1846.9L1431.8 1846.9L1430.9 1847.0L1430.1 1847.0L1429.3 1847.1L1428.5 1847.2L1427.7 1847.2L1426.8 1847.3L1426.0 1847.3L1425.2 1847.4L1424.4 1847.5L1423.6 1847.5L1422.7 1847.6L1421.9 1847.6L1421.1 1847.7L1420.3 1847.8L1419.5 1847.8L1418.6 1847.9L1417.8 1847.9L1417.0 1848.0L1416.2 1848.0L1415.4 1848.1L1414.5 1848.1L1413.7 1848.2L1412.9 1848.3L1412.1 1848.3L1411.3 1848.4L1410.4 1848.4L1409.6 1848.5L1408.8 1848.5L1408.0 1848.6L1407.2 1848.6L1406.3 1848.7L1405.5 1848.7L1404.7 1848.8L1403.9 1848.9L1403.1 1848.9L1402.3 1849.0L1401.4 1849.0L1400.6 1849.1L1399.8 1849.1L1399.0 1849.2L1398.2 1849.2L1397.3 1849.3L1396.5 1849.3L1395.7 1849.4L1394.9 1849.4L1394.1 1849.5L1393.2 1849.5L1392.4 1849.6L1391.6 1849.6L1390.8 1849.7L1390.0 1849.7L1389.1 1849.8L1388.3 1849.8L1387.5 1849.9L1386.7 1849.9L1385.9 1850.0L1385.0 1850.0L1384.2 1850.1L1383.4 1850.1L1382.6 1850.2L1381.8 1850.2L1380.9 1850.3L1380.1 1850.3L1379.3 1850.4L1378.5 1850.4L1377.7 1850.5L1376.8 1850.5L1376.0 1850.6L1375.2 1850.6L1374.4 1850.7L1373.6 1850.7L1372.7 1850.8L1371.9 1850.9L1371.1 1850.9L1370.3 1851.0L1369.5 1851.0L1368.6 1851.1L1367.8 1851.1L1367.0 1851.2L1366.2 1851.2L1365.4 1851.3L1364.5 1851.3L1363.7 1851.4L1362.9 1851.4L1362.1 1851.5L1361.3 1851.5L1360.4 1851.6L1359.6 1851.6L1358.8 1851.7L1358.0 1851.7L1357.2 1851.8L1356.3 1851.8L1355.5 1851.9L1354.7 1852.0L1353.9 1852.0L1353.1 1852.1L1352.2 1852.1L1351.4 1852.2L1350.6 1852.2L1349.8 1852.3L1349.0 1852.3L1348.1 1852.4L1347.3 1852.5L1346.5 1852.5L1345.7 1852.6L1344.9 1852.6L1344.0 1852.7L1343.2 1852.7L1342.4 1852.8L1341.6 1852.9L1340.8 1852.9L1340.0 1853.0L1339.1 1853.0L1338.3 1853.1L1337.5 1853.2L1336.7 1853.2L1335.9 1853.3L1335.0 1853.3L1334.2 1853.4L1333.4 1853.5L1332.6 1853.5L1331.8 1853.6L1330.9 1853.7L1330.1 1853.7L1329.3 1853.8L1328.5 1853.8L1327.7 1853.9L1326.8 1854.0L1326.0 1854.0L1325.2 1854.1L1324.4 1854.2L1323.6 1854.2L1322.7 1854.3L1321.9 1854.4L1321.1 1854.4L1320.3 1854.5L1319.5 1854.6L1318.6 1854.7L1317.8 1854.7L1317.0 1854.8L1316.2 1854.9L1315.4 1854.9L1314.5 1855.0L1313.7 1855.1L1312.9 1855.2L1312.1 1855.2L1311.3 1855.3L1310.4 1855.4L1309.6 1855.5L1308.8 1855.5L1308.0 1855.6L1307.2 1855.7L1306.3 1855.8L1305.5 1855.9L1304.7 1855.9L1303.9 1856.0L1303.1 1856.1L1302.2 1856.2L1301.4 1856.3L1300.6 1856.3L1299.8 1856.4L1299.0 1856.5L1298.1 1856.6L1297.3 1856.7L1296.5 1856.8L1295.7 1856.8L1294.9 1856.9L1294.0 1857.0L1293.2 1857.1L1292.4 1857.2L1291.6 1857.3L1290.8 1857.4L1289.9 1857.5L1289.1 1857.6L1288.3 1857.7L1287.5 1857.8L1286.7 1857.8L1285.8 1857.9L1285.0 1858.0L1284.2 1858.1L1283.4 1858.2L1282.6 1858.3L1281.8 1858.4L1280.9 1858.5L1280.1 1858.6L1279.3 1858.7L1278.5 1858.8L1277.7 1858.9L1276.8 1859.0L1276.0 1859.2L1275.2 1859.3L1274.4 1859.4L1273.6 1859.5L1272.7 1859.6L1271.9 1859.7L1271.1 1859.8L1270.3 1859.9L1269.5 1860.0L1268.6 1860.1L1267.8 1860.3L1267.0 1860.4L1266.2 1860.5L1265.4 1860.6L1264.5 1860.7L1263.7 1860.8L1262.9 1861.0L1262.1 1861.1L1261.3 1861.2L1260.4 1861.3L1259.6 1861.4L1258.8 1861.6L1258.0 1861.7L1257.2 1861.8L1256.3 1861.9L1255.5 1862.1L1254.7 1862.2L1253.9 1862.3L1253.1 1862.5L1252.2 1862.6L1251.4 1862.7L1250.6 1862.9L1249.8 1863.0L1249.0 1863.1L1248.1 1863.3L1247.3 1863.4L1246.5 1863.6L1245.7 1863.7L1244.9 1863.9L1244.0 1864.0L1243.2 1864.1L1242.4 1864.3L1241.6 1864.4L1240.8 1864.6L1239.9 1864.7L1239.1 1864.9L1238.3 1865.0L1237.5 1865.2L1236.7 1865.3L1235.8 1865.5L1235.0 1865.7L1234.2 1865.8L1233.4 1866.0L1232.6 1866.1L1231.7 1866.3L1230.9 1866.5L1230.1 1866.6L1229.3 1866.8L1228.5 1867.0L1227.6 1867.1L1226.8 1867.3L1226.0 1867.5L1225.2 1867.6L1224.4 1867.8L1223.5 1868.0L1222.7 1868.2L1221.9 1868.3L1221.1 1868.5L1220.3 1868.7L1219.5 1868.9L1218.6 1869.1L1217.8 1869.2L1217.0 1869.4L1216.2 1869.6L1215.4 1869.8L1214.5 1870.0L1213.7 1870.2L1212.9 1870.4L1212.1 1870.6L1211.3 1870.8L1210.4 1871.0L1209.6 1871.2L1208.8 1871.4L1208.0 1871.6L1207.2 1871.8L1206.3 1872.0L1205.5 1872.2L1204.7 1872.4L1203.9 1872.6L1203.1 1872.8L1202.2 1873.0L1201.4 1873.2L1200.6 1873.5L1199.8 1873.7L1199.0 1873.9L1198.1 1874.1L1197.3 1874.3L1196.5 1874.6L1195.7 1874.8L1194.9 1875.0L1194.0 1875.2L1193.2 1875.5L1192.4 1875.7L1191.6 1875.9L1190.8 1876.2L1189.9 1876.4L1189.1 1876.6L1188.3 1876.9L1187.5 1877.1L1186.7 1877.4L1185.8 1877.6L1185.0 1877.9L1184.2 1878.1L1183.4 1878.4L1182.6 1878.6L1181.7 1878.9L1180.9 1879.1L1180.1 1879.4L1179.3 1879.6L1178.5 1879.9L1177.6 1880.2L1176.8 1880.4L1176.0 1880.7L1175.2 1881.0L1174.4 1881.2L1173.5 1881.5L1172.7 1881.8L1171.9 1882.1L1171.1 1882.3L1170.3 1882.6L1169.4 1882.9L1168.6 1883.2L1167.8 1883.5L1167.0 1883.7L1166.2 1884.0L1165.3 1884.3L1164.5 1884.6L1163.7 1884.9L1162.9 1885.2L1162.1 1885.5L1161.3 1885.8L1160.4 1886.1L1159.6 1886.4L1158.8 1886.7L1158.0 1887.0L1157.2 1887.3L1156.3 1887.7L1155.5 1888.0L1154.7 1888.3L1153.9 1888.6L1153.1 1888.9L1152.2 1889.2L1151.4 1889.6L1150.6 1889.9L1149.8 1890.2L1149.0 1890.6L1148.1 1890.9L1147.3 1891.2L1146.5 1891.6L1145.7 1891.9L1144.9 1892.2L1144.0 1892.6L1143.2 1892.9L1142.4 1893.3L1141.6 1893.6L1140.8 1894.0L1139.9 1894.3L1139.1 1894.7L1138.3 1895.0L1137.5 1895.4L1136.7 1895.8L1135.8 1896.1L1135.0 1896.5L1134.2 1896.9L1133.4 1897.2L1132.6 1897.6L1131.7 1898.0L1130.9 1898.4L1130.1 1898.7L1129.3 1899.1L1128.5 1899.5L1127.6 1899.9L1126.8 1900.3L1126.0 1900.7L1125.2 1901.1L1124.4 1901.5L1123.5 1901.9L1122.7 1902.3L1121.9 1902.7L1121.1 1903.1L1120.3 1903.5L1119.4 1903.9L1118.6 1904.3L1117.8 1904.7L1117.0 1905.2L1116.2 1905.6L1115.3 1906.0L1114.5 1906.4L1113.7 1906.9L1112.9 1907.3L1112.1 1907.7L1111.2 1908.2L1110.4 1908.6L1109.6 1909.0L1108.8 1909.5L1108.0 1909.9L1107.1 1910.4L1106.3 1910.8L1105.5 1911.3L1104.7 1911.7L1103.9 1912.2L1103.0 1912.7L1102.2 1913.1L1101.4 1913.6L1100.6 1914.1L1099.8 1914.6L1099.0 1915.0L1098.1 1915.5L1097.3 1916.0L1096.5 1916.5L1095.7 1917.0L1094.9 1917.5L1094.0 1918.0L1093.2 1918.5L1092.4 1919.0L1091.6 1919.5L1090.8 1920.0L1089.9 1920.5L1089.1 1921.0L1088.3 1921.5L1087.5 1922.1L1086.7 1922.6L1085.8 1923.1L1085.0 1923.7L1084.2 1924.2L1083.4 1924.7L1082.6 1925.3L1081.7 1925.8L1080.9 1926.4L1080.1 1926.9L1079.3 1927.5L1078.5 1928.0L1077.6 1928.6L1076.8 1929.2L1076.0 1929.8L1075.2 1930.3L1074.4 1930.9L1073.5 1931.5L1072.7 1932.1L1071.9 1932.7L1071.1 1933.3L1070.3 1933.9L1069.4 1934.5L1068.6 1935.1L1067.8 1935.7L1067.0 1936.3L1066.2 1936.9L1065.3 1937.6L1064.5 1938.2L1063.7 1938.8L1062.9 1939.5L1062.1 1940.1L1061.2 1940.8L1060.4 1941.4L1059.6 1942.1L1058.8 1942.7L1058.0 1943.4L1057.1 1944.1L1056.3 1944.7L1055.5 1945.4L1054.7 1946.1L1053.9 1946.8L1053.0 1947.5L1052.2 1948.2L1051.4 1948.9L1050.6 1949.6L1049.8 1950.3L1048.9 1951.1L1048.1 1951.8L1047.3 1952.5L1046.5 1953.3L1045.7 1954.0L1044.8 1954.8L1044.0 1955.5L1043.2 1956.3L1042.4 1957.1L1041.6 1957.9L1040.8 1958.7L1039.9 1959.4L1039.1 1960.3L1038.3 1961.1L1037.5 1961.9L1036.7 1962.7L1035.8 1963.5L1035.0 1964.4L1034.2 1965.2L1033.4 1966.1L1032.6 1966.9L1031.7 1967.8L1030.9 1968.6L1030.1 1969.5L1029.3 1970.4L1028.5 1971.3L1027.6 1972.2L1026.8 1973.1L1026.0 1974.0L1025.2 1975.0L1024.4 1975.9L1023.5 1976.8L1022.7 1977.8L1021.9 1978.7L1021.1 1979.7L1020.3 1980.7L1019.4 1981.7L1018.6 1982.6L1017.8 1983.6L1017.0 1984.6L1016.2 1985.7L1015.3 1986.7L1014.5 1987.7L1013.7 1988.7L1012.9 1989.8L1012.1 1990.9L1011.2 1991.9L1010.4 1993.0L1009.6 1994.1L1008.8 1995.2L1008.0 1996.3L1007.1 1997.4L1006.3 1998.5L1005.5 1999.6L1004.7 2000.7L1003.9 2001.9L1003.0 2003.0L1002.2 2004.2L1001.4 2005.3L1000.6 2006.5L999.8 2007.7L998.9 2008.9L998.1 2010.1L997.3 2011.3L996.5 2012.5L995.7 2013.8L994.8 2015.0L994.0 2016.3L993.2 2017.5L992.4 2018.8L991.6 2020.0L990.7 2021.3L989.9 2022.6L989.1 2023.9L988.3 2025.2L987.5 2026.6L986.6 2027.9L985.8 2029.2L985.0 2030.6L984.2 2031.9L983.4 2033.3L982.5 2034.6L981.7 2036.0L980.9 2037.4L980.1 2038.8L979.3 2040.2L978.5 2041.6L977.6 2043.0L976.8 2044.5L976.0 2045.9L975.2 2047.3L974.4 2048.8L973.5 2050.3L972.7 2051.7L971.9 2053.2L971.1 2054.7L970.3 2056.2L969.4 2057.7L968.6 2059.2L967.8 2060.7L967.0 2062.2L966.2 2063.7L965.3 2065.2L964.5 2066.8L963.7 2068.3L962.9 2069.9L962.1 2071.4L961.2 2073.0L960.4 2074.5L959.6 2076.1L958.8 2077.7L958.0 2079.2L957.1 2080.8L956.3 2082.4L955.5 2084.0L954.7 2085.6L953.9 2087.2L953.0 2088.8L952.2 2090.4L951.4 2092.0L950.6 2093.6L949.8 2095.2L948.9 2096.8L948.1 2098.4L947.3 2100.1L946.5 2101.7L945.7 2103.3L944.8 2104.9L944.0 2106.5L943.2 2108.2L942.4 2109.8L941.6 2111.4L940.7 2113.0L939.9 2114.6L939.1 2116.3L938.3 2117.9L937.5 2119.5L936.6 2121.1L935.8 2122.7L935.0 2124.3L934.2 2125.9L933.4 2127.5L932.5 2129.1L931.7 2130.7L930.9 2132.3L930.1 2133.9L929.3 2135.5L928.4 2137.1L927.6 2138.7L926.8 2140.2L926.0 2141.8L925.2 2143.4L924.3 2144.9L923.5 2146.5L922.7 2148.0L921.9 2149.6L921.1 2151.1L920.3 2152.6L919.4 2154.2L918.6 2155.7L917.8 2157.2L917.0 2158.7L916.2 2160.2L915.3 2161.7L914.5 2163.2L913.7 2164.6L912.9 2166.1L912.1 2167.6L911.2 2169.0L910.4 2170.5L909.6 2171.9L908.8 2173.3L908.0 2174.7L907.1 2176.2L906.3 2177.6L905.5 2179.0L904.7 2180.4L903.9 2181.7L903.0 2183.1L902.2 2184.5L901.4 2185.8L900.6 2187.2L899.8 2188.5L898.9 2189.8L898.1 2191.1L897.3 2192.5L896.5 2193.8L895.7 2195.0L894.8 2196.3L894.0 2197.6L893.2 2198.8L892.4 2200.1L891.6 2201.3L890.7 2202.5L889.9 2203.7L889.1 2204.9L888.3 2206.1L887.5 2207.3L886.6 2208.4L885.8 2209.5L885.0 2210.7L884.2 2211.8L883.4 2212.8L882.5 2213.9L881.7 2215.0L880.9 2216.0L880.1 2217.0L879.3 2218.0L878.4 2219.0L877.6 2219.9L876.8 2220.8L876.0 2221.8L875.2 2222.7L874.3 2223.5L873.5 2224.4L872.7 2225.2L871.9 2226.1L871.1 2226.9L870.2 2227.6L869.4 2228.4L868.6 2229.1L867.8 2229.9L867.0 2230.6L866.1 2231.3L865.3 2231.9L864.5 2232.6L863.7 2233.2L862.9 2233.9L862.0 2234.5L861.2 2235.1L860.4 2235.6L859.6 2236.2L858.8 2236.8L858.0 2237.3L857.1 2237.8L856.3 2238.3L855.5 2238.8L854.7 2239.3L853.9 2239.8L853.0 2240.3L852.2 2240.7L851.4 2241.2L850.6 2241.6L849.8 2242.0L848.9 2242.4L848.1 2242.8L847.3 2243.2L846.5 2243.6L845.7 2244.0L844.8 2244.3L844.0 2244.7L843.2 2245.0L842.4 2245.4L841.6 2245.7L840.7 2246.0L839.9 2246.3L839.1 2246.6L838.3 2246.9L837.5 2247.2L836.6 2247.5L835.8 2247.7L835.0 2248.0L834.2 2248.2L833.4 2248.5L832.5 2248.7L831.7 2248.9L830.9 2249.2L830.1 2249.4L829.3 2249.6L828.4 2249.8L827.6 2249.9L826.8 2250.1L826.0 2250.3L825.2 2250.5L824.3 2250.6L823.5 2250.8L822.7 2250.9L821.9 2251.0L821.1 2251.2L820.2 2251.3L819.4 2251.4L818.6 2251.5L817.8 2251.6L817.0 2251.7L816.1 2251.7L815.3 2251.8L814.5 2251.9L813.7 2251.9L812.9 2252.0L812.0 2252.0L811.2 2252.1L810.4 2252.1L809.6 2252.2L808.8 2252.2L807.9 2252.2L807.1 2252.2L806.3 2252.2L805.5 2252.2L804.7 2252.2L803.8 2252.2L803.0 2252.2L802.2 2252.2L801.4 2252.1L800.6 2252.1L799.7 2252.1L798.9 2252.0L798.1 2252.0L797.3 2251.9L796.5 2251.9L795.7 2251.8L794.8 2251.8L794.0 2251.7L793.2 2251.7L792.4 2251.6L791.6 2251.5L790.7 2251.4L789.9 2251.4L789.1 2251.3L788.3 2251.2L787.5 2251.1L786.6 2251.0L785.8 2250.9L785.0 2250.8L784.2 2250.7L783.4 2250.6L782.5 2250.5L781.7 2250.4L780.9 2250.3L780.1 2250.2L779.3 2250.1L778.4 2250.0L777.6 2249.9L776.8 2249.7L776.0 2249.6L775.2 2249.5L774.3 2249.4L773.5 2249.3L772.7 2249.1L771.9 2249.0L771.1 2248.9L770.2 2248.8L769.4 2248.6L768.6 2248.5L767.8 2248.4L767.0 2248.3L766.1 2248.1L765.3 2248.0L764.5 2247.9L763.7 2247.8L762.9 2247.6L762.0 2247.5L761.2 2247.4L760.4 2247.3L759.6 2247.1L758.8 2247.0L757.9 2246.9L757.1 2246.8L756.3 2246.6L755.5 2246.5L754.7 2246.4L753.8 2246.3L753.0 2246.2L752.2 2246.1L751.4 2246.0L750.6 2245.8L749.7 2245.7L748.9 2245.6L748.1 2245.5L747.3 2245.4L746.5 2245.3L745.6 2245.2L744.8 2245.1L744.0 2245.1L743.2 2245.0L742.4 2244.9L741.5 2244.8L740.7 2244.7L739.9 2244.6L739.1 2244.5L738.3 2244.5L737.5 2244.4L736.6 2244.3L735.8 2244.3L735.0 2244.2L734.2 2244.1L733.4 2244.1L732.5 2244.0L731.7 2243.9L730.9 2243.9L730.1 2243.8L729.3 2243.8L728.4 2243.7L727.6 2243.7L726.8 2243.6L726.0 2243.6L725.2 2243.5L724.3 2243.5L723.5 2243.4L722.7 2243.4L721.9 2243.4L721.1 2243.3L720.2 2243.3L719.4 2243.3L718.6 2243.2L717.8 2243.2L717.0 2243.2L716.1 2243.1L715.3 2243.1L714.5 2243.1L713.7 2243.1L712.9 2243.0L712.0 2243.0L711.2 2243.0L710.4 2243.0L709.6 2243.0L708.8 2243.0L707.9 2243.0L707.1 2242.9L706.3 2242.9L705.5 2242.9L704.7 2242.9L703.8 2242.9L703.0 2242.9L702.2 2242.9L701.4 2242.9L700.6 2242.9L699.7 2242.9L698.9 2242.9L698.1 2242.9L697.3 2242.9L696.5 2242.9L695.6 2242.9L694.8 2242.9L694.0 2242.9L693.2 2242.9L692.4 2243.0L691.5 2243.0L690.7 2243.0L689.9 2243.0L689.1 2243.0L688.3 2243.0L687.4 2243.0L686.6 2243.0L685.8 2243.1L685.0 2243.1L684.2 2243.1L683.3 2243.1L682.5 2243.1L681.7 2243.2L680.9 2243.2L680.1 2243.2L679.2 2243.2L678.4 2243.2L677.6 2243.3L676.8 2243.3L676.0 2243.3L675.2 2243.3L674.3 2243.4L673.5 2243.4L672.7 2243.4L671.9 2243.4L671.1 2243.5L670.2 2243.5L669.4 2243.5L668.6 2243.5L667.8 2243.6L667.0 2243.6L666.1 2243.6L665.3 2243.7L664.5 2243.7L663.7 2243.7L662.9 2243.7L662.0 2243.8L661.2 2243.8L660.4 2243.8L659.6 2243.9L658.8 2243.9L657.9 2243.9L657.1 2243.9L656.3 2244.0L655.5 2244.0L654.7 2244.0L653.8 2244.1L653.0 2244.1L652.2 2244.1L651.4 2244.2L650.6 2244.2L649.7 2244.2L648.9 2244.2L648.1 2244.3L647.3 2244.3L646.5 2244.3L645.6 2244.3L644.8 2244.4L644.0 2244.4L643.2 2244.4L642.4 2244.4L641.5 2244.5L640.7 2244.5L639.9 2244.5L639.1 2244.5L638.3 2244.6L637.4 2244.6L636.6 2244.6L635.8 2244.6L635.0 2244.6L634.2 2244.7L633.3 2244.7L632.5 2244.7L631.7 2244.7L630.9 2244.7L630.1 2244.8L629.2 2244.8L628.4 2244.8L627.6 2244.8L626.8 2244.8L626.0 2244.8L625.1 2244.8L624.3 2244.8L623.5 2244.9L622.7 2244.9L621.9 2244.9L621.0 2244.9L620.2 2244.9L619.4 2244.9L618.6 2244.9L617.8 2244.9L617.0 2244.9L616.1 2244.9L615.3 2244.9L614.5 2244.9L613.7 2244.9L612.9 2244.9L612.0 2244.9L611.2 2244.9L610.4 2244.8L609.6 2244.8L608.8 2244.8L607.9 2244.8L607.1 2244.8L606.3 2244.8L605.5 2244.8L604.7 2244.8L603.8 2244.7L603.0 2244.7L602.2 2244.7L601.4 2244.7L600.6 2244.7L599.7 2244.6L598.9 2244.6L598.1 2244.6L597.3 2244.6L596.5 2244.5L595.6 2244.5L594.8 2244.5L594.0 2244.5L593.2 2244.4L592.4 2244.4L591.5 2244.4L590.7 2244.3L589.9 2244.3L589.1 2244.3L588.3 2244.2L587.4 2244.2L586.6 2244.2L585.8 2244.1L585.0 2244.1L584.2 2244.0L583.3 2244.0L582.5 2243.9L581.7 2243.9L580.9 2243.9L580.1 2243.8L579.2 2243.8L578.4 2243.7L577.6 2243.7L576.8 2243.6L576.0 2243.6L575.1 2243.5L574.3 2243.5L573.5 2243.4L572.7 2243.4L571.9 2243.3L571.0 2243.2L570.2 2243.2L569.4 2243.1L568.6 2243.1L567.8 2243.0L566.9 2243.0L566.1 2242.9L565.3 2242.8L564.5 2242.8L563.7 2242.7L562.8 2242.6L562.0 2242.6L561.2 2242.5L560.4 2242.4L559.6 2242.4L558.7 2242.3L557.9 2242.2L557.1 2242.2L556.3 2242.1L555.5 2242.0L554.7 2242.0L553.8 2241.9L553.0 2241.8L552.2 2241.7L551.4 2241.7L550.6 2241.6L549.7 2241.5L548.9 2241.4L548.1 2241.3L547.3 2241.3L546.5 2241.2L545.6 2241.1L544.8 2241.0L544.0 2240.9L543.2 2240.9L542.4 2240.8L541.5 2240.7L540.7 2240.6L539.9 2240.5L539.1 2240.4L538.3 2240.3L537.4 2240.2L536.6 2240.2L535.8 2240.1L535.0 2240.0L534.2 2239.9L533.3 2239.8L532.5 2239.7L531.7 2239.6L530.9 2239.5L530.1 2239.4L529.2 2239.3L528.4 2239.2L527.6 2239.1L526.8 2239.0L526.0 2238.9L525.1 2238.8L524.3 2238.7L523.5 2238.6L522.7 2238.5L521.9 2238.4L521.0 2238.3L520.2 2238.2L519.4 2238.1L518.6 2238.0L517.8 2237.9L516.9 2237.8L516.1 2237.7L515.3 2237.6L514.5 2237.5L513.7 2237.4L512.8 2237.3L512.0 2237.2L511.2 2237.1L510.4 2237.0L509.6 2236.8L508.7 2236.7L507.9 2236.6L507.1 2236.5L506.3 2236.4L505.5 2236.3L504.6 2236.2L503.8 2236.1L503.0 2235.9L502.2 2235.8L501.4 2235.7L500.5 2235.6L499.7 2235.5L498.9 2235.4L498.1 2235.2L497.3 2235.1L496.5 2235.0L495.6 2234.9L494.8 2234.8L494.0 2234.6L493.2 2234.5L492.4 2234.4L491.5 2234.3L490.7 2234.1L489.9 2234.0L489.1 2233.9L488.3 2233.8L487.4 2233.7L486.6 2233.5L485.8 2233.4L485.0 2233.3L484.2 2233.1L483.3 2233.0L482.5 2232.9L481.7 2232.8L480.9 2232.6L480.1 2232.5L479.2 2232.4L478.4 2232.3L477.6 2232.1L476.8 2232.0L476.0 2231.9L475.1 2231.7L474.3 2231.6L473.5 2231.5L472.7 2231.3L471.9 2231.2L471.0 2231.1L470.2 2230.9L469.4 2230.8L468.6 2230.7L467.8 2230.5L466.9 2230.4L466.1 2230.3L465.3 2230.1L464.5 2230.0L463.7 2229.8L462.8 2229.7L462.0 2229.6L461.2 2229.4L460.4 2229.3L459.6 2229.2L458.7 2229.0L457.9 2228.9L457.1 2228.7L456.3 2228.6L455.5 2228.5L454.6 2228.3L453.8 2228.2L453.0 2228.0L452.2 2227.9L451.4 2227.8L450.5 2227.6L449.7 2227.5L448.9 2227.3L448.1 2227.2L447.3 2227.1L446.4 2226.9L445.6 2226.8L444.8 2226.6L444.0 2226.5L443.2 2226.4L442.3 2226.2L441.5 2226.1L440.7 2225.9L439.9 2225.8L439.1 2225.7L438.2 2225.5L437.4 2225.4L436.6 2225.2L435.8 2225.1L435.0 2225.0L434.2 2224.8L433.3 2224.7L432.5 2224.6L431.7 2224.5L430.9 2224.3L430.1 2224.2L429.2 2224.1L428.4 2223.9L427.6 2223.8L426.8 2223.7L426.0 2223.6L425.1 2223.4L424.3 2223.3L423.5 2223.2L422.7 2223.1L421.9 2223.0L421.0 2222.9L420.2 2222.7L419.4 2222.6L418.6 2222.5L417.8 2222.4L416.9 2222.3L416.1 2222.2L415.3 2222.1L414.5 2222.0L413.7 2221.9L412.8 2221.8L412.0 2221.7L411.2 2221.6L410.4 2221.5L409.6 2221.4L408.7 2221.4L407.9 2221.3L407.1 2221.2L406.3 2221.1L405.5 2221.0L404.6 2221.0L403.8 2220.9L403.0 2220.8L402.2 2220.8L401.4 2220.7L400.5 2220.6L399.7 2220.6L398.9 2220.5L398.1 2220.5L397.3 2220.4L396.4 2220.4L395.6 2220.3L394.8 2220.3L394.0 2220.3L393.2 2220.2L392.3 2220.2L391.5 2220.2L390.7 2220.1L389.9 2220.1L389.1 2220.1L388.2 2220.1L387.4 2220.1L386.6 2220.1L385.8 2220.1L385.0 2220.1L384.1 2220.1L383.3 2220.1L382.5 2220.1L381.7 2220.1L380.9 2220.1L380.0 2220.1L379.2 2220.2L378.4 2220.2L377.6 2220.2L376.8 2220.3L376.0 2220.3L375.1 2220.4L374.3 2220.4L373.5 2220.5L372.7 2220.5L371.9 2220.6L371.0 2220.6L370.2 2220.7L369.4 2220.8L368.6 2220.9L367.8 2221.0L366.9 2221.0L366.1 2221.1L365.3 2221.2L364.5 2221.3L363.7 2221.5L362.8 2221.6L362.0 2221.7L361.2 2221.8L360.4 2221.9L359.6 2222.1L358.7 2222.2L357.9 2222.3L357.1 2222.5L356.3 2222.6L355.5 2222.8L354.6 2222.9L353.8 2223.1L353.0 2223.3L352.2 2223.5L351.4 2223.6L350.5 2223.8L349.7 2224.0L348.9 2224.2L348.1 2224.4L347.3 2224.6L346.4 2224.8L345.6 2225.0L344.8 2225.2L344.0 2225.4L343.2 2225.6L342.3 2225.8L341.5 2226.0L340.7 2226.2L339.9 2226.5L339.1 2226.7L338.2 2226.9L337.4 2227.1L336.6 2227.4L335.8 2227.6L335.0 2227.9L334.1 2228.1L333.3 2228.3L332.5 2228.6L331.7 2228.8L330.9 2229.1L330.0 2229.4L329.2 2229.6L328.4 2229.9L327.6 2230.1L326.8 2230.4L325.9 2230.7L325.1 2230.9L324.3 2231.2L323.5 2231.5L322.7 2231.7L321.8 2232.0L321.0 2232.3L320.2 2232.6L319.4 2232.8L318.6 2233.1L317.7 2233.4L316.9 2233.7L316.1 2234.0L315.3 2234.2L314.5 2234.5L313.7 2234.8L312.8 2235.1L312.0 2235.4L311.2 2235.7L310.4 2235.9L309.6 2236.2L308.7 2236.5L307.9 2236.8L307.1 2237.1L306.3 2237.4L305.5 2237.7L304.6 2238.0L303.8 2238.2L303.0 2238.5L302.2 2238.8L301.4 2239.1L300.5 2239.4L299.7 2239.7L298.9 2240.0L298.1 2240.2L297.3 2240.5L296.4 2240.8L295.6 2241.1L294.8 2241.4L294.0 2241.7L293.2 2241.9L292.3 2242.2L291.5 2242.5L290.7 2242.8L289.9 2243.0L289.1 2243.3L288.2 2243.6L287.4 2243.8L286.6 2244.1Z" fill="#E8141A" fill-opacity="0.20"/>
<path d="M286.6 2178.0L287.4 2176.8L288.2 2175.6L289.1 2174.4L289.9 2173.2L290.7 2171.9L291.5 2170.7L292.3 2169.4L293.2 2168.1L294.0 2166.8L294.8 2165.5L295.6 2164.2L296.4 2162.9L297.3 2161.6L298.1 2160.2L298.9 2158.9L299.7 2157.5L300.5 2156.2L301.4 2154.8L302.2 2153.4L303.0 2152.1L303.8 2150.7L304.6 2149.3L305.5 2148.0L306.3 2146.6L307.1 2145.3L307.9 2143.9L308.7 2142.6L309.6 2141.2L310.4 2139.9L311.2 2138.5L312.0 2137.2L312.8 2135.9L313.7 2134.6L314.5 2133.4L315.3 2132.1L316.1 2130.8L316.9 2129.6L317.7 2128.4L318.6 2127.2L319.4 2126.0L320.2 2124.8L321.0 2123.6L321.8 2122.5L322.7 2121.4L323.5 2120.3L324.3 2119.2L325.1 2118.1L325.9 2117.0L326.8 2116.0L327.6 2114.9L328.4 2113.9L329.2 2112.9L330.0 2111.9L330.9 2111.0L331.7 2110.0L332.5 2109.1L333.3 2108.2L334.1 2107.3L335.0 2106.4L335.8 2105.5L336.6 2104.6L337.4 2103.8L338.2 2102.9L339.1 2102.1L339.9 2101.3L340.7 2100.5L341.5 2099.7L342.3 2098.9L343.2 2098.2L344.0 2097.4L344.8 2096.7L345.6 2096.0L346.4 2095.2L347.3 2094.5L348.1 2093.8L348.9 2093.2L349.7 2092.5L350.5 2091.8L351.4 2091.2L352.2 2090.5L353.0 2089.9L353.8 2089.3L354.6 2088.7L355.5 2088.1L356.3 2087.5L357.1 2086.9L357.9 2086.3L358.7 2085.8L359.6 2085.2L360.4 2084.7L361.2 2084.2L362.0 2083.7L362.8 2083.2L363.7 2082.7L364.5 2082.2L365.3 2081.7L366.1 2081.3L366.9 2080.8L367.8 2080.4L368.6 2079.9L369.4 2079.5L370.2 2079.1L371.0 2078.7L371.9 2078.3L372.7 2077.9L373.5 2077.6L374.3 2077.2L375.1 2076.9L376.0 2076.5L376.8 2076.2L377.6 2075.9L378.4 2075.6L379.2 2075.3L380.0 2075.0L380.9 2074.8L381.7 2074.5L382.5 2074.3L383.3 2074.0L384.1 2073.8L385.0 2073.6L385.8 2073.4L386.6 2073.2L387.4 2073.0L388.2 2072.9L389.1 2072.7L389.9 2072.6L390.7 2072.5L391.5 2072.3L392.3 2072.2L393.2 2072.1L394.0 2072.1L394.8 2072.0L395.6 2072.0L396.4 2071.9L397.3 2071.9L398.1 2071.9L398.9 2071.9L399.7 2071.9L400.5 2071.9L401.4 2072.0L402.2 2072.0L403.0 2072.1L403.8 2072.2L404.6 2072.3L405.5 2072.4L406.3 2072.5L407.1 2072.6L407.9 2072.8L408.7 2072.9L409.6 2073.1L410.4 2073.3L411.2 2073.5L412.0 2073.7L412.8 2073.9L413.7 2074.1L414.5 2074.3L415.3 2074.6L416.1 2074.8L416.9 2075.1L417.8 2075.4L418.6 2075.7L419.4 2076.0L420.2 2076.3L421.0 2076.6L421.9 2076.9L422.7 2077.3L423.5 2077.6L424.3 2078.0L425.1 2078.4L426.0 2078.8L426.8 2079.1L427.6 2079.6L428.4 2080.0L429.2 2080.4L430.1 2080.8L430.9 2081.3L431.7 2081.7L432.5 2082.2L433.3 2082.7L434.2 2083.1L435.0 2083.6L435.8 2084.1L436.6 2084.7L437.4 2085.2L438.2 2085.7L439.1 2086.3L439.9 2086.8L440.7 2087.4L441.5 2087.9L442.3 2088.5L443.2 2089.1L444.0 2089.7L444.8 2090.3L445.6 2090.9L446.4 2091.6L447.3 2092.2L448.1 2092.8L448.9 2093.5L449.7 2094.2L450.5 2094.8L451.4 2095.5L452.2 2096.2L453.0 2096.9L453.8 2097.6L454.6 2098.4L455.5 2099.1L456.3 2099.8L457.1 2100.6L457.9 2101.3L458.7 2102.1L459.6 2102.9L460.4 2103.7L461.2 2104.4L462.0 2105.3L462.8 2106.1L463.7 2106.9L464.5 2107.7L465.3 2108.5L466.1 2109.4L466.9 2110.2L467.8 2111.1L468.6 2112.0L469.4 2112.8L470.2 2113.7L471.0 2114.6L471.9 2115.5L472.7 2116.4L473.5 2117.3L474.3 2118.2L475.1 2119.1L476.0 2120.0L476.8 2120.9L477.6 2121.9L478.4 2122.8L479.2 2123.7L480.1 2124.7L480.9 2125.6L481.7 2126.5L482.5 2127.5L483.3 2128.4L484.2 2129.3L485.0 2130.3L485.8 2131.2L486.6 2132.1L487.4 2133.1L488.3 2134.0L489.1 2134.9L489.9 2135.8L490.7 2136.8L491.5 2137.7L492.4 2138.6L493.2 2139.5L494.0 2140.4L494.8 2141.3L495.6 2142.2L496.5 2143.1L497.3 2143.9L498.1 2144.8L498.9 2145.7L499.7 2146.5L500.5 2147.4L501.4 2148.2L502.2 2149.0L503.0 2149.9L503.8 2150.7L504.6 2151.5L505.5 2152.3L506.3 2153.0L507.1 2153.8L507.9 2154.6L508.7 2155.3L509.6 2156.1L510.4 2156.8L511.2 2157.5L512.0 2158.2L512.8 2159.0L513.7 2159.6L514.5 2160.3L515.3 2161.0L516.1 2161.7L516.9 2162.3L517.8 2163.0L518.6 2163.6L519.4 2164.3L520.2 2164.9L521.0 2165.5L521.9 2166.1L522.7 2166.7L523.5 2167.3L524.3 2167.9L525.1 2168.5L526.0 2169.1L526.8 2169.6L527.6 2170.2L528.4 2170.7L529.2 2171.3L530.1 2171.8L530.9 2172.4L531.7 2172.9L532.5 2173.4L533.3 2173.9L534.2 2174.4L535.0 2174.9L535.8 2175.4L536.6 2175.9L537.4 2176.4L538.3 2176.9L539.1 2177.4L539.9 2177.8L540.7 2178.3L541.5 2178.8L542.4 2179.2L543.2 2179.7L544.0 2180.1L544.8 2180.5L545.6 2181.0L546.5 2181.4L547.3 2181.8L548.1 2182.2L548.9 2182.7L549.7 2183.1L550.6 2183.5L551.4 2183.9L552.2 2184.3L553.0 2184.7L553.8 2185.1L554.7 2185.4L555.5 2185.8L556.3 2186.2L557.1 2186.6L557.9 2186.9L558.7 2187.3L559.6 2187.6L560.4 2188.0L561.2 2188.4L562.0 2188.7L562.8 2189.0L563.7 2189.4L564.5 2189.7L565.3 2190.0L566.1 2190.4L566.9 2190.7L567.8 2191.0L568.6 2191.3L569.4 2191.6L570.2 2192.0L571.0 2192.3L571.9 2192.6L572.7 2192.9L573.5 2193.2L574.3 2193.4L575.1 2193.7L576.0 2194.0L576.8 2194.3L577.6 2194.6L578.4 2194.8L579.2 2195.1L580.1 2195.4L580.9 2195.7L581.7 2195.9L582.5 2196.2L583.3 2196.4L584.2 2196.7L585.0 2196.9L585.8 2197.2L586.6 2197.4L587.4 2197.7L588.3 2197.9L589.1 2198.1L589.9 2198.4L590.7 2198.6L591.5 2198.8L592.4 2199.0L593.2 2199.3L594.0 2199.5L594.8 2199.7L595.6 2199.9L596.5 2200.1L597.3 2200.3L598.1 2200.5L598.9 2200.7L599.7 2200.9L600.6 2201.1L601.4 2201.3L602.2 2201.5L603.0 2201.7L603.8 2201.8L604.7 2202.0L605.5 2202.2L606.3 2202.4L607.1 2202.5L607.9 2202.7L608.8 2202.9L609.6 2203.0L610.4 2203.2L611.2 2203.4L612.0 2203.5L612.9 2203.7L613.7 2203.8L614.5 2204.0L615.3 2204.1L616.1 2204.3L617.0 2204.4L617.8 2204.6L618.6 2204.7L619.4 2204.8L620.2 2205.0L621.0 2205.1L621.9 2205.2L622.7 2205.3L623.5 2205.5L624.3 2205.6L625.1 2205.7L626.0 2205.8L626.8 2205.9L627.6 2206.0L628.4 2206.1L629.2 2206.3L630.1 2206.4L630.9 2206.5L631.7 2206.6L632.5 2206.7L633.3 2206.8L634.2 2206.9L635.0 2206.9L635.8 2207.0L636.6 2207.1L637.4 2207.2L638.3 2207.3L639.1 2207.4L639.9 2207.5L640.7 2207.6L641.5 2207.6L642.4 2207.7L643.2 2207.8L644.0 2207.9L644.8 2207.9L645.6 2208.0L646.5 2208.1L647.3 2208.1L648.1 2208.2L648.9 2208.3L649.7 2208.3L650.6 2208.4L651.4 2208.5L652.2 2208.5L653.0 2208.6L653.8 2208.7L654.7 2208.7L655.5 2208.8L656.3 2208.8L657.1 2208.9L657.9 2208.9L658.8 2209.0L659.6 2209.0L660.4 2209.1L661.2 2209.1L662.0 2209.2L662.9 2209.2L663.7 2209.3L664.5 2209.3L665.3 2209.4L666.1 2209.4L667.0 2209.5L667.8 2209.5L668.6 2209.5L669.4 2209.6L670.2 2209.6L671.1 2209.7L671.9 2209.7L672.7 2209.7L673.5 2209.8L674.3 2209.8L675.2 2209.9L676.0 2209.9L676.8 2209.9L677.6 2210.0L678.4 2210.0L679.2 2210.0L680.1 2210.1L680.9 2210.1L681.7 2210.1L682.5 2210.2L683.3 2210.2L684.2 2210.2L685.0 2210.3L685.8 2210.3L686.6 2210.3L687.4 2210.4L688.3 2210.4L689.1 2210.4L689.9 2210.5L690.7 2210.5L691.5 2210.5L692.4 2210.6L693.2 2210.6L694.0 2210.7L694.8 2210.7L695.6 2210.7L696.5 2210.8L697.3 2210.8L698.1 2210.8L698.9 2210.9L699.7 2210.9L700.6 2210.9L701.4 2211.0L702.2 2211.0L703.0 2211.0L703.8 2211.1L704.7 2211.1L705.5 2211.2L706.3 2211.2L707.1 2211.2L707.9 2211.3L708.8 2211.3L709.6 2211.4L710.4 2211.4L711.2 2211.5L712.0 2211.5L712.9 2211.6L713.7 2211.6L714.5 2211.6L715.3 2211.7L716.1 2211.7L717.0 2211.8L717.8 2211.8L718.6 2211.9L719.4 2212.0L720.2 2212.0L721.1 2212.1L721.9 2212.1L722.7 2212.2L723.5 2212.2L724.3 2212.3L725.2 2212.4L726.0 2212.4L726.8 2212.5L727.6 2212.6L728.4 2212.6L729.3 2212.7L730.1 2212.8L730.9 2212.8L731.7 2212.9L732.5 2213.0L733.4 2213.1L734.2 2213.1L735.0 2213.2L735.8 2213.3L736.6 2213.4L737.5 2213.5L738.3 2213.6L739.1 2213.6L739.9 2213.7L740.7 2213.8L741.5 2213.9L742.4 2214.0L743.2 2214.1L744.0 2214.2L744.8 2214.3L745.6 2214.4L746.5 2214.5L747.3 2214.6L748.1 2214.7L748.9 2214.8L749.7 2215.0L750.6 2215.1L751.4 2215.2L752.2 2215.3L753.0 2215.4L753.8 2215.6L754.7 2215.7L755.5 2215.8L756.3 2215.9L757.1 2216.1L757.9 2216.2L758.8 2216.3L759.6 2216.4L760.4 2216.6L761.2 2216.7L762.0 2216.8L762.9 2217.0L763.7 2217.1L764.5 2217.2L765.3 2217.3L766.1 2217.5L767.0 2217.6L767.8 2217.7L768.6 2217.9L769.4 2218.0L770.2 2218.1L771.1 2218.2L771.9 2218.4L772.7 2218.5L773.5 2218.6L774.3 2218.7L775.2 2218.8L776.0 2218.9L776.8 2219.1L777.6 2219.2L778.4 2219.3L779.3 2219.4L780.1 2219.5L780.9 2219.6L781.7 2219.7L782.5 2219.8L783.4 2219.9L784.2 2219.9L785.0 2220.0L785.8 2220.1L786.6 2220.2L787.5 2220.3L788.3 2220.3L789.1 2220.4L789.9 2220.5L790.7 2220.5L791.6 2220.6L792.4 2220.6L793.2 2220.7L794.0 2220.7L794.8 2220.8L795.7 2220.8L796.5 2220.8L797.3 2220.9L798.1 2220.9L798.9 2220.9L799.7 2220.9L800.6 2220.9L801.4 2220.9L802.2 2220.9L803.0 2220.9L803.8 2220.9L804.7 2220.9L805.5 2220.8L806.3 2220.8L807.1 2220.7L807.9 2220.6L808.8 2220.6L809.6 2220.5L810.4 2220.3L811.2 2220.2L812.0 2220.0L812.9 2219.9L813.7 2219.7L814.5 2219.4L815.3 2219.2L816.1 2218.9L817.0 2218.6L817.8 2218.2L818.6 2217.8L819.4 2217.4L820.2 2216.9L821.1 2216.4L821.9 2215.8L822.7 2215.1L823.5 2214.4L824.3 2213.7L825.2 2212.9L826.0 2212.0L826.8 2211.2L827.6 2210.2L828.4 2209.3L829.3 2208.3L830.1 2207.3L830.9 2206.2L831.7 2205.1L832.5 2203.9L833.4 2202.7L834.2 2201.5L835.0 2200.2L835.8 2198.9L836.6 2197.5L837.5 2196.1L838.3 2194.6L839.1 2193.1L839.9 2191.5L840.7 2190.0L841.6 2188.3L842.4 2186.7L843.2 2185.0L844.0 2183.3L844.8 2181.6L845.7 2179.8L846.5 2178.1L847.3 2176.3L848.1 2174.5L848.9 2172.7L849.8 2170.9L850.6 2169.0L851.4 2167.1L852.2 2165.2L853.0 2163.3L853.9 2161.3L854.7 2159.3L855.5 2157.2L856.3 2155.2L857.1 2153.0L858.0 2150.9L858.8 2148.7L859.6 2146.5L860.4 2144.2L861.2 2141.9L862.0 2139.6L862.9 2137.3L863.7 2134.8L864.5 2132.4L865.3 2129.9L866.1 2127.4L867.0 2124.9L867.8 2122.3L868.6 2119.6L869.4 2117.0L870.2 2114.3L871.1 2111.5L871.9 2108.7L872.7 2105.9L873.5 2103.0L874.3 2100.1L875.2 2097.1L876.0 2094.1L876.8 2091.1L877.6 2088.0L878.4 2084.8L879.3 2081.7L880.1 2078.5L880.9 2075.2L881.7 2071.9L882.5 2068.6L883.4 2065.2L884.2 2061.8L885.0 2058.4L885.8 2054.9L886.6 2051.4L887.5 2047.9L888.3 2044.3L889.1 2040.7L889.9 2037.1L890.7 2033.4L891.6 2029.7L892.4 2026.0L893.2 2022.3L894.0 2018.5L894.8 2014.7L895.7 2010.8L896.5 2006.9L897.3 2003.0L898.1 1999.1L898.9 1995.1L899.8 1991.2L900.6 1987.1L901.4 1983.1L902.2 1979.0L903.0 1975.0L903.9 1970.8L904.7 1966.7L905.5 1962.6L906.3 1958.4L907.1 1954.2L908.0 1950.0L908.8 1945.7L909.6 1941.5L910.4 1937.2L911.2 1933.0L912.1 1928.7L912.9 1924.4L913.7 1920.1L914.5 1915.8L915.3 1911.5L916.2 1907.2L917.0 1902.8L917.8 1898.5L918.6 1894.1L919.4 1889.8L920.3 1885.4L921.1 1881.1L921.9 1876.7L922.7 1872.4L923.5 1868.0L924.3 1863.7L925.2 1859.4L926.0 1855.0L926.8 1850.7L927.6 1846.4L928.4 1842.0L929.3 1837.7L930.1 1833.4L930.9 1829.1L931.7 1824.8L932.5 1820.6L933.4 1816.3L934.2 1812.1L935.0 1807.8L935.8 1803.6L936.6 1799.4L937.5 1795.2L938.3 1791.1L939.1 1786.9L939.9 1782.8L940.7 1778.7L941.6 1774.6L942.4 1770.5L943.2 1766.5L944.0 1762.4L944.8 1758.4L945.7 1754.4L946.5 1750.5L947.3 1746.5L948.1 1742.6L948.9 1738.7L949.8 1734.8L950.6 1730.9L951.4 1727.1L952.2 1723.3L953.0 1719.5L953.9 1715.8L954.7 1712.0L955.5 1708.3L956.3 1704.6L957.1 1701.0L958.0 1697.3L958.8 1693.7L959.6 1690.1L960.4 1686.5L961.2 1683.0L962.1 1679.5L962.9 1676.0L963.7 1672.5L964.5 1669.1L965.3 1665.6L966.2 1662.2L967.0 1658.9L967.8 1655.5L968.6 1652.2L969.4 1648.9L970.3 1645.6L971.1 1642.3L971.9 1639.1L972.7 1635.9L973.5 1632.7L974.4 1629.5L975.2 1626.4L976.0 1623.2L976.8 1620.1L977.6 1617.0L978.5 1614.0L979.3 1610.9L980.1 1607.9L980.9 1604.9L981.7 1602.0L982.5 1599.1L983.4 1596.2L984.2 1593.3L985.0 1590.4L985.8 1587.6L986.6 1584.9L987.5 1582.1L988.3 1579.4L989.1 1576.7L989.9 1574.1L990.7 1571.4L991.6 1568.9L992.4 1566.3L993.2 1563.8L994.0 1561.3L994.8 1558.8L995.7 1556.4L996.5 1554.0L997.3 1551.6L998.1 1549.3L998.9 1547.0L999.8 1544.7L1000.6 1542.5L1001.4 1540.3L1002.2 1538.1L1003.0 1535.9L1003.9 1533.8L1004.7 1531.7L1005.5 1529.6L1006.3 1527.5L1007.1 1525.5L1008.0 1523.5L1008.8 1521.6L1009.6 1519.6L1010.4 1517.7L1011.2 1515.8L1012.1 1513.9L1012.9 1512.1L1013.7 1510.2L1014.5 1508.4L1015.3 1506.7L1016.2 1504.9L1017.0 1503.2L1017.8 1501.5L1018.6 1499.8L1019.4 1498.1L1020.3 1496.4L1021.1 1494.8L1021.9 1493.2L1022.7 1491.6L1023.5 1490.0L1024.4 1488.5L1025.2 1487.0L1026.0 1485.4L1026.8 1483.9L1027.6 1482.5L1028.5 1481.0L1029.3 1479.6L1030.1 1478.1L1030.9 1476.7L1031.7 1475.3L1032.6 1473.9L1033.4 1472.6L1034.2 1471.2L1035.0 1469.9L1035.8 1468.6L1036.7 1467.3L1037.5 1466.0L1038.3 1464.7L1039.1 1463.4L1039.9 1462.2L1040.8 1461.0L1041.6 1459.7L1042.4 1458.5L1043.2 1457.3L1044.0 1456.2L1044.8 1455.0L1045.7 1453.8L1046.5 1452.7L1047.3 1451.6L1048.1 1450.4L1048.9 1449.3L1049.8 1448.2L1050.6 1447.2L1051.4 1446.1L1052.2 1445.0L1053.0 1444.0L1053.9 1442.9L1054.7 1441.9L1055.5 1440.9L1056.3 1439.9L1057.1 1438.9L1058.0 1437.9L1058.8 1436.9L1059.6 1435.9L1060.4 1435.0L1061.2 1434.0L1062.1 1433.1L1062.9 1432.2L1063.7 1431.2L1064.5 1430.3L1065.3 1429.4L1066.2 1428.5L1067.0 1427.7L1067.8 1426.8L1068.6 1425.9L1069.4 1425.1L1070.3 1424.2L1071.1 1423.4L1071.9 1422.5L1072.7 1421.7L1073.5 1420.9L1074.4 1420.1L1075.2 1419.3L1076.0 1418.5L1076.8 1417.7L1077.6 1416.9L1078.5 1416.1L1079.3 1415.3L1080.1 1414.6L1080.9 1413.8L1081.7 1413.0L1082.6 1412.3L1083.4 1411.5L1084.2 1410.8L1085.0 1410.1L1085.8 1409.4L1086.7 1408.6L1087.5 1407.9L1088.3 1407.2L1089.1 1406.5L1089.9 1405.8L1090.8 1405.1L1091.6 1404.4L1092.4 1403.8L1093.2 1403.1L1094.0 1402.4L1094.9 1401.7L1095.7 1401.1L1096.5 1400.4L1097.3 1399.8L1098.1 1399.1L1099.0 1398.5L1099.8 1397.8L1100.6 1397.2L1101.4 1396.5L1102.2 1395.9L1103.0 1395.3L1103.9 1394.7L1104.7 1394.1L1105.5 1393.4L1106.3 1392.8L1107.1 1392.2L1108.0 1391.6L1108.8 1391.0L1109.6 1390.4L1110.4 1389.9L1111.2 1389.3L1112.1 1388.7L1112.9 1388.1L1113.7 1387.5L1114.5 1387.0L1115.3 1386.4L1116.2 1385.8L1117.0 1385.3L1117.8 1384.7L1118.6 1384.2L1119.4 1383.6L1120.3 1383.1L1121.1 1382.5L1121.9 1382.0L1122.7 1381.5L1123.5 1380.9L1124.4 1380.4L1125.2 1379.9L1126.0 1379.3L1126.8 1378.8L1127.6 1378.3L1128.5 1377.8L1129.3 1377.3L1130.1 1376.8L1130.9 1376.3L1131.7 1375.8L1132.6 1375.3L1133.4 1374.8L1134.2 1374.3L1135.0 1373.8L1135.8 1373.3L1136.7 1372.8L1137.5 1372.3L1138.3 1371.8L1139.1 1371.3L1139.9 1370.9L1140.8 1370.4L1141.6 1369.9L1142.4 1369.5L1143.2 1369.0L1144.0 1368.5L1144.9 1368.1L1145.7 1367.6L1146.5 1367.2L1147.3 1366.7L1148.1 1366.3L1149.0 1365.8L1149.8 1365.4L1150.6 1364.9L1151.4 1364.5L1152.2 1364.0L1153.1 1363.6L1153.9 1363.2L1154.7 1362.7L1155.5 1362.3L1156.3 1361.9L1157.2 1361.5L1158.0 1361.1L1158.8 1360.6L1159.6 1360.2L1160.4 1359.8L1161.3 1359.4L1162.1 1359.0L1162.9 1358.6L1163.7 1358.2L1164.5 1357.8L1165.3 1357.4L1166.2 1357.0L1167.0 1356.6L1167.8 1356.2L1168.6 1355.8L1169.4 1355.4L1170.3 1355.0L1171.1 1354.6L1171.9 1354.2L1172.7 1353.9L1173.5 1353.5L1174.4 1353.1L1175.2 1352.7L1176.0 1352.4L1176.8 1352.0L1177.6 1351.6L1178.5 1351.3L1179.3 1350.9L1180.1 1350.5L1180.9 1350.2L1181.7 1349.8L1182.6 1349.5L1183.4 1349.1L1184.2 1348.7L1185.0 1348.4L1185.8 1348.0L1186.7 1347.7L1187.5 1347.4L1188.3 1347.0L1189.1 1346.7L1189.9 1346.3L1190.8 1346.0L1191.6 1345.7L1192.4 1345.3L1193.2 1345.0L1194.0 1344.7L1194.9 1344.3L1195.7 1344.0L1196.5 1343.7L1197.3 1343.4L1198.1 1343.0L1199.0 1342.7L1199.8 1342.4L1200.6 1342.1L1201.4 1341.8L1202.2 1341.5L1203.1 1341.2L1203.9 1340.8L1204.7 1340.5L1205.5 1340.2L1206.3 1339.9L1207.2 1339.6L1208.0 1339.3L1208.8 1339.0L1209.6 1338.7L1210.4 1338.4L1211.3 1338.1L1212.1 1337.9L1212.9 1337.6L1213.7 1337.3L1214.5 1337.0L1215.4 1336.7L1216.2 1336.4L1217.0 1336.1L1217.8 1335.9L1218.6 1335.6L1219.5 1335.3L1220.3 1335.0L1221.1 1334.7L1221.9 1334.5L1222.7 1334.2L1223.5 1333.9L1224.4 1333.7L1225.2 1333.4L1226.0 1333.1L1226.8 1332.9L1227.6 1332.6L1228.5 1332.3L1229.3 1332.1L1230.1 1331.8L1230.9 1331.6L1231.7 1331.3L1232.6 1331.1L1233.4 1330.8L1234.2 1330.6L1235.0 1330.3L1235.8 1330.1L1236.7 1329.8L1237.5 1329.6L1238.3 1329.3L1239.1 1329.1L1239.9 1328.8L1240.8 1328.6L1241.6 1328.4L1242.4 1328.1L1243.2 1327.9L1244.0 1327.7L1244.9 1327.4L1245.7 1327.2L1246.5 1327.0L1247.3 1326.7L1248.1 1326.5L1249.0 1326.3L1249.8 1326.0L1250.6 1325.8L1251.4 1325.6L1252.2 1325.4L1253.1 1325.1L1253.9 1324.9L1254.7 1324.7L1255.5 1324.5L1256.3 1324.3L1257.2 1324.1L1258.0 1323.8L1258.8 1323.6L1259.6 1323.4L1260.4 1323.2L1261.3 1323.0L1262.1 1322.8L1262.9 1322.6L1263.7 1322.4L1264.5 1322.2L1265.4 1322.0L1266.2 1321.8L1267.0 1321.6L1267.8 1321.4L1268.6 1321.2L1269.5 1321.0L1270.3 1320.8L1271.1 1320.6L1271.9 1320.4L1272.7 1320.2L1273.6 1320.0L1274.4 1319.8L1275.2 1319.6L1276.0 1319.4L1276.8 1319.2L1277.7 1319.1L1278.5 1318.9L1279.3 1318.7L1280.1 1318.5L1280.9 1318.3L1281.8 1318.1L1282.6 1317.9L1283.4 1317.8L1284.2 1317.6L1285.0 1317.4L1285.8 1317.2L1286.7 1317.1L1287.5 1316.9L1288.3 1316.7L1289.1 1316.5L1289.9 1316.4L1290.8 1316.2L1291.6 1316.0L1292.4 1315.8L1293.2 1315.7L1294.0 1315.5L1294.9 1315.3L1295.7 1315.2L1296.5 1315.0L1297.3 1314.8L1298.1 1314.7L1299.0 1314.5L1299.8 1314.4L1300.6 1314.2L1301.4 1314.0L1302.2 1313.9L1303.1 1313.7L1303.9 1313.6L1304.7 1313.4L1305.5 1313.2L1306.3 1313.1L1307.2 1312.9L1308.0 1312.8L1308.8 1312.6L1309.6 1312.5L1310.4 1312.3L1311.3 1312.2L1312.1 1312.0L1312.9 1311.9L1313.7 1311.7L1314.5 1311.6L1315.4 1311.4L1316.2 1311.3L1317.0 1311.1L1317.8 1311.0L1318.6 1310.8L1319.5 1310.7L1320.3 1310.6L1321.1 1310.4L1321.9 1310.3L1322.7 1310.1L1323.6 1310.0L1324.4 1309.9L1325.2 1309.7L1326.0 1309.6L1326.8 1309.4L1327.7 1309.3L1328.5 1309.2L1329.3 1309.0L1330.1 1308.9L1330.9 1308.8L1331.8 1308.6L1332.6 1308.5L1333.4 1308.4L1334.2 1308.2L1335.0 1308.1L1335.9 1308.0L1336.7 1307.9L1337.5 1307.7L1338.3 1307.6L1339.1 1307.5L1340.0 1307.3L1340.8 1307.2L1341.6 1307.1L1342.4 1307.0L1343.2 1306.8L1344.0 1306.7L1344.9 1306.6L1345.7 1306.5L1346.5 1306.3L1347.3 1306.2L1348.1 1306.1L1349.0 1306.0L1349.8 1305.9L1350.6 1305.7L1351.4 1305.6L1352.2 1305.5L1353.1 1305.4L1353.9 1305.3L1354.7 1305.2L1355.5 1305.0L1356.3 1304.9L1357.2 1304.8L1358.0 1304.7L1358.8 1304.6L1359.6 1304.5L1360.4 1304.3L1361.3 1304.2L1362.1 1304.1L1362.9 1304.0L1363.7 1303.9L1364.5 1303.8L1365.4 1303.7L1366.2 1303.6L1367.0 1303.5L1367.8 1303.3L1368.6 1303.2L1369.5 1303.1L1370.3 1303.0L1371.1 1302.9L1371.9 1302.8L1372.7 1302.7L1373.6 1302.6L1374.4 1302.5L1375.2 1302.4L1376.0 1302.3L1376.8 1302.2L1377.7 1302.1L1378.5 1302.0L1379.3 1301.8L1380.1 1301.7L1380.9 1301.6L1381.8 1301.5L1382.6 1301.4L1383.4 1301.3L1384.2 1301.2L1385.0 1301.1L1385.9 1301.0L1386.7 1300.9L1387.5 1300.8L1388.3 1300.7L1389.1 1300.6L1390.0 1300.5L1390.8 1300.4L1391.6 1300.3L1392.4 1300.2L1393.2 1300.1L1394.1 1300.0L1394.9 1299.9L1395.7 1299.8L1396.5 1299.7L1397.3 1299.6L1398.2 1299.5L1399.0 1299.4L1399.8 1299.3L1400.6 1299.2L1401.4 1299.1L1402.3 1299.0L1403.1 1299.0L1403.9 1298.9L1404.7 1298.8L1405.5 1298.7L1406.3 1298.6L1407.2 1298.5L1408.0 1298.4L1408.8 1298.3L1409.6 1298.2L1410.4 1298.1L1411.3 1298.0L1412.1 1297.9L1412.9 1297.8L1413.7 1297.7L1414.5 1297.6L1415.4 1297.5L1416.2 1297.4L1417.0 1297.3L1417.8 1297.3L1418.6 1297.2L1419.5 1297.1L1420.3 1297.0L1421.1 1296.9L1421.9 1296.8L1422.7 1296.7L1423.6 1296.6L1424.4 1296.5L1425.2 1296.4L1426.0 1296.3L1426.8 1296.2L1427.7 1296.1L1428.5 1296.1L1429.3 1296.0L1430.1 1295.9L1430.9 1295.8L1431.8 1295.7L1432.6 1295.6L1433.4 1295.5L1433.4 1703.0L1432.6 1703.1L1431.8 1703.2L1430.9 1703.2L1430.1 1703.3L1429.3 1703.4L1428.5 1703.5L1427.7 1703.5L1426.8 1703.6L1426.0 1703.7L1425.2 1703.8L1424.4 1703.8L1423.6 1703.9L1422.7 1704.0L1421.9 1704.1L1421.1 1704.1L1420.3 1704.2L1419.5 1704.3L1418.6 1704.3L1417.8 1704.4L1417.0 1704.5L1416.2 1704.6L1415.4 1704.6L1414.5 1704.7L1413.7 1704.8L1412.9 1704.9L1412.1 1704.9L1411.3 1705.0L1410.4 1705.1L1409.6 1705.2L1408.8 1705.2L1408.0 1705.3L1407.2 1705.4L1406.3 1705.4L1405.5 1705.5L1404.7 1705.6L1403.9 1705.7L1403.1 1705.7L1402.3 1705.8L1401.4 1705.9L1400.6 1706.0L1399.8 1706.0L1399.0 1706.1L1398.2 1706.2L1397.3 1706.2L1396.5 1706.3L1395.7 1706.4L1394.9 1706.5L1394.1 1706.5L1393.2 1706.6L1392.4 1706.7L1391.6 1706.8L1390.8 1706.8L1390.0 1706.9L1389.1 1707.0L1388.3 1707.1L1387.5 1707.1L1386.7 1707.2L1385.9 1707.3L1385.0 1707.3L1384.2 1707.4L1383.4 1707.5L1382.6 1707.6L1381.8 1707.6L1380.9 1707.7L1380.1 1707.8L1379.3 1707.9L1378.5 1707.9L1377.7 1708.0L1376.8 1708.1L1376.0 1708.2L1375.2 1708.2L1374.4 1708.3L1373.6 1708.4L1372.7 1708.5L1371.9 1708.5L1371.1 1708.6L1370.3 1708.7L1369.5 1708.8L1368.6 1708.9L1367.8 1708.9L1367.0 1709.0L1366.2 1709.1L1365.4 1709.2L1364.5 1709.2L1363.7 1709.3L1362.9 1709.4L1362.1 1709.5L1361.3 1709.6L1360.4 1709.6L1359.6 1709.7L1358.8 1709.8L1358.0 1709.9L1357.2 1710.0L1356.3 1710.0L1355.5 1710.1L1354.7 1710.2L1353.9 1710.3L1353.1 1710.4L1352.2 1710.4L1351.4 1710.5L1350.6 1710.6L1349.8 1710.7L1349.0 1710.8L1348.1 1710.9L1347.3 1710.9L1346.5 1711.0L1345.7 1711.1L1344.9 1711.2L1344.0 1711.3L1343.2 1711.4L1342.4 1711.4L1341.6 1711.5L1340.8 1711.6L1340.0 1711.7L1339.1 1711.8L1338.3 1711.9L1337.5 1712.0L1336.7 1712.1L1335.9 1712.1L1335.0 1712.2L1334.2 1712.3L1333.4 1712.4L1332.6 1712.5L1331.8 1712.6L1330.9 1712.7L1330.1 1712.8L1329.3 1712.9L1328.5 1713.0L1327.7 1713.0L1326.8 1713.1L1326.0 1713.2L1325.2 1713.3L1324.4 1713.4L1323.6 1713.5L1322.7 1713.6L1321.9 1713.7L1321.1 1713.8L1320.3 1713.9L1319.5 1714.0L1318.6 1714.1L1317.8 1714.2L1317.0 1714.3L1316.2 1714.4L1315.4 1714.5L1314.5 1714.6L1313.7 1714.7L1312.9 1714.8L1312.1 1714.9L1311.3 1715.0L1310.4 1715.1L1309.6 1715.2L1308.8 1715.3L1308.0 1715.4L1307.2 1715.5L1306.3 1715.6L1305.5 1715.7L1304.7 1715.8L1303.9 1715.9L1303.1 1716.1L1302.2 1716.2L1301.4 1716.3L1300.6 1716.4L1299.8 1716.5L1299.0 1716.6L1298.1 1716.7L1297.3 1716.8L1296.5 1716.9L1295.7 1717.0L1294.9 1717.2L1294.0 1717.3L1293.2 1717.4L1292.4 1717.5L1291.6 1717.6L1290.8 1717.7L1289.9 1717.9L1289.1 1718.0L1288.3 1718.1L1287.5 1718.2L1286.7 1718.3L1285.8 1718.5L1285.0 1718.6L1284.2 1718.7L1283.4 1718.8L1282.6 1718.9L1281.8 1719.1L1280.9 1719.2L1280.1 1719.3L1279.3 1719.4L1278.5 1719.6L1277.7 1719.7L1276.8 1719.8L1276.0 1720.0L1275.2 1720.1L1274.4 1720.2L1273.6 1720.4L1272.7 1720.5L1271.9 1720.6L1271.1 1720.8L1270.3 1720.9L1269.5 1721.0L1268.6 1721.2L1267.8 1721.3L1267.0 1721.4L1266.2 1721.6L1265.4 1721.7L1264.5 1721.9L1263.7 1722.0L1262.9 1722.1L1262.1 1722.3L1261.3 1722.4L1260.4 1722.6L1259.6 1722.7L1258.8 1722.9L1258.0 1723.0L1257.2 1723.2L1256.3 1723.3L1255.5 1723.5L1254.7 1723.6L1253.9 1723.8L1253.1 1723.9L1252.2 1724.1L1251.4 1724.2L1250.6 1724.4L1249.8 1724.5L1249.0 1724.7L1248.1 1724.8L1247.3 1725.0L1246.5 1725.2L1245.7 1725.3L1244.9 1725.5L1244.0 1725.6L1243.2 1725.8L1242.4 1726.0L1241.6 1726.1L1240.8 1726.3L1239.9 1726.5L1239.1 1726.6L1238.3 1726.8L1237.5 1727.0L1236.7 1727.2L1235.8 1727.3L1235.0 1727.5L1234.2 1727.7L1233.4 1727.9L1232.6 1728.0L1231.7 1728.2L1230.9 1728.4L1230.1 1728.6L1229.3 1728.8L1228.5 1728.9L1227.6 1729.1L1226.8 1729.3L1226.0 1729.5L1225.2 1729.7L1224.4 1729.9L1223.5 1730.1L1222.7 1730.2L1221.9 1730.4L1221.1 1730.6L1220.3 1730.8L1219.5 1731.0L1218.6 1731.2L1217.8 1731.4L1217.0 1731.6L1216.2 1731.8L1215.4 1732.0L1214.5 1732.2L1213.7 1732.4L1212.9 1732.6L1212.1 1732.8L1211.3 1733.0L1210.4 1733.2L1209.6 1733.5L1208.8 1733.7L1208.0 1733.9L1207.2 1734.1L1206.3 1734.3L1205.5 1734.5L1204.7 1734.7L1203.9 1735.0L1203.1 1735.2L1202.2 1735.4L1201.4 1735.6L1200.6 1735.8L1199.8 1736.1L1199.0 1736.3L1198.1 1736.5L1197.3 1736.8L1196.5 1737.0L1195.7 1737.2L1194.9 1737.5L1194.0 1737.7L1193.2 1737.9L1192.4 1738.2L1191.6 1738.4L1190.8 1738.7L1189.9 1738.9L1189.1 1739.1L1188.3 1739.4L1187.5 1739.6L1186.7 1739.9L1185.8 1740.1L1185.0 1740.4L1184.2 1740.6L1183.4 1740.9L1182.6 1741.1L1181.7 1741.4L1180.9 1741.7L1180.1 1741.9L1179.3 1742.2L1178.5 1742.5L1177.6 1742.7L1176.8 1743.0L1176.0 1743.3L1175.2 1743.5L1174.4 1743.8L1173.5 1744.1L1172.7 1744.4L1171.9 1744.6L1171.1 1744.9L1170.3 1745.2L1169.4 1745.5L1168.6 1745.8L1167.8 1746.0L1167.0 1746.3L1166.2 1746.6L1165.3 1746.9L1164.5 1747.2L1163.7 1747.5L1162.9 1747.8L1162.1 1748.1L1161.3 1748.4L1160.4 1748.7L1159.6 1749.0L1158.8 1749.3L1158.0 1749.6L1157.2 1749.9L1156.3 1750.2L1155.5 1750.6L1154.7 1750.9L1153.9 1751.2L1153.1 1751.5L1152.2 1751.8L1151.4 1752.2L1150.6 1752.5L1149.8 1752.8L1149.0 1753.1L1148.1 1753.5L1147.3 1753.8L1146.5 1754.2L1145.7 1754.5L1144.9 1754.8L1144.0 1755.2L1143.2 1755.5L1142.4 1755.9L1141.6 1756.2L1140.8 1756.6L1139.9 1756.9L1139.1 1757.3L1138.3 1757.6L1137.5 1758.0L1136.7 1758.4L1135.8 1758.7L1135.0 1759.1L1134.2 1759.5L1133.4 1759.8L1132.6 1760.2L1131.7 1760.6L1130.9 1761.0L1130.1 1761.3L1129.3 1761.7L1128.5 1762.1L1127.6 1762.5L1126.8 1762.9L1126.0 1763.3L1125.2 1763.7L1124.4 1764.1L1123.5 1764.5L1122.7 1764.9L1121.9 1765.3L1121.1 1765.7L1120.3 1766.1L1119.4 1766.5L1118.6 1766.9L1117.8 1767.4L1117.0 1767.8L1116.2 1768.2L1115.3 1768.6L1114.5 1769.1L1113.7 1769.5L1112.9 1769.9L1112.1 1770.4L1111.2 1770.8L1110.4 1771.3L1109.6 1771.7L1108.8 1772.2L1108.0 1772.6L1107.1 1773.1L1106.3 1773.5L1105.5 1774.0L1104.7 1774.4L1103.9 1774.9L1103.0 1775.4L1102.2 1775.9L1101.4 1776.3L1100.6 1776.8L1099.8 1777.3L1099.0 1777.8L1098.1 1778.3L1097.3 1778.8L1096.5 1779.3L1095.7 1779.8L1094.9 1780.3L1094.0 1780.8L1093.2 1781.3L1092.4 1781.8L1091.6 1782.3L1090.8 1782.8L1089.9 1783.4L1089.1 1783.9L1088.3 1784.4L1087.5 1784.9L1086.7 1785.5L1085.8 1786.0L1085.0 1786.6L1084.2 1787.1L1083.4 1787.7L1082.6 1788.2L1081.7 1788.8L1080.9 1789.4L1080.1 1789.9L1079.3 1790.5L1078.5 1791.1L1077.6 1791.6L1076.8 1792.2L1076.0 1792.8L1075.2 1793.4L1074.4 1794.0L1073.5 1794.6L1072.7 1795.2L1071.9 1795.8L1071.1 1796.4L1070.3 1797.0L1069.4 1797.7L1068.6 1798.3L1067.8 1798.9L1067.0 1799.6L1066.2 1800.2L1065.3 1800.8L1064.5 1801.5L1063.7 1802.1L1062.9 1802.8L1062.1 1803.5L1061.2 1804.1L1060.4 1804.8L1059.6 1805.5L1058.8 1806.2L1058.0 1806.8L1057.1 1807.5L1056.3 1808.2L1055.5 1808.9L1054.7 1809.6L1053.9 1810.3L1053.0 1811.1L1052.2 1811.8L1051.4 1812.5L1050.6 1813.2L1049.8 1814.0L1048.9 1814.7L1048.1 1815.5L1047.3 1816.2L1046.5 1817.0L1045.7 1817.8L1044.8 1818.5L1044.0 1819.3L1043.2 1820.1L1042.4 1820.9L1041.6 1821.7L1040.8 1822.5L1039.9 1823.3L1039.1 1824.1L1038.3 1825.0L1037.5 1825.8L1036.7 1826.7L1035.8 1827.5L1035.0 1828.4L1034.2 1829.2L1033.4 1830.1L1032.6 1831.0L1031.7 1831.9L1030.9 1832.8L1030.1 1833.7L1029.3 1834.6L1028.5 1835.5L1027.6 1836.4L1026.8 1837.4L1026.0 1838.3L1025.2 1839.3L1024.4 1840.2L1023.5 1841.2L1022.7 1842.2L1021.9 1843.2L1021.1 1844.2L1020.3 1845.3L1019.4 1846.3L1018.6 1847.3L1017.8 1848.4L1017.0 1849.5L1016.2 1850.6L1015.3 1851.7L1014.5 1852.8L1013.7 1853.9L1012.9 1855.0L1012.1 1856.2L1011.2 1857.4L1010.4 1858.6L1009.6 1859.8L1008.8 1861.0L1008.0 1862.3L1007.1 1863.5L1006.3 1864.8L1005.5 1866.1L1004.7 1867.5L1003.9 1868.8L1003.0 1870.2L1002.2 1871.6L1001.4 1873.0L1000.6 1874.5L999.8 1875.9L998.9 1877.4L998.1 1878.9L997.3 1880.5L996.5 1882.0L995.7 1883.6L994.8 1885.2L994.0 1886.9L993.2 1888.5L992.4 1890.2L991.6 1892.0L990.7 1893.7L989.9 1895.5L989.1 1897.3L988.3 1899.1L987.5 1901.0L986.6 1902.8L985.8 1904.7L985.0 1906.7L984.2 1908.6L983.4 1910.6L982.5 1912.6L981.7 1914.6L980.9 1916.7L980.1 1918.7L979.3 1920.8L978.5 1922.9L977.6 1925.1L976.8 1927.2L976.0 1929.3L975.2 1931.5L974.4 1933.7L973.5 1935.9L972.7 1938.0L971.9 1940.2L971.1 1942.4L970.3 1944.6L969.4 1946.8L968.6 1949.0L967.8 1951.2L967.0 1953.4L966.2 1955.7L965.3 1957.9L964.5 1960.1L963.7 1962.3L962.9 1964.5L962.1 1966.7L961.2 1968.9L960.4 1971.1L959.6 1973.3L958.8 1975.6L958.0 1977.8L957.1 1980.0L956.3 1982.2L955.5 1984.4L954.7 1986.6L953.9 1988.8L953.0 1991.0L952.2 1993.3L951.4 1995.5L950.6 1997.7L949.8 1999.9L948.9 2002.1L948.1 2004.3L947.3 2006.5L946.5 2008.7L945.7 2010.9L944.8 2013.1L944.0 2015.3L943.2 2017.5L942.4 2019.7L941.6 2021.9L940.7 2024.1L939.9 2026.2L939.1 2028.4L938.3 2030.6L937.5 2032.8L936.6 2034.9L935.8 2037.1L935.0 2039.3L934.2 2041.4L933.4 2043.6L932.5 2045.7L931.7 2047.9L930.9 2050.0L930.1 2052.2L929.3 2054.3L928.4 2056.4L927.6 2058.6L926.8 2060.7L926.0 2062.8L925.2 2064.9L924.3 2067.0L923.5 2069.1L922.7 2071.2L921.9 2073.3L921.1 2075.4L920.3 2077.5L919.4 2079.6L918.6 2081.7L917.8 2083.7L917.0 2085.8L916.2 2087.9L915.3 2089.9L914.5 2092.0L913.7 2094.0L912.9 2096.0L912.1 2098.1L911.2 2100.1L910.4 2102.1L909.6 2104.1L908.8 2106.1L908.0 2108.1L907.1 2110.1L906.3 2112.1L905.5 2114.1L904.7 2116.0L903.9 2118.0L903.0 2120.0L902.2 2121.9L901.4 2123.9L900.6 2125.8L899.8 2127.8L898.9 2129.7L898.1 2131.6L897.3 2133.5L896.5 2135.4L895.7 2137.3L894.8 2139.2L894.0 2141.1L893.2 2143.0L892.4 2144.9L891.6 2146.7L890.7 2148.6L889.9 2150.5L889.1 2152.3L888.3 2154.2L887.5 2156.0L886.6 2157.8L885.8 2159.6L885.0 2161.5L884.2 2163.3L883.4 2165.1L882.5 2166.9L881.7 2168.6L880.9 2170.4L880.1 2172.2L879.3 2173.9L878.4 2175.6L877.6 2177.4L876.8 2179.0L876.0 2180.7L875.2 2182.3L874.3 2183.9L873.5 2185.5L872.7 2187.1L871.9 2188.6L871.1 2190.1L870.2 2191.5L869.4 2192.9L868.6 2194.3L867.8 2195.7L867.0 2197.0L866.1 2198.3L865.3 2199.6L864.5 2200.9L863.7 2202.1L862.9 2203.3L862.0 2204.4L861.2 2205.5L860.4 2206.6L859.6 2207.7L858.8 2208.8L858.0 2209.8L857.1 2210.8L856.3 2211.8L855.5 2212.7L854.7 2213.6L853.9 2214.5L853.0 2215.4L852.2 2216.3L851.4 2217.2L850.6 2218.0L849.8 2218.9L848.9 2219.7L848.1 2220.5L847.3 2221.4L846.5 2222.2L845.7 2223.1L844.8 2223.9L844.0 2224.8L843.2 2225.6L842.4 2226.5L841.6 2227.4L840.7 2228.3L839.9 2229.2L839.1 2230.1L838.3 2231.1L837.5 2232.0L836.6 2232.9L835.8 2233.9L835.0 2234.8L834.2 2235.7L833.4 2236.6L832.5 2237.4L831.7 2238.3L830.9 2239.1L830.1 2239.9L829.3 2240.6L828.4 2241.3L827.6 2242.0L826.8 2242.6L826.0 2243.2L825.2 2243.8L824.3 2244.3L823.5 2244.8L822.7 2245.2L821.9 2245.6L821.1 2246.0L820.2 2246.3L819.4 2246.6L818.6 2246.8L817.8 2247.0L817.0 2247.2L816.1 2247.3L815.3 2247.5L814.5 2247.6L813.7 2247.7L812.9 2247.7L812.0 2247.8L811.2 2247.8L810.4 2247.8L809.6 2247.8L808.8 2247.8L807.9 2247.8L807.1 2247.8L806.3 2247.8L805.5 2247.7L804.7 2247.7L803.8 2247.6L803.0 2247.6L802.2 2247.5L801.4 2247.4L800.6 2247.4L799.7 2247.3L798.9 2247.2L798.1 2247.2L797.3 2247.1L796.5 2247.0L795.7 2246.9L794.8 2246.9L794.0 2246.8L793.2 2246.7L792.4 2246.6L791.6 2246.6L790.7 2246.5L789.9 2246.4L789.1 2246.3L788.3 2246.2L787.5 2246.1L786.6 2246.1L785.8 2246.0L785.0 2245.9L784.2 2245.8L783.4 2245.7L782.5 2245.6L781.7 2245.5L780.9 2245.4L780.1 2245.4L779.3 2245.3L778.4 2245.2L777.6 2245.1L776.8 2245.0L776.0 2244.9L775.2 2244.8L774.3 2244.7L773.5 2244.6L772.7 2244.5L771.9 2244.4L771.1 2244.4L770.2 2244.3L769.4 2244.2L768.6 2244.1L767.8 2244.0L767.0 2243.9L766.1 2243.8L765.3 2243.7L764.5 2243.6L763.7 2243.5L762.9 2243.4L762.0 2243.4L761.2 2243.3L760.4 2243.2L759.6 2243.1L758.8 2243.0L757.9 2242.9L757.1 2242.8L756.3 2242.7L755.5 2242.7L754.7 2242.6L753.8 2242.5L753.0 2242.4L752.2 2242.3L751.4 2242.2L750.6 2242.2L749.7 2242.1L748.9 2242.0L748.1 2241.9L747.3 2241.8L746.5 2241.8L745.6 2241.7L744.8 2241.6L744.0 2241.5L743.2 2241.5L742.4 2241.4L741.5 2241.3L740.7 2241.3L739.9 2241.2L739.1 2241.1L738.3 2241.1L737.5 2241.0L736.6 2240.9L735.8 2240.9L735.0 2240.8L734.2 2240.8L733.4 2240.7L732.5 2240.6L731.7 2240.6L730.9 2240.5L730.1 2240.5L729.3 2240.4L728.4 2240.4L727.6 2240.3L726.8 2240.3L726.0 2240.2L725.2 2240.2L724.3 2240.1L723.5 2240.1L722.7 2240.0L721.9 2240.0L721.1 2239.9L720.2 2239.9L719.4 2239.8L718.6 2239.8L717.8 2239.8L717.0 2239.7L716.1 2239.7L715.3 2239.6L714.5 2239.6L713.7 2239.6L712.9 2239.5L712.0 2239.5L711.2 2239.4L710.4 2239.4L709.6 2239.4L708.8 2239.3L707.9 2239.3L707.1 2239.3L706.3 2239.2L705.5 2239.2L704.7 2239.2L703.8 2239.1L703.0 2239.1L702.2 2239.1L701.4 2239.1L700.6 2239.0L699.7 2239.0L698.9 2239.0L698.1 2239.0L697.3 2238.9L696.5 2238.9L695.6 2238.9L694.8 2238.9L694.0 2238.8L693.2 2238.8L692.4 2238.8L691.5 2238.8L690.7 2238.7L689.9 2238.7L689.1 2238.7L688.3 2238.7L687.4 2238.7L686.6 2238.7L685.8 2238.6L685.0 2238.6L684.2 2238.6L683.3 2238.6L682.5 2238.6L681.7 2238.6L680.9 2238.5L680.1 2238.5L679.2 2238.5L678.4 2238.5L677.6 2238.5L676.8 2238.5L676.0 2238.5L675.2 2238.4L674.3 2238.4L673.5 2238.4L672.7 2238.4L671.9 2238.4L671.1 2238.4L670.2 2238.4L669.4 2238.4L668.6 2238.4L667.8 2238.4L667.0 2238.3L666.1 2238.3L665.3 2238.3L664.5 2238.3L663.7 2238.3L662.9 2238.3L662.0 2238.3L661.2 2238.3L660.4 2238.3L659.6 2238.3L658.8 2238.3L657.9 2238.3L657.1 2238.3L656.3 2238.2L655.5 2238.2L654.7 2238.2L653.8 2238.2L653.0 2238.2L652.2 2238.2L651.4 2238.2L650.6 2238.2L649.7 2238.2L648.9 2238.2L648.1 2238.2L647.3 2238.2L646.5 2238.2L645.6 2238.2L644.8 2238.2L644.0 2238.2L643.2 2238.2L642.4 2238.2L641.5 2238.2L640.7 2238.2L639.9 2238.1L639.1 2238.1L638.3 2238.1L637.4 2238.1L636.6 2238.1L635.8 2238.1L635.0 2238.1L634.2 2238.1L633.3 2238.1L632.5 2238.1L631.7 2238.1L630.9 2238.1L630.1 2238.1L629.2 2238.1L628.4 2238.1L627.6 2238.1L626.8 2238.1L626.0 2238.1L625.1 2238.1L624.3 2238.0L623.5 2238.0L622.7 2238.0L621.9 2238.0L621.0 2238.0L620.2 2238.0L619.4 2238.0L618.6 2238.0L617.8 2238.0L617.0 2238.0L616.1 2238.0L615.3 2238.0L614.5 2238.0L613.7 2238.0L612.9 2237.9L612.0 2237.9L611.2 2237.9L610.4 2237.9L609.6 2237.9L608.8 2237.9L607.9 2237.9L607.1 2237.9L606.3 2237.9L605.5 2237.8L604.7 2237.8L603.8 2237.8L603.0 2237.8L602.2 2237.8L601.4 2237.8L600.6 2237.8L599.7 2237.7L598.9 2237.7L598.1 2237.7L597.3 2237.7L596.5 2237.7L595.6 2237.6L594.8 2237.6L594.0 2237.6L593.2 2237.6L592.4 2237.5L591.5 2237.5L590.7 2237.5L589.9 2237.5L589.1 2237.4L588.3 2237.4L587.4 2237.4L586.6 2237.3L585.8 2237.3L585.0 2237.3L584.2 2237.2L583.3 2237.2L582.5 2237.2L581.7 2237.1L580.9 2237.1L580.1 2237.0L579.2 2237.0L578.4 2236.9L577.6 2236.9L576.8 2236.9L576.0 2236.8L575.1 2236.8L574.3 2236.7L573.5 2236.7L572.7 2236.6L571.9 2236.5L571.0 2236.5L570.2 2236.4L569.4 2236.4L568.6 2236.3L567.8 2236.2L566.9 2236.2L566.1 2236.1L565.3 2236.0L564.5 2236.0L563.7 2235.9L562.8 2235.8L562.0 2235.7L561.2 2235.7L560.4 2235.6L559.6 2235.5L558.7 2235.4L557.9 2235.3L557.1 2235.2L556.3 2235.1L555.5 2235.1L554.7 2235.0L553.8 2234.9L553.0 2234.8L552.2 2234.7L551.4 2234.6L550.6 2234.5L549.7 2234.3L548.9 2234.2L548.1 2234.1L547.3 2234.0L546.5 2233.9L545.6 2233.8L544.8 2233.6L544.0 2233.5L543.2 2233.4L542.4 2233.3L541.5 2233.1L540.7 2233.0L539.9 2232.9L539.1 2232.7L538.3 2232.6L537.4 2232.4L536.6 2232.3L535.8 2232.1L535.0 2232.0L534.2 2231.8L533.3 2231.7L532.5 2231.5L531.7 2231.3L530.9 2231.2L530.1 2231.0L529.2 2230.8L528.4 2230.6L527.6 2230.4L526.8 2230.3L526.0 2230.1L525.1 2229.9L524.3 2229.7L523.5 2229.5L522.7 2229.3L521.9 2229.1L521.0 2228.9L520.2 2228.7L519.4 2228.5L518.6 2228.3L517.8 2228.1L516.9 2227.9L516.1 2227.7L515.3 2227.5L514.5 2227.2L513.7 2227.0L512.8 2226.8L512.0 2226.6L511.2 2226.4L510.4 2226.1L509.6 2225.9L508.7 2225.7L507.9 2225.4L507.1 2225.2L506.3 2225.0L505.5 2224.7L504.6 2224.5L503.8 2224.3L503.0 2224.0L502.2 2223.8L501.4 2223.5L500.5 2223.3L499.7 2223.0L498.9 2222.8L498.1 2222.6L497.3 2222.3L496.5 2222.1L495.6 2221.8L494.8 2221.5L494.0 2221.3L493.2 2221.0L492.4 2220.8L491.5 2220.5L490.7 2220.3L489.9 2220.0L489.1 2219.8L488.3 2219.5L487.4 2219.2L486.6 2219.0L485.8 2218.7L485.0 2218.5L484.2 2218.2L483.3 2217.9L482.5 2217.7L481.7 2217.4L480.9 2217.1L480.1 2216.9L479.2 2216.6L478.4 2216.3L477.6 2216.1L476.8 2215.8L476.0 2215.6L475.1 2215.3L474.3 2215.0L473.5 2214.8L472.7 2214.5L471.9 2214.2L471.0 2214.0L470.2 2213.7L469.4 2213.4L468.6 2213.2L467.8 2212.9L466.9 2212.7L466.1 2212.4L465.3 2212.1L464.5 2211.9L463.7 2211.6L462.8 2211.4L462.0 2211.1L461.2 2210.8L460.4 2210.6L459.6 2210.3L458.7 2210.1L457.9 2209.8L457.1 2209.6L456.3 2209.3L455.5 2209.1L454.6 2208.8L453.8 2208.6L453.0 2208.3L452.2 2208.1L451.4 2207.8L450.5 2207.6L449.7 2207.3L448.9 2207.1L448.1 2206.9L447.3 2206.6L446.4 2206.4L445.6 2206.2L444.8 2205.9L444.0 2205.7L443.2 2205.5L442.3 2205.2L441.5 2205.0L440.7 2204.8L439.9 2204.6L439.1 2204.3L438.2 2204.1L437.4 2203.9L436.6 2203.7L435.8 2203.5L435.0 2203.3L434.2 2203.1L433.3 2202.9L432.5 2202.7L431.7 2202.5L430.9 2202.3L430.1 2202.1L429.2 2201.9L428.4 2201.7L427.6 2201.5L426.8 2201.3L426.0 2201.1L425.1 2201.0L424.3 2200.8L423.5 2200.6L422.7 2200.4L421.9 2200.3L421.0 2200.1L420.2 2200.0L419.4 2199.8L418.6 2199.6L417.8 2199.5L416.9 2199.3L416.1 2199.2L415.3 2199.1L414.5 2198.9L413.7 2198.8L412.8 2198.7L412.0 2198.5L411.2 2198.4L410.4 2198.3L409.6 2198.2L408.7 2198.1L407.9 2198.0L407.1 2197.9L406.3 2197.8L405.5 2197.7L404.6 2197.6L403.8 2197.5L403.0 2197.4L402.2 2197.4L401.4 2197.3L400.5 2197.2L399.7 2197.2L398.9 2197.1L398.1 2197.0L397.3 2197.0L396.4 2197.0L395.6 2196.9L394.8 2196.9L394.0 2196.9L393.2 2196.8L392.3 2196.8L391.5 2196.8L390.7 2196.8L389.9 2196.8L389.1 2196.8L388.2 2196.8L387.4 2196.8L386.6 2196.8L385.8 2196.9L385.0 2196.9L384.1 2196.9L383.3 2197.0L382.5 2197.0L381.7 2197.1L380.9 2197.1L380.0 2197.2L379.2 2197.3L378.4 2197.4L377.6 2197.4L376.8 2197.5L376.0 2197.6L375.1 2197.7L374.3 2197.9L373.5 2198.0L372.7 2198.1L371.9 2198.2L371.0 2198.4L370.2 2198.5L369.4 2198.7L368.6 2198.8L367.8 2199.0L366.9 2199.2L366.1 2199.4L365.3 2199.6L364.5 2199.8L363.7 2200.0L362.8 2200.2L362.0 2200.4L361.2 2200.6L360.4 2200.9L359.6 2201.1L358.7 2201.4L357.9 2201.6L357.1 2201.9L356.3 2202.2L355.5 2202.5L354.6 2202.7L353.8 2203.0L353.0 2203.4L352.2 2203.7L351.4 2204.0L350.5 2204.3L349.7 2204.6L348.9 2205.0L348.1 2205.3L347.3 2205.7L346.4 2206.0L345.6 2206.4L344.8 2206.7L344.0 2207.1L343.2 2207.5L342.3 2207.9L341.5 2208.3L340.7 2208.7L339.9 2209.0L339.1 2209.4L338.2 2209.8L337.4 2210.3L336.6 2210.7L335.8 2211.1L335.0 2211.5L334.1 2211.9L333.3 2212.3L332.5 2212.8L331.7 2213.2L330.9 2213.6L330.0 2214.1L329.2 2214.5L328.4 2215.0L327.6 2215.4L326.8 2215.8L325.9 2216.3L325.1 2216.7L324.3 2217.2L323.5 2217.6L322.7 2218.1L321.8 2218.5L321.0 2219.0L320.2 2219.4L319.4 2219.9L318.6 2220.3L317.7 2220.8L316.9 2221.3L316.1 2221.7L315.3 2222.2L314.5 2222.6L313.7 2223.1L312.8 2223.5L312.0 2224.0L311.2 2224.4L310.4 2224.8L309.6 2225.3L308.7 2225.7L307.9 2226.2L307.1 2226.6L306.3 2227.0L305.5 2227.4L304.6 2227.9L303.8 2228.3L303.0 2228.7L302.2 2229.1L301.4 2229.5L300.5 2229.9L299.7 2230.3L298.9 2230.7L298.1 2231.1L297.3 2231.5L296.4 2231.9L295.6 2232.3L294.8 2232.6L294.0 2233.0L293.2 2233.4L292.3 2233.7L291.5 2234.1L290.7 2234.4L289.9 2234.7L289.1 2235.1L288.2 2235.4L287.4 2235.7L286.6 2236.0Z" fill="#2B79BB" fill-opacity="0.20"/>
<path d="M286.6 2217.1L287.4 2216.4L288.2 2215.8L289.1 2215.1L289.9 2214.4L290.7 2213.8L291.5 2213.1L292.3 2212.5L293.2 2211.9L294.0 2211.2L294.8 2210.6L295.6 2210.0L296.4 2209.3L297.3 2208.7L298.1 2208.1L298.9 2207.5L299.7 2206.9L300.5 2206.3L301.4 2205.7L302.2 2205.2L303.0 2204.6L303.8 2204.0L304.6 2203.4L305.5 2202.9L306.3 2202.3L307.1 2201.8L307.9 2201.2L308.7 2200.7L309.6 2200.1L310.4 2199.6L311.2 2199.1L312.0 2198.6L312.8 2198.0L313.7 2197.5L314.5 2197.0L315.3 2196.5L316.1 2196.0L316.9 2195.5L317.7 2195.0L318.6 2194.6L319.4 2194.1L320.2 2193.6L321.0 2193.1L321.8 2192.7L322.7 2192.2L323.5 2191.8L324.3 2191.3L325.1 2190.9L325.9 2190.4L326.8 2190.0L327.6 2189.6L328.4 2189.1L329.2 2188.7L330.0 2188.3L330.9 2187.9L331.7 2187.5L332.5 2187.1L333.3 2186.7L334.1 2186.3L335.0 2185.9L335.8 2185.5L336.6 2185.1L337.4 2184.8L338.2 2184.4L339.1 2184.0L339.9 2183.7L340.7 2183.3L341.5 2183.0L342.3 2182.6L343.2 2182.3L344.0 2182.0L344.8 2181.6L345.6 2181.3L346.4 2181.0L347.3 2180.7L348.1 2180.4L348.9 2180.1L349.7 2179.8L350.5 2179.5L351.4 2179.2L352.2 2178.9L353.0 2178.6L353.8 2178.4L354.6 2178.1L355.5 2177.8L356.3 2177.6L357.1 2177.3L357.9 2177.1L358.7 2176.8L359.6 2176.6L360.4 2176.3L361.2 2176.1L362.0 2175.9L362.8 2175.7L363.7 2175.5L364.5 2175.3L365.3 2175.1L366.1 2174.9L366.9 2174.7L367.8 2174.5L368.6 2174.3L369.4 2174.1L370.2 2173.9L371.0 2173.8L371.9 2173.6L372.7 2173.5L373.5 2173.3L374.3 2173.2L375.1 2173.0L376.0 2172.9L376.8 2172.7L377.6 2172.6L378.4 2172.5L379.2 2172.4L380.0 2172.3L380.9 2172.2L381.7 2172.1L382.5 2172.0L383.3 2171.9L384.1 2171.8L385.0 2171.7L385.8 2171.7L386.6 2171.6L387.4 2171.5L388.2 2171.5L389.1 2171.4L389.9 2171.4L390.7 2171.3L391.5 2171.3L392.3 2171.3L393.2 2171.3L394.0 2171.2L394.8 2171.2L395.6 2171.2L396.4 2171.2L397.3 2171.2L398.1 2171.2L398.9 2171.3L399.7 2171.3L400.5 2171.3L401.4 2171.3L402.2 2171.4L403.0 2171.4L403.8 2171.5L404.6 2171.5L405.5 2171.6L406.3 2171.6L407.1 2171.7L407.9 2171.8L408.7 2171.9L409.6 2171.9L410.4 2172.0L411.2 2172.1L412.0 2172.2L412.8 2172.3L413.7 2172.4L414.5 2172.5L415.3 2172.6L416.1 2172.8L416.9 2172.9L417.8 2173.0L418.6 2173.2L419.4 2173.3L420.2 2173.4L421.0 2173.6L421.9 2173.7L422.7 2173.9L423.5 2174.1L424.3 2174.2L425.1 2174.4L426.0 2174.6L426.8 2174.8L427.6 2174.9L428.4 2175.1L429.2 2175.3L430.1 2175.5L430.9 2175.7L431.7 2175.9L432.5 2176.1L433.3 2176.3L434.2 2176.6L435.0 2176.8L435.8 2177.0L436.6 2177.2L437.4 2177.5L438.2 2177.7L439.1 2177.9L439.9 2178.2L440.7 2178.4L441.5 2178.7L442.3 2178.9L443.2 2179.2L444.0 2179.5L444.8 2179.7L445.6 2180.0L446.4 2180.3L447.3 2180.6L448.1 2180.9L448.9 2181.2L449.7 2181.4L450.5 2181.7L451.4 2182.0L452.2 2182.4L453.0 2182.7L453.8 2183.0L454.6 2183.3L455.5 2183.6L456.3 2183.9L457.1 2184.3L457.9 2184.6L458.7 2184.9L459.6 2185.3L460.4 2185.6L461.2 2186.0L462.0 2186.3L462.8 2186.7L463.7 2187.0L464.5 2187.4L465.3 2187.7L466.1 2188.1L466.9 2188.5L467.8 2188.8L468.6 2189.2L469.4 2189.6L470.2 2189.9L471.0 2190.3L471.9 2190.7L472.7 2191.1L473.5 2191.4L474.3 2191.8L475.1 2192.2L476.0 2192.5L476.8 2192.9L477.6 2193.3L478.4 2193.7L479.2 2194.0L480.1 2194.4L480.9 2194.8L481.7 2195.1L482.5 2195.5L483.3 2195.9L484.2 2196.2L485.0 2196.6L485.8 2196.9L486.6 2197.3L487.4 2197.6L488.3 2198.0L489.1 2198.3L489.9 2198.7L490.7 2199.0L491.5 2199.4L492.4 2199.7L493.2 2200.0L494.0 2200.4L494.8 2200.7L495.6 2201.0L496.5 2201.4L497.3 2201.7L498.1 2202.0L498.9 2202.3L499.7 2202.7L500.5 2203.0L501.4 2203.3L502.2 2203.6L503.0 2203.9L503.8 2204.2L504.6 2204.5L505.5 2204.9L506.3 2205.2L507.1 2205.5L507.9 2205.8L508.7 2206.1L509.6 2206.4L510.4 2206.7L511.2 2206.9L512.0 2207.2L512.8 2207.5L513.7 2207.8L514.5 2208.1L515.3 2208.4L516.1 2208.7L516.9 2208.9L517.8 2209.2L518.6 2209.5L519.4 2209.8L520.2 2210.0L521.0 2210.3L521.9 2210.6L522.7 2210.8L523.5 2211.1L524.3 2211.3L525.1 2211.6L526.0 2211.9L526.8 2212.1L527.6 2212.4L528.4 2212.6L529.2 2212.9L530.1 2213.1L530.9 2213.3L531.7 2213.6L532.5 2213.8L533.3 2214.1L534.2 2214.3L535.0 2214.5L535.8 2214.7L536.6 2215.0L537.4 2215.2L538.3 2215.4L539.1 2215.6L539.9 2215.9L540.7 2216.1L541.5 2216.3L542.4 2216.5L543.2 2216.7L544.0 2216.9L544.8 2217.1L545.6 2217.3L546.5 2217.5L547.3 2217.7L548.1 2217.9L548.9 2218.1L549.7 2218.3L550.6 2218.5L551.4 2218.6L552.2 2218.8L553.0 2219.0L553.8 2219.2L554.7 2219.4L555.5 2219.5L556.3 2219.7L557.1 2219.9L557.9 2220.0L558.7 2220.2L559.6 2220.4L560.4 2220.5L561.2 2220.7L562.0 2220.8L562.8 2221.0L563.7 2221.1L564.5 2221.3L565.3 2221.4L566.1 2221.6L566.9 2221.7L567.8 2221.8L568.6 2222.0L569.4 2222.1L570.2 2222.2L571.0 2222.4L571.9 2222.5L572.7 2222.6L573.5 2222.7L574.3 2222.9L575.1 2223.0L576.0 2223.1L576.8 2223.2L577.6 2223.3L578.4 2223.4L579.2 2223.5L580.1 2223.6L580.9 2223.7L581.7 2223.8L582.5 2223.9L583.3 2224.0L584.2 2224.1L585.0 2224.2L585.8 2224.3L586.6 2224.4L587.4 2224.5L588.3 2224.6L589.1 2224.7L589.9 2224.7L590.7 2224.8L591.5 2224.9L592.4 2225.0L593.2 2225.0L594.0 2225.1L594.8 2225.2L595.6 2225.3L596.5 2225.3L597.3 2225.4L598.1 2225.5L598.9 2225.5L599.7 2225.6L600.6 2225.7L601.4 2225.7L602.2 2225.8L603.0 2225.8L603.8 2225.9L604.7 2225.9L605.5 2226.0L606.3 2226.1L607.1 2226.1L607.9 2226.2L608.8 2226.2L609.6 2226.3L610.4 2226.3L611.2 2226.3L612.0 2226.4L612.9 2226.4L613.7 2226.5L614.5 2226.5L615.3 2226.6L616.1 2226.6L617.0 2226.6L617.8 2226.7L618.6 2226.7L619.4 2226.7L620.2 2226.8L621.0 2226.8L621.9 2226.8L622.7 2226.9L623.5 2226.9L624.3 2226.9L625.1 2227.0L626.0 2227.0L626.8 2227.0L627.6 2227.1L628.4 2227.1L629.2 2227.1L630.1 2227.1L630.9 2227.2L631.7 2227.2L632.5 2227.2L633.3 2227.2L634.2 2227.3L635.0 2227.3L635.8 2227.3L636.6 2227.3L637.4 2227.3L638.3 2227.4L639.1 2227.4L639.9 2227.4L640.7 2227.4L641.5 2227.4L642.4 2227.5L643.2 2227.5L644.0 2227.5L644.8 2227.5L645.6 2227.5L646.5 2227.5L647.3 2227.6L648.1 2227.6L648.9 2227.6L649.7 2227.6L650.6 2227.6L651.4 2227.6L652.2 2227.7L653.0 2227.7L653.8 2227.7L654.7 2227.7L655.5 2227.7L656.3 2227.7L657.1 2227.8L657.9 2227.8L658.8 2227.8L659.6 2227.8L660.4 2227.8L661.2 2227.8L662.0 2227.9L662.9 2227.9L663.7 2227.9L664.5 2227.9L665.3 2227.9L666.1 2228.0L667.0 2228.0L667.8 2228.0L668.6 2228.0L669.4 2228.0L670.2 2228.0L671.1 2228.1L671.9 2228.1L672.7 2228.1L673.5 2228.1L674.3 2228.1L675.2 2228.2L676.0 2228.2L676.8 2228.2L677.6 2228.2L678.4 2228.2L679.2 2228.3L680.1 2228.3L680.9 2228.3L681.7 2228.3L682.5 2228.4L683.3 2228.4L684.2 2228.4L685.0 2228.4L685.8 2228.4L686.6 2228.5L687.4 2228.5L688.3 2228.5L689.1 2228.5L689.9 2228.6L690.7 2228.6L691.5 2228.6L692.4 2228.7L693.2 2228.7L694.0 2228.7L694.8 2228.7L695.6 2228.8L696.5 2228.8L697.3 2228.8L698.1 2228.9L698.9 2228.9L699.7 2228.9L700.6 2229.0L701.4 2229.0L702.2 2229.0L703.0 2229.1L703.8 2229.1L704.7 2229.1L705.5 2229.2L706.3 2229.2L707.1 2229.2L707.9 2229.3L708.8 2229.3L709.6 2229.4L710.4 2229.4L711.2 2229.4L712.0 2229.5L712.9 2229.5L713.7 2229.6L714.5 2229.6L715.3 2229.6L716.1 2229.7L717.0 2229.7L717.8 2229.8L718.6 2229.8L719.4 2229.9L720.2 2229.9L721.1 2230.0L721.9 2230.0L722.7 2230.1L723.5 2230.1L724.3 2230.2L725.2 2230.2L726.0 2230.3L726.8 2230.4L727.6 2230.4L728.4 2230.5L729.3 2230.5L730.1 2230.6L730.9 2230.7L731.7 2230.7L732.5 2230.8L733.4 2230.8L734.2 2230.9L735.0 2231.0L735.8 2231.0L736.6 2231.1L737.5 2231.2L738.3 2231.2L739.1 2231.3L739.9 2231.4L740.7 2231.5L741.5 2231.5L742.4 2231.6L743.2 2231.7L744.0 2231.8L744.8 2231.8L745.6 2231.9L746.5 2232.0L747.3 2232.1L748.1 2232.2L748.9 2232.3L749.7 2232.3L750.6 2232.4L751.4 2232.5L752.2 2232.6L753.0 2232.7L753.8 2232.8L754.7 2232.9L755.5 2233.0L756.3 2233.1L757.1 2233.2L757.9 2233.3L758.8 2233.3L759.6 2233.4L760.4 2233.5L761.2 2233.6L762.0 2233.7L762.9 2233.8L763.7 2233.9L764.5 2234.0L765.3 2234.1L766.1 2234.2L767.0 2234.3L767.8 2234.4L768.6 2234.5L769.4 2234.6L770.2 2234.7L771.1 2234.9L771.9 2235.0L772.7 2235.1L773.5 2235.2L774.3 2235.3L775.2 2235.4L776.0 2235.5L776.8 2235.6L777.6 2235.7L778.4 2235.8L779.3 2235.9L780.1 2236.0L780.9 2236.1L781.7 2236.2L782.5 2236.3L783.4 2236.4L784.2 2236.5L785.0 2236.6L785.8 2236.7L786.6 2236.8L787.5 2236.9L788.3 2237.0L789.1 2237.1L789.9 2237.1L790.7 2237.2L791.6 2237.3L792.4 2237.4L793.2 2237.5L794.0 2237.6L794.8 2237.7L795.7 2237.8L796.5 2237.9L797.3 2238.0L798.1 2238.0L798.9 2238.1L799.7 2238.2L800.6 2238.3L801.4 2238.4L802.2 2238.4L803.0 2238.5L803.8 2238.6L804.7 2238.6L805.5 2238.7L806.3 2238.7L807.1 2238.8L807.9 2238.8L808.8 2238.8L809.6 2238.9L810.4 2238.8L811.2 2238.8L812.0 2238.8L812.9 2238.7L813.7 2238.7L814.5 2238.6L815.3 2238.5L816.1 2238.4L817.0 2238.2L817.8 2238.0L818.6 2237.8L819.4 2237.6L820.2 2237.3L821.1 2237.0L821.9 2236.6L822.7 2236.3L823.5 2235.9L824.3 2235.4L825.2 2234.9L826.0 2234.4L826.8 2233.9L827.6 2233.3L828.4 2232.7L829.3 2232.1L830.1 2231.5L830.9 2230.8L831.7 2230.1L832.5 2229.4L833.4 2228.7L834.2 2227.9L835.0 2227.2L835.8 2226.4L836.6 2225.6L837.5 2224.8L838.3 2224.0L839.1 2223.1L839.9 2222.3L840.7 2221.5L841.6 2220.6L842.4 2219.8L843.2 2219.0L844.0 2218.1L844.8 2217.3L845.7 2216.5L846.5 2215.7L847.3 2214.9L848.1 2214.2L848.9 2213.4L849.8 2212.6L850.6 2211.8L851.4 2211.1L852.2 2210.3L853.0 2209.5L853.9 2208.7L854.7 2208.0L855.5 2207.2L856.3 2206.4L857.1 2205.5L858.0 2204.7L858.8 2203.9L859.6 2203.0L860.4 2202.1L861.2 2201.2L862.0 2200.3L862.9 2199.3L863.7 2198.3L864.5 2197.2L865.3 2196.1L866.1 2195.0L867.0 2193.7L867.8 2192.4L868.6 2191.0L869.4 2189.5L870.2 2187.9L871.1 2186.3L871.9 2184.5L872.7 2182.7L873.5 2180.9L874.3 2179.0L875.2 2177.2L876.0 2175.3L876.8 2173.5L877.6 2171.7L878.4 2169.8L879.3 2168.0L880.1 2166.2L880.9 2164.4L881.7 2162.6L882.5 2160.7L883.4 2158.9L884.2 2157.1L885.0 2155.3L885.8 2153.5L886.6 2151.6L887.5 2149.8L888.3 2148.0L889.1 2146.1L889.9 2144.3L890.7 2142.4L891.6 2140.6L892.4 2138.7L893.2 2136.8L894.0 2134.9L894.8 2133.0L895.7 2131.1L896.5 2129.2L897.3 2127.2L898.1 2125.3L898.9 2123.3L899.8 2121.3L900.6 2119.3L901.4 2117.2L902.2 2115.2L903.0 2113.1L903.9 2111.0L904.7 2108.9L905.5 2106.8L906.3 2104.7L907.1 2102.5L908.0 2100.4L908.8 2098.2L909.6 2096.0L910.4 2093.8L911.2 2091.5L912.1 2089.3L912.9 2087.0L913.7 2084.7L914.5 2082.4L915.3 2080.1L916.2 2077.8L917.0 2075.4L917.8 2073.0L918.6 2070.7L919.4 2068.3L920.3 2065.8L921.1 2063.4L921.9 2061.0L922.7 2058.5L923.5 2056.0L924.3 2053.5L925.2 2051.0L926.0 2048.5L926.8 2045.9L927.6 2043.4L928.4 2040.8L929.3 2038.2L930.1 2035.6L930.9 2033.0L931.7 2030.4L932.5 2027.8L933.4 2025.2L934.2 2022.5L935.0 2019.9L935.8 2017.2L936.6 2014.6L937.5 2011.9L938.3 2009.2L939.1 2006.5L939.9 2003.8L940.7 2001.1L941.6 1998.4L942.4 1995.7L943.2 1993.0L944.0 1990.3L944.8 1987.6L945.7 1984.9L946.5 1982.2L947.3 1979.4L948.1 1976.7L948.9 1974.0L949.8 1971.3L950.6 1968.6L951.4 1965.9L952.2 1963.3L953.0 1960.6L953.9 1957.9L954.7 1955.2L955.5 1952.6L956.3 1949.9L957.1 1947.3L958.0 1944.6L958.8 1942.0L959.6 1939.4L960.4 1936.8L961.2 1934.2L962.1 1931.6L962.9 1929.1L963.7 1926.5L964.5 1924.0L965.3 1921.5L966.2 1918.9L967.0 1916.4L967.8 1914.0L968.6 1911.5L969.4 1909.0L970.3 1906.6L971.1 1904.2L971.9 1901.8L972.7 1899.4L973.5 1897.0L974.4 1894.7L975.2 1892.3L976.0 1890.0L976.8 1887.7L977.6 1885.4L978.5 1883.2L979.3 1880.9L980.1 1878.7L980.9 1876.5L981.7 1874.3L982.5 1872.1L983.4 1869.9L984.2 1867.8L985.0 1865.6L985.8 1863.5L986.6 1861.4L987.5 1859.4L988.3 1857.3L989.1 1855.3L989.9 1853.3L990.7 1851.3L991.6 1849.3L992.4 1847.3L993.2 1845.4L994.0 1843.4L994.8 1841.5L995.7 1839.6L996.5 1837.7L997.3 1835.9L998.1 1834.0L998.9 1832.2L999.8 1830.4L1000.6 1828.6L1001.4 1826.8L1002.2 1825.0L1003.0 1823.3L1003.9 1821.5L1004.7 1819.8L1005.5 1818.1L1006.3 1816.4L1007.1 1814.8L1008.0 1813.1L1008.8 1811.5L1009.6 1809.8L1010.4 1808.2L1011.2 1806.6L1012.1 1805.0L1012.9 1803.5L1013.7 1801.9L1014.5 1800.4L1015.3 1798.8L1016.2 1797.3L1017.0 1795.8L1017.8 1794.3L1018.6 1792.9L1019.4 1791.4L1020.3 1790.0L1021.1 1788.5L1021.9 1787.1L1022.7 1785.7L1023.5 1784.3L1024.4 1782.9L1025.2 1781.5L1026.0 1780.2L1026.8 1778.8L1027.6 1777.5L1028.5 1776.1L1029.3 1774.8L1030.1 1773.5L1030.9 1772.2L1031.7 1770.9L1032.6 1769.7L1033.4 1768.4L1034.2 1767.1L1035.0 1765.9L1035.8 1764.7L1036.7 1763.4L1037.5 1762.2L1038.3 1761.0L1039.1 1759.8L1039.9 1758.7L1040.8 1757.5L1041.6 1756.3L1042.4 1755.2L1043.2 1754.0L1044.0 1752.9L1044.8 1751.8L1045.7 1750.7L1046.5 1749.6L1047.3 1748.5L1048.1 1747.4L1048.9 1746.3L1049.8 1745.2L1050.6 1744.2L1051.4 1743.1L1052.2 1742.1L1053.0 1741.1L1053.9 1740.0L1054.7 1739.0L1055.5 1738.0L1056.3 1737.0L1057.1 1736.0L1058.0 1735.0L1058.8 1734.0L1059.6 1733.1L1060.4 1732.1L1061.2 1731.1L1062.1 1730.2L1062.9 1729.3L1063.7 1728.3L1064.5 1727.4L1065.3 1726.5L1066.2 1725.6L1067.0 1724.7L1067.8 1723.8L1068.6 1722.9L1069.4 1722.0L1070.3 1721.1L1071.1 1720.2L1071.9 1719.3L1072.7 1718.5L1073.5 1717.6L1074.4 1716.8L1075.2 1715.9L1076.0 1715.1L1076.8 1714.3L1077.6 1713.4L1078.5 1712.6L1079.3 1711.8L1080.1 1711.0L1080.9 1710.2L1081.7 1709.4L1082.6 1708.6L1083.4 1707.8L1084.2 1707.0L1085.0 1706.3L1085.8 1705.5L1086.7 1704.7L1087.5 1704.0L1088.3 1703.2L1089.1 1702.5L1089.9 1701.7L1090.8 1701.0L1091.6 1700.2L1092.4 1699.5L1093.2 1698.8L1094.0 1698.1L1094.9 1697.4L1095.7 1696.7L1096.5 1695.9L1097.3 1695.2L1098.1 1694.6L1099.0 1693.9L1099.8 1693.2L1100.6 1692.5L1101.4 1691.8L1102.2 1691.2L1103.0 1690.5L1103.9 1689.8L1104.7 1689.2L1105.5 1688.5L1106.3 1687.9L1107.1 1687.2L1108.0 1686.6L1108.8 1685.9L1109.6 1685.3L1110.4 1684.7L1111.2 1684.1L1112.1 1683.4L1112.9 1682.8L1113.7 1682.2L1114.5 1681.6L1115.3 1681.0L1116.2 1680.4L1117.0 1679.8L1117.8 1679.2L1118.6 1678.6L1119.4 1678.1L1120.3 1677.5L1121.1 1676.9L1121.9 1676.3L1122.7 1675.8L1123.5 1675.2L1124.4 1674.7L1125.2 1674.1L1126.0 1673.5L1126.8 1673.0L1127.6 1672.5L1128.5 1671.9L1129.3 1671.4L1130.1 1670.9L1130.9 1670.3L1131.7 1669.8L1132.6 1669.3L1133.4 1668.8L1134.2 1668.3L1135.0 1667.8L1135.8 1667.2L1136.7 1666.7L1137.5 1666.3L1138.3 1665.8L1139.1 1665.3L1139.9 1664.8L1140.8 1664.3L1141.6 1663.8L1142.4 1663.3L1143.2 1662.9L1144.0 1662.4L1144.9 1661.9L1145.7 1661.5L1146.5 1661.0L1147.3 1660.6L1148.1 1660.1L1149.0 1659.7L1149.8 1659.2L1150.6 1658.8L1151.4 1658.3L1152.2 1657.9L1153.1 1657.5L1153.9 1657.1L1154.7 1656.6L1155.5 1656.2L1156.3 1655.8L1157.2 1655.4L1158.0 1655.0L1158.8 1654.6L1159.6 1654.2L1160.4 1653.8L1161.3 1653.4L1162.1 1653.0L1162.9 1652.6L1163.7 1652.2L1164.5 1651.8L1165.3 1651.4L1166.2 1651.1L1167.0 1650.7L1167.8 1650.3L1168.6 1650.0L1169.4 1649.6L1170.3 1649.2L1171.1 1648.9L1171.9 1648.5L1172.7 1648.2L1173.5 1647.8L1174.4 1647.5L1175.2 1647.1L1176.0 1646.8L1176.8 1646.4L1177.6 1646.1L1178.5 1645.8L1179.3 1645.4L1180.1 1645.1L1180.9 1644.8L1181.7 1644.5L1182.6 1644.2L1183.4 1643.8L1184.2 1643.5L1185.0 1643.2L1185.8 1642.9L1186.7 1642.6L1187.5 1642.3L1188.3 1642.0L1189.1 1641.7L1189.9 1641.4L1190.8 1641.1L1191.6 1640.8L1192.4 1640.5L1193.2 1640.2L1194.0 1639.9L1194.9 1639.7L1195.7 1639.4L1196.5 1639.1L1197.3 1638.8L1198.1 1638.6L1199.0 1638.3L1199.8 1638.0L1200.6 1637.7L1201.4 1637.5L1202.2 1637.2L1203.1 1637.0L1203.9 1636.7L1204.7 1636.4L1205.5 1636.2L1206.3 1635.9L1207.2 1635.7L1208.0 1635.4L1208.8 1635.2L1209.6 1634.9L1210.4 1634.7L1211.3 1634.4L1212.1 1634.2L1212.9 1634.0L1213.7 1633.7L1214.5 1633.5L1215.4 1633.3L1216.2 1633.0L1217.0 1632.8L1217.8 1632.6L1218.6 1632.3L1219.5 1632.1L1220.3 1631.9L1221.1 1631.7L1221.9 1631.4L1222.7 1631.2L1223.5 1631.0L1224.4 1630.8L1225.2 1630.6L1226.0 1630.4L1226.8 1630.2L1227.6 1629.9L1228.5 1629.7L1229.3 1629.5L1230.1 1629.3L1230.9 1629.1L1231.7 1628.9L1232.6 1628.7L1233.4 1628.5L1234.2 1628.3L1235.0 1628.1L1235.8 1627.9L1236.7 1627.7L1237.5 1627.5L1238.3 1627.3L1239.1 1627.2L1239.9 1627.0L1240.8 1626.8L1241.6 1626.6L1242.4 1626.4L1243.2 1626.2L1244.0 1626.0L1244.9 1625.9L1245.7 1625.7L1246.5 1625.5L1247.3 1625.3L1248.1 1625.1L1249.0 1625.0L1249.8 1624.8L1250.6 1624.6L1251.4 1624.4L1252.2 1624.3L1253.1 1624.1L1253.9 1623.9L1254.7 1623.8L1255.5 1623.6L1256.3 1623.4L1257.2 1623.3L1258.0 1623.1L1258.8 1622.9L1259.6 1622.8L1260.4 1622.6L1261.3 1622.4L1262.1 1622.3L1262.9 1622.1L1263.7 1622.0L1264.5 1621.8L1265.4 1621.6L1266.2 1621.5L1267.0 1621.3L1267.8 1621.2L1268.6 1621.0L1269.5 1620.9L1270.3 1620.7L1271.1 1620.6L1271.9 1620.4L1272.7 1620.3L1273.6 1620.1L1274.4 1620.0L1275.2 1619.8L1276.0 1619.7L1276.8 1619.5L1277.7 1619.4L1278.5 1619.2L1279.3 1619.1L1280.1 1618.9L1280.9 1618.8L1281.8 1618.6L1282.6 1618.5L1283.4 1618.3L1284.2 1618.2L1285.0 1618.1L1285.8 1617.9L1286.7 1617.8L1287.5 1617.6L1288.3 1617.5L1289.1 1617.4L1289.9 1617.2L1290.8 1617.1L1291.6 1616.9L1292.4 1616.8L1293.2 1616.7L1294.0 1616.5L1294.9 1616.4L1295.7 1616.3L1296.5 1616.1L1297.3 1616.0L1298.1 1615.8L1299.0 1615.7L1299.8 1615.6L1300.6 1615.4L1301.4 1615.3L1302.2 1615.2L1303.1 1615.0L1303.9 1614.9L1304.7 1614.8L1305.5 1614.6L1306.3 1614.5L1307.2 1614.4L1308.0 1614.2L1308.8 1614.1L1309.6 1614.0L1310.4 1613.8L1311.3 1613.7L1312.1 1613.6L1312.9 1613.5L1313.7 1613.3L1314.5 1613.2L1315.4 1613.1L1316.2 1612.9L1317.0 1612.8L1317.8 1612.7L1318.6 1612.6L1319.5 1612.4L1320.3 1612.3L1321.1 1612.2L1321.9 1612.1L1322.7 1611.9L1323.6 1611.8L1324.4 1611.7L1325.2 1611.6L1326.0 1611.5L1326.8 1611.3L1327.7 1611.2L1328.5 1611.1L1329.3 1611.0L1330.1 1610.9L1330.9 1610.7L1331.8 1610.6L1332.6 1610.5L1333.4 1610.4L1334.2 1610.3L1335.0 1610.1L1335.9 1610.0L1336.7 1609.9L1337.5 1609.8L1338.3 1609.7L1339.1 1609.6L1340.0 1609.5L1340.8 1609.4L1341.6 1609.2L1342.4 1609.1L1343.2 1609.0L1344.0 1608.9L1344.9 1608.8L1345.7 1608.7L1346.5 1608.6L1347.3 1608.5L1348.1 1608.4L1349.0 1608.3L1349.8 1608.2L1350.6 1608.1L1351.4 1608.0L1352.2 1607.9L1353.1 1607.8L1353.9 1607.7L1354.7 1607.6L1355.5 1607.5L1356.3 1607.4L1357.2 1607.3L1358.0 1607.2L1358.8 1607.1L1359.6 1607.0L1360.4 1606.9L1361.3 1606.8L1362.1 1606.7L1362.9 1606.6L1363.7 1606.5L1364.5 1606.4L1365.4 1606.3L1366.2 1606.3L1367.0 1606.2L1367.8 1606.1L1368.6 1606.0L1369.5 1605.9L1370.3 1605.8L1371.1 1605.7L1371.9 1605.7L1372.7 1605.6L1373.6 1605.5L1374.4 1605.4L1375.2 1605.3L1376.0 1605.2L1376.8 1605.2L1377.7 1605.1L1378.5 1605.0L1379.3 1604.9L1380.1 1604.9L1380.9 1604.8L1381.8 1604.7L1382.6 1604.6L1383.4 1604.6L1384.2 1604.5L1385.0 1604.4L1385.9 1604.4L1386.7 1604.3L1387.5 1604.2L1388.3 1604.2L1389.1 1604.1L1390.0 1604.0L1390.8 1604.0L1391.6 1603.9L1392.4 1603.9L1393.2 1603.8L1394.1 1603.7L1394.9 1603.7L1395.7 1603.6L1396.5 1603.6L1397.3 1603.5L1398.2 1603.5L1399.0 1603.4L1399.8 1603.4L1400.6 1603.3L1401.4 1603.3L1402.3 1603.2L1403.1 1603.2L1403.9 1603.1L1404.7 1603.1L1405.5 1603.0L1406.3 1603.0L1407.2 1602.9L1408.0 1602.9L1408.8 1602.9L1409.6 1602.8L1410.4 1602.8L1411.3 1602.8L1412.1 1602.7L1412.9 1602.7L1413.7 1602.7L1414.5 1602.6L1415.4 1602.6L1416.2 1602.6L1417.0 1602.5L1417.8 1602.5L1418.6 1602.5L1419.5 1602.5L1420.3 1602.4L1421.1 1602.4L1421.9 1602.4L1422.7 1602.4L1423.6 1602.3L1424.4 1602.3L1425.2 1602.3L1426.0 1602.3L1426.8 1602.3L1427.7 1602.3L1428.5 1602.3L1429.3 1602.2L1430.1 1602.2L1430.9 1602.2L1431.8 1602.2L1432.6 1602.2L1433.4 1602.2" fill="none" stroke="#E8141A" stroke-width="4.6" stroke-linecap="round" stroke-linejoin="round"/>
<path d="M286.6 2208.5L287.4 2207.6L288.2 2206.7L289.1 2205.8L289.9 2204.9L290.7 2204.0L291.5 2203.1L292.3 2202.2L293.2 2201.3L294.0 2200.4L294.8 2199.4L295.6 2198.5L296.4 2197.6L297.3 2196.7L298.1 2195.7L298.9 2194.8L299.7 2193.9L300.5 2192.9L301.4 2192.0L302.2 2191.1L303.0 2190.2L303.8 2189.2L304.6 2188.3L305.5 2187.4L306.3 2186.5L307.1 2185.6L307.9 2184.7L308.7 2183.8L309.6 2182.9L310.4 2182.0L311.2 2181.1L312.0 2180.2L312.8 2179.3L313.7 2178.5L314.5 2177.6L315.3 2176.8L316.1 2175.9L316.9 2175.1L317.7 2174.3L318.6 2173.5L319.4 2172.7L320.2 2171.9L321.0 2171.1L321.8 2170.3L322.7 2169.5L323.5 2168.8L324.3 2168.0L325.1 2167.3L325.9 2166.6L326.8 2165.9L327.6 2165.2L328.4 2164.5L329.2 2163.8L330.0 2163.1L330.9 2162.4L331.7 2161.8L332.5 2161.1L333.3 2160.5L334.1 2159.9L335.0 2159.3L335.8 2158.6L336.6 2158.0L337.4 2157.4L338.2 2156.9L339.1 2156.3L339.9 2155.7L340.7 2155.2L341.5 2154.6L342.3 2154.1L343.2 2153.5L344.0 2153.0L344.8 2152.5L345.6 2151.9L346.4 2151.4L347.3 2150.9L348.1 2150.4L348.9 2150.0L349.7 2149.5L350.5 2149.0L351.4 2148.5L352.2 2148.1L353.0 2147.6L353.8 2147.2L354.6 2146.7L355.5 2146.3L356.3 2145.9L357.1 2145.5L357.9 2145.1L358.7 2144.6L359.6 2144.2L360.4 2143.9L361.2 2143.5L362.0 2143.1L362.8 2142.7L363.7 2142.4L364.5 2142.0L365.3 2141.7L366.1 2141.3L366.9 2141.0L367.8 2140.6L368.6 2140.3L369.4 2140.0L370.2 2139.7L371.0 2139.4L371.9 2139.1L372.7 2138.8L373.5 2138.5L374.3 2138.2L375.1 2138.0L376.0 2137.7L376.8 2137.5L377.6 2137.2L378.4 2137.0L379.2 2136.8L380.0 2136.5L380.9 2136.3L381.7 2136.1L382.5 2135.9L383.3 2135.7L384.1 2135.5L385.0 2135.4L385.8 2135.2L386.6 2135.0L387.4 2134.9L388.2 2134.7L389.1 2134.6L389.9 2134.5L390.7 2134.4L391.5 2134.3L392.3 2134.2L393.2 2134.1L394.0 2134.0L394.8 2133.9L395.6 2133.9L396.4 2133.8L397.3 2133.8L398.1 2133.7L398.9 2133.7L399.7 2133.7L400.5 2133.7L401.4 2133.7L402.2 2133.7L403.0 2133.7L403.8 2133.8L404.6 2133.8L405.5 2133.9L406.3 2134.0L407.1 2134.0L407.9 2134.1L408.7 2134.2L409.6 2134.3L410.4 2134.4L411.2 2134.6L412.0 2134.7L412.8 2134.8L413.7 2135.0L414.5 2135.2L415.3 2135.3L416.1 2135.5L416.9 2135.7L417.8 2135.9L418.6 2136.1L419.4 2136.3L420.2 2136.5L421.0 2136.8L421.9 2137.0L422.7 2137.3L423.5 2137.5L424.3 2137.8L425.1 2138.1L426.0 2138.4L426.8 2138.6L427.6 2138.9L428.4 2139.3L429.2 2139.6L430.1 2139.9L430.9 2140.2L431.7 2140.6L432.5 2140.9L433.3 2141.3L434.2 2141.6L435.0 2142.0L435.8 2142.4L436.6 2142.8L437.4 2143.1L438.2 2143.5L439.1 2143.9L439.9 2144.4L440.7 2144.8L441.5 2145.2L442.3 2145.6L443.2 2146.0L444.0 2146.5L444.8 2146.9L445.6 2147.4L446.4 2147.8L447.3 2148.3L448.1 2148.8L448.9 2149.2L449.7 2149.7L450.5 2150.2L451.4 2150.7L452.2 2151.2L453.0 2151.7L453.8 2152.2L454.6 2152.7L455.5 2153.2L456.3 2153.7L457.1 2154.2L457.9 2154.7L458.7 2155.2L459.6 2155.8L460.4 2156.3L461.2 2156.8L462.0 2157.4L462.8 2157.9L463.7 2158.4L464.5 2159.0L465.3 2159.5L466.1 2160.0L466.9 2160.6L467.8 2161.1L468.6 2161.7L469.4 2162.2L470.2 2162.8L471.0 2163.3L471.9 2163.9L472.7 2164.4L473.5 2165.0L474.3 2165.5L475.1 2166.1L476.0 2166.6L476.8 2167.2L477.6 2167.8L478.4 2168.3L479.2 2168.9L480.1 2169.4L480.9 2169.9L481.7 2170.5L482.5 2171.0L483.3 2171.6L484.2 2172.1L485.0 2172.7L485.8 2173.2L486.6 2173.7L487.4 2174.3L488.3 2174.8L489.1 2175.3L489.9 2175.9L490.7 2176.4L491.5 2176.9L492.4 2177.5L493.2 2178.0L494.0 2178.5L494.8 2179.0L495.6 2179.5L496.5 2180.1L497.3 2180.6L498.1 2181.1L498.9 2181.6L499.7 2182.1L500.5 2182.6L501.4 2183.1L502.2 2183.6L503.0 2184.1L503.8 2184.6L504.6 2185.1L505.5 2185.6L506.3 2186.1L507.1 2186.5L507.9 2187.0L508.7 2187.5L509.6 2188.0L510.4 2188.5L511.2 2188.9L512.0 2189.4L512.8 2189.9L513.7 2190.3L514.5 2190.8L515.3 2191.3L516.1 2191.7L516.9 2192.2L517.8 2192.6L518.6 2193.1L519.4 2193.5L520.2 2194.0L521.0 2194.4L521.9 2194.8L522.7 2195.3L523.5 2195.7L524.3 2196.1L525.1 2196.5L526.0 2197.0L526.8 2197.4L527.6 2197.8L528.4 2198.2L529.2 2198.6L530.1 2199.0L530.9 2199.4L531.7 2199.8L532.5 2200.2L533.3 2200.6L534.2 2201.0L535.0 2201.4L535.8 2201.8L536.6 2202.2L537.4 2202.6L538.3 2202.9L539.1 2203.3L539.9 2203.7L540.7 2204.0L541.5 2204.4L542.4 2204.7L543.2 2205.1L544.0 2205.5L544.8 2205.8L545.6 2206.1L546.5 2206.5L547.3 2206.8L548.1 2207.1L548.9 2207.5L549.7 2207.8L550.6 2208.1L551.4 2208.4L552.2 2208.8L553.0 2209.1L553.8 2209.4L554.7 2209.7L555.5 2210.0L556.3 2210.3L557.1 2210.6L557.9 2210.9L558.7 2211.2L559.6 2211.4L560.4 2211.7L561.2 2212.0L562.0 2212.3L562.8 2212.5L563.7 2212.8L564.5 2213.0L565.3 2213.3L566.1 2213.6L566.9 2213.8L567.8 2214.0L568.6 2214.3L569.4 2214.5L570.2 2214.8L571.0 2215.0L571.9 2215.2L572.7 2215.4L573.5 2215.6L574.3 2215.9L575.1 2216.1L576.0 2216.3L576.8 2216.5L577.6 2216.7L578.4 2216.9L579.2 2217.1L580.1 2217.2L580.9 2217.4L581.7 2217.6L582.5 2217.8L583.3 2218.0L584.2 2218.1L585.0 2218.3L585.8 2218.4L586.6 2218.6L587.4 2218.7L588.3 2218.9L589.1 2219.0L589.9 2219.2L590.7 2219.3L591.5 2219.4L592.4 2219.6L593.2 2219.7L594.0 2219.8L594.8 2219.9L595.6 2220.0L596.5 2220.1L597.3 2220.2L598.1 2220.3L598.9 2220.4L599.7 2220.5L600.6 2220.6L601.4 2220.7L602.2 2220.8L603.0 2220.9L603.8 2221.0L604.7 2221.0L605.5 2221.1L606.3 2221.2L607.1 2221.3L607.9 2221.3L608.8 2221.4L609.6 2221.4L610.4 2221.5L611.2 2221.6L612.0 2221.6L612.9 2221.7L613.7 2221.7L614.5 2221.8L615.3 2221.8L616.1 2221.8L617.0 2221.9L617.8 2221.9L618.6 2221.9L619.4 2222.0L620.2 2222.0L621.0 2222.0L621.9 2222.1L622.7 2222.1L623.5 2222.1L624.3 2222.1L625.1 2222.2L626.0 2222.2L626.8 2222.2L627.6 2222.2L628.4 2222.2L629.2 2222.2L630.1 2222.2L630.9 2222.3L631.7 2222.3L632.5 2222.3L633.3 2222.3L634.2 2222.3L635.0 2222.3L635.8 2222.3L636.6 2222.3L637.4 2222.3L638.3 2222.3L639.1 2222.3L639.9 2222.3L640.7 2222.3L641.5 2222.3L642.4 2222.3L643.2 2222.3L644.0 2222.3L644.8 2222.3L645.6 2222.3L646.5 2222.3L647.3 2222.2L648.1 2222.2L648.9 2222.2L649.7 2222.2L650.6 2222.2L651.4 2222.2L652.2 2222.2L653.0 2222.2L653.8 2222.2L654.7 2222.2L655.5 2222.2L656.3 2222.1L657.1 2222.1L657.9 2222.1L658.8 2222.1L659.6 2222.1L660.4 2222.1L661.2 2222.1L662.0 2222.1L662.9 2222.1L663.7 2222.1L664.5 2222.0L665.3 2222.0L666.1 2222.0L667.0 2222.0L667.8 2222.0L668.6 2222.0L669.4 2222.0L670.2 2222.0L671.1 2222.0L671.9 2222.0L672.7 2222.0L673.5 2222.0L674.3 2222.0L675.2 2222.0L676.0 2222.0L676.8 2222.0L677.6 2222.0L678.4 2222.0L679.2 2222.0L680.1 2222.0L680.9 2222.0L681.7 2222.0L682.5 2222.1L683.3 2222.1L684.2 2222.1L685.0 2222.1L685.8 2222.1L686.6 2222.1L687.4 2222.2L688.3 2222.2L689.1 2222.2L689.9 2222.2L690.7 2222.3L691.5 2222.3L692.4 2222.3L693.2 2222.3L694.0 2222.4L694.8 2222.4L695.6 2222.5L696.5 2222.5L697.3 2222.5L698.1 2222.6L698.9 2222.6L699.7 2222.7L700.6 2222.7L701.4 2222.8L702.2 2222.9L703.0 2222.9L703.8 2223.0L704.7 2223.0L705.5 2223.1L706.3 2223.2L707.1 2223.3L707.9 2223.3L708.8 2223.4L709.6 2223.5L710.4 2223.6L711.2 2223.7L712.0 2223.8L712.9 2223.9L713.7 2223.9L714.5 2224.0L715.3 2224.1L716.1 2224.3L717.0 2224.4L717.8 2224.5L718.6 2224.6L719.4 2224.7L720.2 2224.8L721.1 2224.9L721.9 2225.0L722.7 2225.2L723.5 2225.3L724.3 2225.4L725.2 2225.5L726.0 2225.7L726.8 2225.8L727.6 2225.9L728.4 2226.0L729.3 2226.2L730.1 2226.3L730.9 2226.4L731.7 2226.6L732.5 2226.7L733.4 2226.9L734.2 2227.0L735.0 2227.1L735.8 2227.3L736.6 2227.4L737.5 2227.5L738.3 2227.7L739.1 2227.8L739.9 2228.0L740.7 2228.1L741.5 2228.2L742.4 2228.4L743.2 2228.5L744.0 2228.6L744.8 2228.8L745.6 2228.9L746.5 2229.1L747.3 2229.2L748.1 2229.3L748.9 2229.5L749.7 2229.6L750.6 2229.7L751.4 2229.9L752.2 2230.0L753.0 2230.1L753.8 2230.2L754.7 2230.4L755.5 2230.5L756.3 2230.6L757.1 2230.7L757.9 2230.8L758.8 2231.0L759.6 2231.1L760.4 2231.2L761.2 2231.3L762.0 2231.4L762.9 2231.5L763.7 2231.6L764.5 2231.7L765.3 2231.8L766.1 2231.9L767.0 2232.0L767.8 2232.1L768.6 2232.2L769.4 2232.3L770.2 2232.4L771.1 2232.4L771.9 2232.5L772.7 2232.6L773.5 2232.6L774.3 2232.7L775.2 2232.8L776.0 2232.8L776.8 2232.9L777.6 2232.9L778.4 2233.0L779.3 2233.0L780.1 2233.1L780.9 2233.1L781.7 2233.2L782.5 2233.2L783.4 2233.3L784.2 2233.3L785.0 2233.3L785.8 2233.4L786.6 2233.4L787.5 2233.5L788.3 2233.5L789.1 2233.5L789.9 2233.6L790.7 2233.6L791.6 2233.6L792.4 2233.7L793.2 2233.7L794.0 2233.8L794.8 2233.8L795.7 2233.9L796.5 2233.9L797.3 2234.0L798.1 2234.0L798.9 2234.1L799.7 2234.1L800.6 2234.2L801.4 2234.3L802.2 2234.3L803.0 2234.4L803.8 2234.4L804.7 2234.5L805.5 2234.5L806.3 2234.6L807.1 2234.6L807.9 2234.6L808.8 2234.6L809.6 2234.6L810.4 2234.5L811.2 2234.4L812.0 2234.3L812.9 2234.2L813.7 2234.0L814.5 2233.8L815.3 2233.6L816.1 2233.3L817.0 2233.0L817.8 2232.6L818.6 2232.2L819.4 2231.8L820.2 2231.3L821.1 2230.7L821.9 2230.1L822.7 2229.5L823.5 2228.8L824.3 2228.0L825.2 2227.2L826.0 2226.4L826.8 2225.5L827.6 2224.7L828.4 2223.8L829.3 2222.9L830.1 2222.0L830.9 2221.1L831.7 2220.1L832.5 2219.1L833.4 2218.2L834.2 2217.2L835.0 2216.2L835.8 2215.1L836.6 2214.1L837.5 2213.0L838.3 2212.0L839.1 2210.9L839.9 2209.8L840.7 2208.6L841.6 2207.5L842.4 2206.3L843.2 2205.1L844.0 2203.9L844.8 2202.7L845.7 2201.5L846.5 2200.2L847.3 2198.9L848.1 2197.7L848.9 2196.3L849.8 2195.0L850.6 2193.6L851.4 2192.3L852.2 2190.9L853.0 2189.4L853.9 2188.0L854.7 2186.5L855.5 2185.0L856.3 2183.5L857.1 2181.9L858.0 2180.4L858.8 2178.8L859.6 2177.1L860.4 2175.5L861.2 2173.8L862.0 2172.1L862.9 2170.3L863.7 2168.5L864.5 2166.7L865.3 2164.9L866.1 2163.0L867.0 2161.1L867.8 2159.1L868.6 2157.2L869.4 2155.2L870.2 2153.1L871.1 2151.0L871.9 2148.9L872.7 2146.7L873.5 2144.5L874.3 2142.3L875.2 2140.0L876.0 2137.7L876.8 2135.3L877.6 2133.0L878.4 2130.5L879.3 2128.1L880.1 2125.6L880.9 2123.0L881.7 2120.4L882.5 2117.8L883.4 2115.2L884.2 2112.5L885.0 2109.8L885.8 2107.0L886.6 2104.3L887.5 2101.5L888.3 2098.7L889.1 2095.9L889.9 2093.0L890.7 2090.2L891.6 2087.3L892.4 2084.4L893.2 2081.5L894.0 2078.6L894.8 2075.7L895.7 2072.8L896.5 2069.8L897.3 2066.9L898.1 2063.9L898.9 2060.9L899.8 2057.9L900.6 2054.9L901.4 2051.9L902.2 2048.9L903.0 2045.9L903.9 2042.8L904.7 2039.8L905.5 2036.7L906.3 2033.6L907.1 2030.5L908.0 2027.4L908.8 2024.3L909.6 2021.2L910.4 2018.1L911.2 2014.9L912.1 2011.8L912.9 2008.6L913.7 2005.5L914.5 2002.3L915.3 1999.1L916.2 1996.0L917.0 1992.8L917.8 1989.6L918.6 1986.4L919.4 1983.2L920.3 1980.0L921.1 1976.7L921.9 1973.5L922.7 1970.3L923.5 1967.1L924.3 1963.8L925.2 1960.6L926.0 1957.4L926.8 1954.1L927.6 1950.9L928.4 1947.6L929.3 1944.4L930.1 1941.2L930.9 1937.9L931.7 1934.7L932.5 1931.4L933.4 1928.2L934.2 1924.9L935.0 1921.7L935.8 1918.5L936.6 1915.2L937.5 1912.0L938.3 1908.8L939.1 1905.6L939.9 1902.4L940.7 1899.1L941.6 1895.9L942.4 1892.7L943.2 1889.5L944.0 1886.3L944.8 1883.2L945.7 1880.0L946.5 1876.8L947.3 1873.6L948.1 1870.5L948.9 1867.3L949.8 1864.2L950.6 1861.1L951.4 1858.0L952.2 1854.8L953.0 1851.7L953.9 1848.6L954.7 1845.6L955.5 1842.5L956.3 1839.4L957.1 1836.4L958.0 1833.3L958.8 1830.3L959.6 1827.3L960.4 1824.3L961.2 1821.3L962.1 1818.3L962.9 1815.3L963.7 1812.3L964.5 1809.4L965.3 1806.5L966.2 1803.6L967.0 1800.7L967.8 1797.8L968.6 1795.0L969.4 1792.2L970.3 1789.4L971.1 1786.6L971.9 1783.9L972.7 1781.1L973.5 1778.4L974.4 1775.8L975.2 1773.2L976.0 1770.6L976.8 1768.0L977.6 1765.4L978.5 1762.9L979.3 1760.4L980.1 1758.0L980.9 1755.6L981.7 1753.2L982.5 1750.8L983.4 1748.5L984.2 1746.1L985.0 1743.9L985.8 1741.6L986.6 1739.4L987.5 1737.2L988.3 1735.0L989.1 1732.9L989.9 1730.8L990.7 1728.7L991.6 1726.6L992.4 1724.6L993.2 1722.6L994.0 1720.6L994.8 1718.7L995.7 1716.8L996.5 1714.9L997.3 1713.0L998.1 1711.1L998.9 1709.3L999.8 1707.5L1000.6 1705.7L1001.4 1704.0L1002.2 1702.2L1003.0 1700.5L1003.9 1698.8L1004.7 1697.1L1005.5 1695.5L1006.3 1693.9L1007.1 1692.2L1008.0 1690.7L1008.8 1689.1L1009.6 1687.5L1010.4 1686.0L1011.2 1684.5L1012.1 1683.0L1012.9 1681.5L1013.7 1680.1L1014.5 1678.6L1015.3 1677.2L1016.2 1675.8L1017.0 1674.4L1017.8 1673.0L1018.6 1671.6L1019.4 1670.3L1020.3 1669.0L1021.1 1667.7L1021.9 1666.4L1022.7 1665.1L1023.5 1663.8L1024.4 1662.6L1025.2 1661.3L1026.0 1660.1L1026.8 1658.9L1027.6 1657.7L1028.5 1656.5L1029.3 1655.3L1030.1 1654.2L1030.9 1653.0L1031.7 1651.9L1032.6 1650.8L1033.4 1649.7L1034.2 1648.6L1035.0 1647.5L1035.8 1646.4L1036.7 1645.3L1037.5 1644.3L1038.3 1643.2L1039.1 1642.2L1039.9 1641.2L1040.8 1640.2L1041.6 1639.2L1042.4 1638.2L1043.2 1637.2L1044.0 1636.2L1044.8 1635.3L1045.7 1634.3L1046.5 1633.4L1047.3 1632.4L1048.1 1631.5L1048.9 1630.6L1049.8 1629.7L1050.6 1628.8L1051.4 1627.9L1052.2 1627.0L1053.0 1626.1L1053.9 1625.3L1054.7 1624.4L1055.5 1623.5L1056.3 1622.7L1057.1 1621.8L1058.0 1621.0L1058.8 1620.2L1059.6 1619.3L1060.4 1618.5L1061.2 1617.7L1062.1 1616.9L1062.9 1616.1L1063.7 1615.3L1064.5 1614.5L1065.3 1613.8L1066.2 1613.0L1067.0 1612.2L1067.8 1611.5L1068.6 1610.7L1069.4 1609.9L1070.3 1609.2L1071.1 1608.5L1071.9 1607.7L1072.7 1607.0L1073.5 1606.3L1074.4 1605.6L1075.2 1604.8L1076.0 1604.1L1076.8 1603.4L1077.6 1602.7L1078.5 1602.0L1079.3 1601.4L1080.1 1600.7L1080.9 1600.0L1081.7 1599.3L1082.6 1598.6L1083.4 1598.0L1084.2 1597.3L1085.0 1596.7L1085.8 1596.0L1086.7 1595.4L1087.5 1594.7L1088.3 1594.1L1089.1 1593.5L1089.9 1592.8L1090.8 1592.2L1091.6 1591.6L1092.4 1591.0L1093.2 1590.4L1094.0 1589.7L1094.9 1589.1L1095.7 1588.5L1096.5 1587.9L1097.3 1587.4L1098.1 1586.8L1099.0 1586.2L1099.8 1585.6L1100.6 1585.0L1101.4 1584.4L1102.2 1583.9L1103.0 1583.3L1103.9 1582.8L1104.7 1582.2L1105.5 1581.6L1106.3 1581.1L1107.1 1580.5L1108.0 1580.0L1108.8 1579.5L1109.6 1578.9L1110.4 1578.4L1111.2 1577.9L1112.1 1577.3L1112.9 1576.8L1113.7 1576.3L1114.5 1575.8L1115.3 1575.3L1116.2 1574.8L1117.0 1574.2L1117.8 1573.7L1118.6 1573.2L1119.4 1572.8L1120.3 1572.3L1121.1 1571.8L1121.9 1571.3L1122.7 1570.8L1123.5 1570.3L1124.4 1569.8L1125.2 1569.4L1126.0 1568.9L1126.8 1568.4L1127.6 1568.0L1128.5 1567.5L1129.3 1567.0L1130.1 1566.6L1130.9 1566.1L1131.7 1565.7L1132.6 1565.2L1133.4 1564.8L1134.2 1564.4L1135.0 1563.9L1135.8 1563.5L1136.7 1563.1L1137.5 1562.6L1138.3 1562.2L1139.1 1561.8L1139.9 1561.4L1140.8 1560.9L1141.6 1560.5L1142.4 1560.1L1143.2 1559.7L1144.0 1559.3L1144.9 1558.9L1145.7 1558.5L1146.5 1558.1L1147.3 1557.7L1148.1 1557.3L1149.0 1556.9L1149.8 1556.6L1150.6 1556.2L1151.4 1555.8L1152.2 1555.4L1153.1 1555.0L1153.9 1554.7L1154.7 1554.3L1155.5 1553.9L1156.3 1553.6L1157.2 1553.2L1158.0 1552.8L1158.8 1552.5L1159.6 1552.1L1160.4 1551.8L1161.3 1551.4L1162.1 1551.1L1162.9 1550.7L1163.7 1550.4L1164.5 1550.1L1165.3 1549.7L1166.2 1549.4L1167.0 1549.1L1167.8 1548.7L1168.6 1548.4L1169.4 1548.1L1170.3 1547.8L1171.1 1547.5L1171.9 1547.1L1172.7 1546.8L1173.5 1546.5L1174.4 1546.2L1175.2 1545.9L1176.0 1545.6L1176.8 1545.3L1177.6 1545.0L1178.5 1544.7L1179.3 1544.4L1180.1 1544.1L1180.9 1543.8L1181.7 1543.5L1182.6 1543.2L1183.4 1543.0L1184.2 1542.7L1185.0 1542.4L1185.8 1542.1L1186.7 1541.8L1187.5 1541.6L1188.3 1541.3L1189.1 1541.0L1189.9 1540.7L1190.8 1540.5L1191.6 1540.2L1192.4 1540.0L1193.2 1539.7L1194.0 1539.4L1194.9 1539.2L1195.7 1538.9L1196.5 1538.7L1197.3 1538.4L1198.1 1538.2L1199.0 1537.9L1199.8 1537.7L1200.6 1537.4L1201.4 1537.2L1202.2 1536.9L1203.1 1536.7L1203.9 1536.5L1204.7 1536.2L1205.5 1536.0L1206.3 1535.8L1207.2 1535.5L1208.0 1535.3L1208.8 1535.1L1209.6 1534.8L1210.4 1534.6L1211.3 1534.4L1212.1 1534.2L1212.9 1533.9L1213.7 1533.7L1214.5 1533.5L1215.4 1533.3L1216.2 1533.1L1217.0 1532.9L1217.8 1532.6L1218.6 1532.4L1219.5 1532.2L1220.3 1532.0L1221.1 1531.8L1221.9 1531.6L1222.7 1531.4L1223.5 1531.2L1224.4 1531.0L1225.2 1530.8L1226.0 1530.6L1226.8 1530.4L1227.6 1530.2L1228.5 1530.0L1229.3 1529.8L1230.1 1529.6L1230.9 1529.4L1231.7 1529.2L1232.6 1529.0L1233.4 1528.8L1234.2 1528.6L1235.0 1528.4L1235.8 1528.3L1236.7 1528.1L1237.5 1527.9L1238.3 1527.7L1239.1 1527.5L1239.9 1527.3L1240.8 1527.2L1241.6 1527.0L1242.4 1526.8L1243.2 1526.6L1244.0 1526.4L1244.9 1526.3L1245.7 1526.1L1246.5 1525.9L1247.3 1525.7L1248.1 1525.6L1249.0 1525.4L1249.8 1525.2L1250.6 1525.0L1251.4 1524.9L1252.2 1524.7L1253.1 1524.5L1253.9 1524.4L1254.7 1524.2L1255.5 1524.0L1256.3 1523.9L1257.2 1523.7L1258.0 1523.5L1258.8 1523.4L1259.6 1523.2L1260.4 1523.0L1261.3 1522.9L1262.1 1522.7L1262.9 1522.5L1263.7 1522.4L1264.5 1522.2L1265.4 1522.1L1266.2 1521.9L1267.0 1521.7L1267.8 1521.6L1268.6 1521.4L1269.5 1521.3L1270.3 1521.1L1271.1 1521.0L1271.9 1520.8L1272.7 1520.6L1273.6 1520.5L1274.4 1520.3L1275.2 1520.2L1276.0 1520.0L1276.8 1519.9L1277.7 1519.7L1278.5 1519.6L1279.3 1519.4L1280.1 1519.3L1280.9 1519.1L1281.8 1519.0L1282.6 1518.8L1283.4 1518.6L1284.2 1518.5L1285.0 1518.3L1285.8 1518.2L1286.7 1518.0L1287.5 1517.9L1288.3 1517.7L1289.1 1517.6L1289.9 1517.4L1290.8 1517.3L1291.6 1517.1L1292.4 1517.0L1293.2 1516.8L1294.0 1516.7L1294.9 1516.5L1295.7 1516.4L1296.5 1516.2L1297.3 1516.1L1298.1 1515.9L1299.0 1515.8L1299.8 1515.6L1300.6 1515.5L1301.4 1515.3L1302.2 1515.2L1303.1 1515.0L1303.9 1514.9L1304.7 1514.7L1305.5 1514.6L1306.3 1514.4L1307.2 1514.3L1308.0 1514.1L1308.8 1514.0L1309.6 1513.8L1310.4 1513.7L1311.3 1513.6L1312.1 1513.4L1312.9 1513.3L1313.7 1513.1L1314.5 1513.0L1315.4 1512.8L1316.2 1512.7L1317.0 1512.5L1317.8 1512.4L1318.6 1512.2L1319.5 1512.1L1320.3 1511.9L1321.1 1511.8L1321.9 1511.6L1322.7 1511.5L1323.6 1511.4L1324.4 1511.2L1325.2 1511.1L1326.0 1510.9L1326.8 1510.8L1327.7 1510.6L1328.5 1510.5L1329.3 1510.4L1330.1 1510.2L1330.9 1510.1L1331.8 1509.9L1332.6 1509.8L1333.4 1509.7L1334.2 1509.5L1335.0 1509.4L1335.9 1509.2L1336.7 1509.1L1337.5 1509.0L1338.3 1508.8L1339.1 1508.7L1340.0 1508.6L1340.8 1508.4L1341.6 1508.3L1342.4 1508.2L1343.2 1508.0L1344.0 1507.9L1344.9 1507.8L1345.7 1507.6L1346.5 1507.5L1347.3 1507.4L1348.1 1507.2L1349.0 1507.1L1349.8 1507.0L1350.6 1506.9L1351.4 1506.7L1352.2 1506.6L1353.1 1506.5L1353.9 1506.3L1354.7 1506.2L1355.5 1506.1L1356.3 1506.0L1357.2 1505.9L1358.0 1505.7L1358.8 1505.6L1359.6 1505.5L1360.4 1505.4L1361.3 1505.3L1362.1 1505.1L1362.9 1505.0L1363.7 1504.9L1364.5 1504.8L1365.4 1504.7L1366.2 1504.6L1367.0 1504.5L1367.8 1504.3L1368.6 1504.2L1369.5 1504.1L1370.3 1504.0L1371.1 1503.9L1371.9 1503.8L1372.7 1503.7L1373.6 1503.6L1374.4 1503.5L1375.2 1503.4L1376.0 1503.3L1376.8 1503.2L1377.7 1503.1L1378.5 1503.0L1379.3 1502.9L1380.1 1502.8L1380.9 1502.7L1381.8 1502.6L1382.6 1502.5L1383.4 1502.4L1384.2 1502.3L1385.0 1502.2L1385.9 1502.2L1386.7 1502.1L1387.5 1502.0L1388.3 1501.9L1389.1 1501.8L1390.0 1501.7L1390.8 1501.6L1391.6 1501.6L1392.4 1501.5L1393.2 1501.4L1394.1 1501.3L1394.9 1501.2L1395.7 1501.2L1396.5 1501.1L1397.3 1501.0L1398.2 1501.0L1399.0 1500.9L1399.8 1500.8L1400.6 1500.7L1401.4 1500.7L1402.3 1500.6L1403.1 1500.6L1403.9 1500.5L1404.7 1500.4L1405.5 1500.4L1406.3 1500.3L1407.2 1500.3L1408.0 1500.2L1408.8 1500.1L1409.6 1500.1L1410.4 1500.0L1411.3 1500.0L1412.1 1499.9L1412.9 1499.9L1413.7 1499.8L1414.5 1499.8L1415.4 1499.8L1416.2 1499.7L1417.0 1499.7L1417.8 1499.6L1418.6 1499.6L1419.5 1499.6L1420.3 1499.5L1421.1 1499.5L1421.9 1499.5L1422.7 1499.4L1423.6 1499.4L1424.4 1499.4L1425.2 1499.4L1426.0 1499.3L1426.8 1499.3L1427.7 1499.3L1428.5 1499.3L1429.3 1499.3L1430.1 1499.2L1430.9 1499.2L1431.8 1499.2L1432.6 1499.2L1433.4 1499.2" fill="none" stroke="#2B79BB" stroke-width="4.6" stroke-linecap="round" stroke-linejoin="round"/>
<rect x="240.8" y="13.5" width="1237.6" height="1073.6" fill="none" stroke="#000" stroke-width="5.0" stroke-linejoin="round"/>
<line x1="240.8" y1="1047.4" x2="216.5" y2="1047.4" stroke="#000" stroke-width="5.0"/>
<text transform="translate(191.5 1070.3) scale(1 1.03)" text-anchor="end" class="tk">0</text>
<line x1="240.8" y1="848.6" x2="216.5" y2="848.6" stroke="#000" stroke-width="5.0"/>
<text transform="translate(191.5 870.1) scale(1 1.03)" text-anchor="end" class="tk">10</text>
<line x1="240.8" y1="649.8" x2="216.5" y2="649.8" stroke="#000" stroke-width="5.0"/>
<text transform="translate(191.5 672.3) scale(1 1.03)" text-anchor="end" class="tk">20</text>
<line x1="240.8" y1="451.0" x2="216.5" y2="451.0" stroke="#000" stroke-width="5.0"/>
<text transform="translate(191.5 471.0) scale(1 1.03)" text-anchor="end" class="tk">30</text>
<line x1="240.8" y1="252.2" x2="216.5" y2="252.2" stroke="#000" stroke-width="5.0"/>
<text transform="translate(191.5 274.3) scale(1 1.03)" text-anchor="end" class="tk">40</text>
<line x1="240.8" y1="53.4" x2="216.5" y2="53.4" stroke="#000" stroke-width="5.0"/>
<text transform="translate(191.5 77.6) scale(1 1.03)" text-anchor="end" class="tk">50</text>
<line x1="286.6" y1="1087.1" x2="286.6" y2="1116.1" stroke="#000" stroke-width="5.0"/>
<text transform="translate(286.0 1182.1) scale(1 1.035)" text-anchor="middle" class="tk">300</text>
<line x1="573.3" y1="1087.1" x2="573.3" y2="1116.1" stroke="#000" stroke-width="5.0"/>
<text transform="translate(572.7 1182.1) scale(1 1.035)" text-anchor="middle" class="tk">400</text>
<line x1="860.0" y1="1087.1" x2="860.0" y2="1116.1" stroke="#000" stroke-width="5.0"/>
<text transform="translate(859.4 1182.1) scale(1 1.035)" text-anchor="middle" class="tk">500</text>
<line x1="1146.7" y1="1087.1" x2="1146.7" y2="1116.1" stroke="#000" stroke-width="5.0"/>
<text transform="translate(1146.1 1182.1) scale(1 1.035)" text-anchor="middle" class="tk">600</text>
<line x1="1433.4" y1="1087.1" x2="1433.4" y2="1116.1" stroke="#000" stroke-width="5.0"/>
<text transform="translate(1432.8 1182.1) scale(1 1.035)" text-anchor="middle" class="tk">700</text>
<rect x="240.8" y="1278.6" width="1237.6" height="1022.4" fill="none" stroke="#000" stroke-width="5.0" stroke-linejoin="round"/>
<line x1="240.8" y1="2263.3" x2="216.5" y2="2263.3" stroke="#000" stroke-width="5.0"/>
<text transform="translate(191.5 2285.3) scale(1 1.03)" text-anchor="end" class="tk">0</text>
<line x1="240.8" y1="2073.9" x2="216.5" y2="2073.9" stroke="#000" stroke-width="5.0"/>
<text transform="translate(191.5 2095.9) scale(1 1.03)" text-anchor="end" class="tk">10</text>
<line x1="240.8" y1="1884.6" x2="216.5" y2="1884.6" stroke="#000" stroke-width="5.0"/>
<text transform="translate(191.5 1906.6) scale(1 1.03)" text-anchor="end" class="tk">20</text>
<line x1="240.8" y1="1695.2" x2="216.5" y2="1695.2" stroke="#000" stroke-width="5.0"/>
<text transform="translate(191.5 1717.2) scale(1 1.03)" text-anchor="end" class="tk">30</text>
<line x1="240.8" y1="1505.9" x2="216.5" y2="1505.9" stroke="#000" stroke-width="5.0"/>
<text transform="translate(191.5 1527.0) scale(1 1.03)" text-anchor="end" class="tk">40</text>
<line x1="240.8" y1="1316.5" x2="216.5" y2="1316.5" stroke="#000" stroke-width="5.0"/>
<text transform="translate(191.5 1339.4) scale(1 1.03)" text-anchor="end" class="tk">50</text>
<line x1="286.6" y1="2301.0" x2="286.6" y2="2326.0" stroke="#000" stroke-width="5.0"/>
<text transform="translate(286.0 2392.0) scale(1 1.035)" text-anchor="middle" class="tk">300</text>
<line x1="573.3" y1="2301.0" x2="573.3" y2="2326.0" stroke="#000" stroke-width="5.0"/>
<text transform="translate(572.7 2392.0) scale(1 1.035)" text-anchor="middle" class="tk">400</text>
<line x1="860.0" y1="2301.0" x2="860.0" y2="2326.0" stroke="#000" stroke-width="5.0"/>
<text transform="translate(859.4 2392.0) scale(1 1.035)" text-anchor="middle" class="tk">500</text>
<line x1="1146.7" y1="2301.0" x2="1146.7" y2="2326.0" stroke="#000" stroke-width="5.0"/>
<text transform="translate(1146.1 2392.0) scale(1 1.035)" text-anchor="middle" class="tk">600</text>
<line x1="1433.4" y1="2301.0" x2="1433.4" y2="2326.0" stroke="#000" stroke-width="5.0"/>
<text transform="translate(1432.8 2392.0) scale(1 1.035)" text-anchor="middle" class="tk">700</text>
<text transform="translate(7.3 64.7) scale(0.933 1)" class="pl" style="font-size:88px">A</text>
<text x="-1.0" y="1322.0" class="pl">B</text>
<line x1="319" y1="119" x2="412" y2="119" stroke="#E8141A" stroke-width="2.6" stroke-linecap="round"/>
<line x1="319" y1="191.3" x2="412" y2="191.3" stroke="#2B79BB" stroke-width="2.6" stroke-linecap="round"/>
<text x="438.5" y="136.5" class="lg">Male</text>
<text x="438.5" y="209.2" class="lg">Female</text>
<text transform="translate(69.2 549) rotate(-90)" text-anchor="middle" class="al">Reflectance (%)</text>
<text transform="translate(69.2 1763) rotate(-90)" text-anchor="middle" class="al">Reflectance (%)</text>
<text x="863" y="2485.6" text-anchor="middle" class="al">Wavelength (nm)</text>
</svg>
</body></html>
